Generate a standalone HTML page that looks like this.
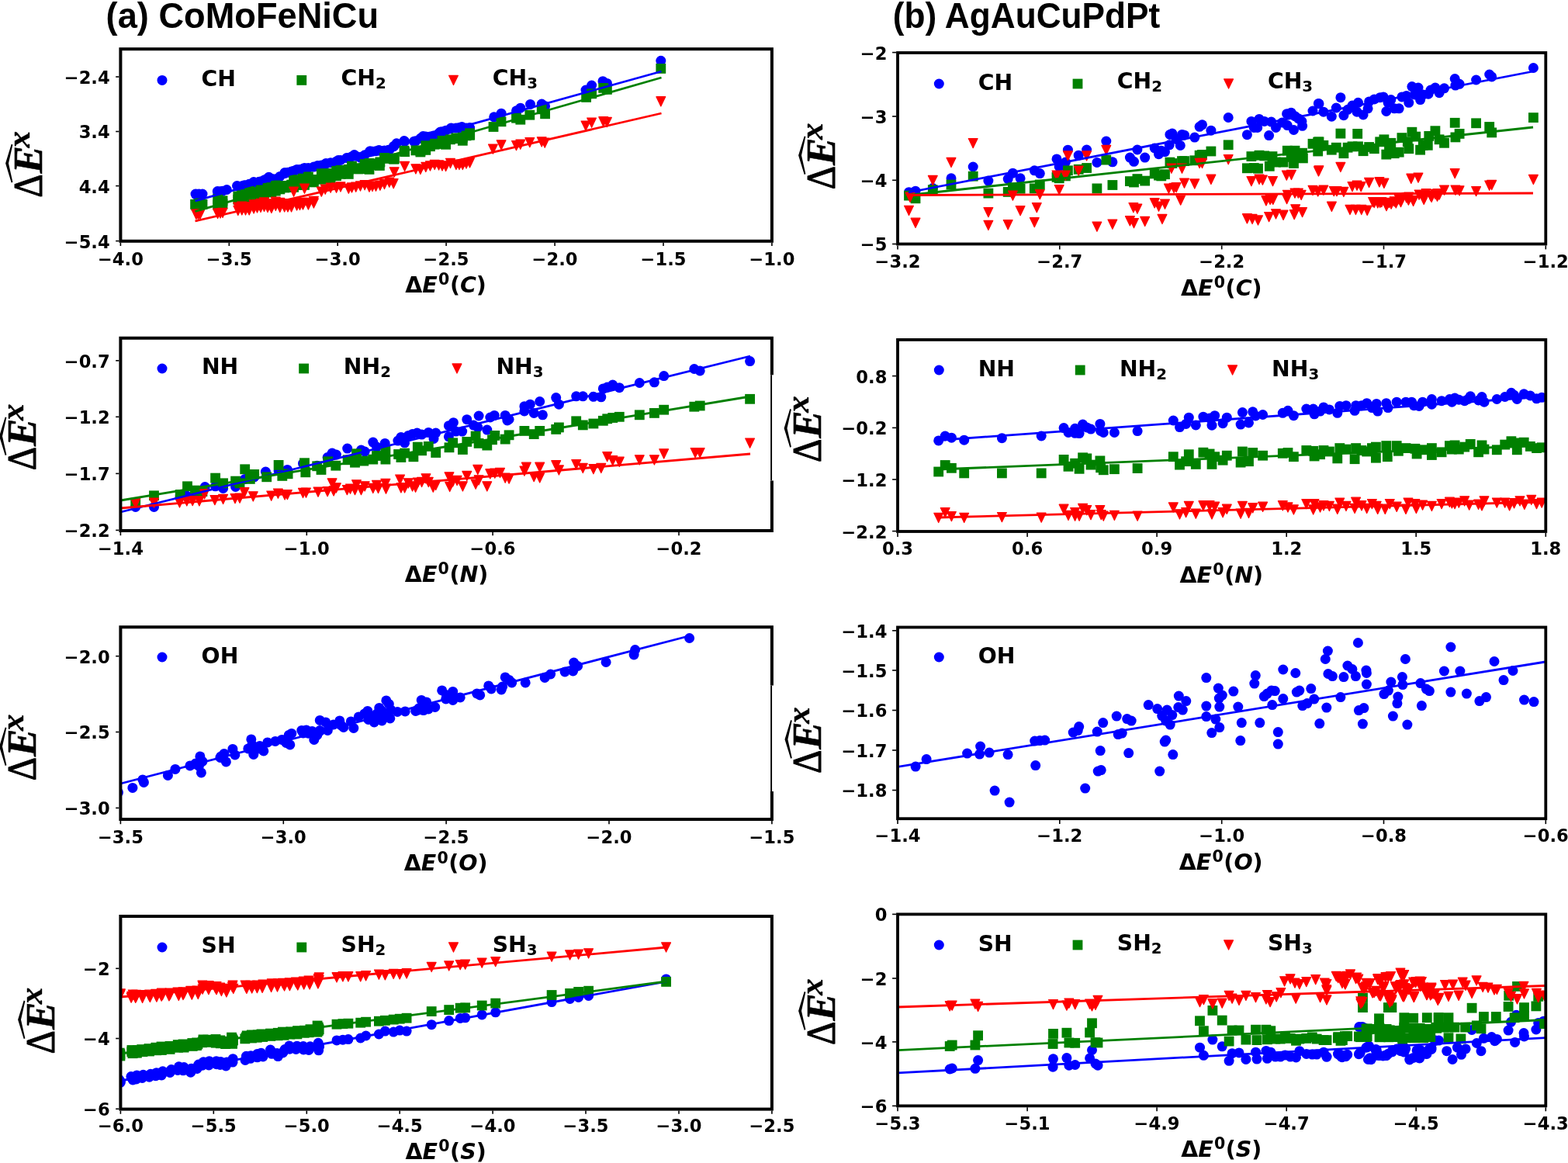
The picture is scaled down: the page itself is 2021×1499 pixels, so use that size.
<!DOCTYPE html>
<html lang="en"><head><meta charset="utf-8"><title>Scaling relations</title>
<style>
html,body{margin:0;padding:0;background:#fff;}
body{width:2021px;height:1499px;overflow:hidden;}
svg{display:block;}
.t{font-family:"DejaVu Sans","Liberation Sans",sans-serif;font-weight:bold;font-size:22.6px;fill:#000;}
.lg{font-family:"DejaVu Sans","Liberation Sans",sans-serif;font-weight:bold;font-size:28.3px;fill:#000;}
.xl{font-family:"DejaVu Sans","Liberation Sans",sans-serif;font-weight:bold;font-size:28.5px;fill:#000;}
.ttl{font-family:"Liberation Sans",sans-serif;font-weight:bold;font-size:46.5px;fill:#000;}
.yl{font-family:"Liberation Serif","DejaVu Serif",serif;font-weight:bold;fill:#000;}
.i{font-style:italic;}
.mb{fill:#0000ff;}.mg{fill:#008000;}.mr{fill:#ff0000;stroke:#ff0000;stroke-width:1.2;stroke-linejoin:round;}
</style></head><body>
<svg width="2021" height="1499" viewBox="0 0 2021 1499">
<rect x="0" y="0" width="2021" height="1499" fill="#fff"/>
<g id="a1">
<text class="t" x="141.7" y="107.9" text-anchor="end">−2.4</text>
<text class="t" x="141.7" y="178.4" text-anchor="end">−3.4</text>
<text class="t" x="141.7" y="248.5" text-anchor="end">−4.4</text>
<text class="t" x="141.7" y="319.5" text-anchor="end">−5.4</text>
<rect x="0" y="130" width="99.5" height="140" fill="#fff"/>
<clipPath id="c1"><rect x="155.4" y="63.2" width="839.5" height="247.6"/></clipPath>
<g clip-path="url(#c1)">
<circle class="mb" cx="252" cy="250.1" r="6.5"/>
<circle class="mb" cx="256.5" cy="250.1" r="6.5"/>
<circle class="mb" cx="261" cy="250.1" r="6.5"/>
<circle class="mb" cx="280.3" cy="246.5" r="6.5"/>
<circle class="mb" cx="292.3" cy="244.5" r="6.5"/>
<circle class="mb" cx="305.5" cy="239.5" r="6.5"/>
<circle class="mb" cx="315" cy="238.7" r="6.5"/>
<circle class="mb" cx="327" cy="234.5" r="6.5"/>
<circle class="mb" cx="334" cy="234.3" r="6.5"/>
<circle class="mb" cx="346.5" cy="228.3" r="6.5"/>
<circle class="mb" cx="354" cy="231" r="6.5"/>
<circle class="mb" cx="367" cy="222.6" r="6.5"/>
<circle class="mb" cx="382.6" cy="218.4" r="6.5"/>
<circle class="mb" cx="392.5" cy="216.4" r="6.5"/>
<circle class="mb" cx="409.3" cy="213.5" r="6.5"/>
<circle class="mb" cx="420.2" cy="210.5" r="6.5"/>
<circle class="mb" cx="436" cy="206.5" r="6.5"/>
<circle class="mb" cx="446.8" cy="203.6" r="6.5"/>
<circle class="mb" cx="456.7" cy="199.6" r="6.5"/>
<circle class="mb" cx="464.2" cy="202.6" r="6.5"/>
<circle class="mb" cx="477" cy="194.7" r="6.5"/>
<circle class="mb" cx="488.4" cy="193.5" r="6.5"/>
<circle class="mb" cx="500.8" cy="193.2" r="6.5"/>
<circle class="mb" cx="511.2" cy="184.8" r="6.5"/>
<circle class="mb" cx="520.9" cy="181.6" r="6.5"/>
<circle class="mb" cx="533.5" cy="182.3" r="6.5"/>
<circle class="mb" cx="545.3" cy="175.5" r="6.5"/>
<circle class="mb" cx="558.7" cy="174.9" r="6.5"/>
<circle class="mb" cx="567.6" cy="169.9" r="6.5"/>
<circle class="mb" cx="581.5" cy="164.9" r="6.5"/>
<circle class="mb" cx="595.3" cy="163.5" r="6.5"/>
<circle class="mb" cx="605.5" cy="164.5" r="6.5"/>
<circle class="mb" cx="636.7" cy="150.8" r="6.5"/>
<circle class="mb" cx="646.1" cy="146.2" r="6.5"/>
<circle class="mb" cx="665.5" cy="142.8" r="6.5"/>
<circle class="mb" cx="670.8" cy="139.2" r="6.5"/>
<circle class="mb" cx="683.5" cy="134.4" r="6.5"/>
<circle class="mb" cx="698.2" cy="134.1" r="6.5"/>
<circle class="mb" cx="702.6" cy="136.8" r="6.5"/>
<circle class="mb" cx="755" cy="116.1" r="6.5"/>
<circle class="mb" cx="762.6" cy="110.1" r="6.5"/>
<circle class="mb" cx="777" cy="104.7" r="6.5"/>
<circle class="mb" cx="782.4" cy="107.4" r="6.5"/>
<circle class="mb" cx="851.8" cy="78.3" r="6.5"/>
<circle class="mb" cx="252.9" cy="250.9" r="6.5"/>
<circle class="mb" cx="255.5" cy="250.9" r="6.5"/>
<circle class="mb" cx="257.8" cy="250.9" r="6.5"/>
<circle class="mb" cx="280.6" cy="247.2" r="6.5"/>
<circle class="mb" cx="284" cy="246.7" r="6.5"/>
<circle class="mb" cx="287" cy="246.2" r="6.5"/>
<circle class="mb" cx="306.8" cy="240.2" r="6.5"/>
<circle class="mb" cx="311.8" cy="239.8" r="6.5"/>
<circle class="mb" cx="316.5" cy="239" r="6.5"/>
<circle class="mb" cx="321.2" cy="237.3" r="6.5"/>
<circle class="mb" cx="327.1" cy="235.3" r="6.5"/>
<circle class="mb" cx="331.5" cy="235.2" r="6.5"/>
<circle class="mb" cx="336" cy="234.1" r="6.5"/>
<circle class="mb" cx="340.5" cy="232" r="6.5"/>
<circle class="mb" cx="345" cy="229.8" r="6.5"/>
<circle class="mb" cx="349.9" cy="230.3" r="6.5"/>
<circle class="mb" cx="355.3" cy="231" r="6.5"/>
<circle class="mb" cx="360.8" cy="227.4" r="6.5"/>
<circle class="mb" cx="366.7" cy="223.6" r="6.5"/>
<circle class="mb" cx="371" cy="222.3" r="6.5"/>
<circle class="mb" cx="375.6" cy="221.1" r="6.5"/>
<circle class="mb" cx="378.6" cy="220.3" r="6.5"/>
<circle class="mb" cx="382.6" cy="219.2" r="6.5"/>
<circle class="mb" cx="386.5" cy="218.4" r="6.5"/>
<circle class="mb" cx="390.5" cy="217.6" r="6.5"/>
<circle class="mb" cx="392.5" cy="217.2" r="6.5"/>
<circle class="mb" cx="397.4" cy="216.4" r="6.5"/>
<circle class="mb" cx="404.4" cy="215.1" r="6.5"/>
<circle class="mb" cx="414.3" cy="212.9" r="6.5"/>
<circle class="mb" cx="419.2" cy="211.6" r="6.5"/>
<circle class="mb" cx="426.1" cy="209.8" r="6.5"/>
<circle class="mb" cx="433.6" cy="207.9" r="6.5"/>
<circle class="mb" cx="439" cy="206.5" r="6.5"/>
<circle class="mb" cx="449.3" cy="203.4" r="6.5"/>
<circle class="mb" cx="453.5" cy="201.7" r="6.5"/>
<circle class="mb" cx="458.7" cy="201.2" r="6.5"/>
<circle class="mb" cx="464.5" cy="203.2" r="6.5"/>
<circle class="mb" cx="470.1" cy="199.8" r="6.5"/>
<circle class="mb" cx="476" cy="196.1" r="6.5"/>
<circle class="mb" cx="480" cy="195.2" r="6.5"/>
<circle class="mb" cx="484.5" cy="194.7" r="6.5"/>
<circle class="mb" cx="489.9" cy="194.3" r="6.5"/>
<circle class="mb" cx="495.5" cy="194.1" r="6.5"/>
<circle class="mb" cx="501.8" cy="193.2" r="6.5"/>
<circle class="mb" cx="507.2" cy="188.8" r="6.5"/>
<circle class="mb" cx="508.2" cy="188" r="6.5"/>
<circle class="mb" cx="521.6" cy="182.4" r="6.5"/>
<circle class="mb" cx="535.9" cy="181.7" r="6.5"/>
<circle class="mb" cx="541.9" cy="178.3" r="6.5"/>
<circle class="mb" cx="548.8" cy="176.1" r="6.5"/>
<circle class="mb" cx="554.5" cy="175.9" r="6.5"/>
<circle class="mb" cx="560.2" cy="174.9" r="6.5"/>
<circle class="mb" cx="565.6" cy="171.8" r="6.5"/>
<circle class="mb" cx="570" cy="169.8" r="6.5"/>
<circle class="mb" cx="574.6" cy="168.2" r="6.5"/>
<circle class="mb" cx="580.5" cy="166.1" r="6.5"/>
<circle class="mb" cx="587.9" cy="165.1" r="6.5"/>
<circle class="mb" cx="592" cy="164.6" r="6.5"/>
<circle class="mb" cx="596.3" cy="164.4" r="6.5"/>
<circle class="mb" cx="601" cy="164.9" r="6.5"/>
<circle class="mb" cx="605.5" cy="165.3" r="6.5"/>
<rect class="mg" x="246.5" y="258.5" width="12.8" height="12.8"/>
<rect class="mg" x="249.1" y="256.8" width="12.8" height="12.8"/>
<rect class="mg" x="251.4" y="255.6" width="12.8" height="12.8"/>
<rect class="mg" x="274.2" y="250.1" width="12.8" height="12.8"/>
<rect class="mg" x="277.6" y="253.4" width="12.8" height="12.8"/>
<rect class="mg" x="280.6" y="252.3" width="12.8" height="12.8"/>
<rect class="mg" x="300.4" y="246.5" width="12.8" height="12.8"/>
<rect class="mg" x="305.4" y="245.4" width="12.8" height="12.8"/>
<rect class="mg" x="310.1" y="244.2" width="12.8" height="12.8"/>
<rect class="mg" x="314.8" y="239.5" width="12.8" height="12.8"/>
<rect class="mg" x="320.7" y="242.1" width="12.8" height="12.8"/>
<rect class="mg" x="325.1" y="241.1" width="12.8" height="12.8"/>
<rect class="mg" x="329.6" y="238.5" width="12.8" height="12.8"/>
<rect class="mg" x="334.1" y="240.5" width="12.8" height="12.8"/>
<rect class="mg" x="338.6" y="235.8" width="12.8" height="12.8"/>
<rect class="mg" x="343.5" y="235.2" width="12.8" height="12.8"/>
<rect class="mg" x="348.9" y="232.5" width="12.8" height="12.8"/>
<rect class="mg" x="354.4" y="236.4" width="12.8" height="12.8"/>
<rect class="mg" x="360.3" y="233" width="12.8" height="12.8"/>
<rect class="mg" x="364.6" y="233" width="12.8" height="12.8"/>
<rect class="mg" x="369.2" y="231.7" width="12.8" height="12.8"/>
<rect class="mg" x="372.2" y="225.3" width="12.8" height="12.8"/>
<rect class="mg" x="376.2" y="228.4" width="12.8" height="12.8"/>
<rect class="mg" x="380.1" y="229.6" width="12.8" height="12.8"/>
<rect class="mg" x="384.1" y="223.7" width="12.8" height="12.8"/>
<rect class="mg" x="386.1" y="226.9" width="12.8" height="12.8"/>
<rect class="mg" x="391" y="221.4" width="12.8" height="12.8"/>
<rect class="mg" x="398" y="225" width="12.8" height="12.8"/>
<rect class="mg" x="407.9" y="217.4" width="12.8" height="12.8"/>
<rect class="mg" x="412.8" y="217.3" width="12.8" height="12.8"/>
<rect class="mg" x="419.7" y="217.1" width="12.8" height="12.8"/>
<rect class="mg" x="427.2" y="213.9" width="12.8" height="12.8"/>
<rect class="mg" x="432.6" y="212.9" width="12.8" height="12.8"/>
<rect class="mg" x="442.9" y="211.9" width="12.8" height="12.8"/>
<rect class="mg" x="447.1" y="207.8" width="12.8" height="12.8"/>
<rect class="mg" x="452.3" y="210.3" width="12.8" height="12.8"/>
<rect class="mg" x="458.1" y="211.3" width="12.8" height="12.8"/>
<rect class="mg" x="463.7" y="205.2" width="12.8" height="12.8"/>
<rect class="mg" x="469.6" y="204" width="12.8" height="12.8"/>
<rect class="mg" x="473.6" y="206.5" width="12.8" height="12.8"/>
<rect class="mg" x="478.1" y="205.6" width="12.8" height="12.8"/>
<rect class="mg" x="483.5" y="202.5" width="12.8" height="12.8"/>
<rect class="mg" x="489.1" y="197" width="12.8" height="12.8"/>
<rect class="mg" x="495.4" y="198" width="12.8" height="12.8"/>
<rect class="mg" x="500.8" y="198.6" width="12.8" height="12.8"/>
<rect class="mg" x="501.8" y="197.8" width="12.8" height="12.8"/>
<rect class="mg" x="515.2" y="189.3" width="12.8" height="12.8"/>
<rect class="mg" x="529.5" y="187.5" width="12.8" height="12.8"/>
<rect class="mg" x="535.5" y="189.6" width="12.8" height="12.8"/>
<rect class="mg" x="542.4" y="187" width="12.8" height="12.8"/>
<rect class="mg" x="548.1" y="182.3" width="12.8" height="12.8"/>
<rect class="mg" x="553.8" y="179.8" width="12.8" height="12.8"/>
<rect class="mg" x="559.2" y="179.1" width="12.8" height="12.8"/>
<rect class="mg" x="563.6" y="174.9" width="12.8" height="12.8"/>
<rect class="mg" x="568.2" y="179.4" width="12.8" height="12.8"/>
<rect class="mg" x="574.1" y="173.4" width="12.8" height="12.8"/>
<rect class="mg" x="581.5" y="171.5" width="12.8" height="12.8"/>
<rect class="mg" x="585.6" y="172.2" width="12.8" height="12.8"/>
<rect class="mg" x="589.9" y="170.8" width="12.8" height="12.8"/>
<rect class="mg" x="594.6" y="168.5" width="12.8" height="12.8"/>
<rect class="mg" x="599.1" y="165.3" width="12.8" height="12.8"/>
<rect class="mg" x="245.2" y="256.9" width="12.8" height="12.8"/>
<rect class="mg" x="249.6" y="256.9" width="12.8" height="12.8"/>
<rect class="mg" x="254.6" y="256.9" width="12.8" height="12.8"/>
<rect class="mg" x="428.6" y="217" width="12.8" height="12.8"/>
<rect class="mg" x="442.9" y="218" width="12.8" height="12.8"/>
<rect class="mg" x="455.3" y="211.5" width="12.8" height="12.8"/>
<rect class="mg" x="469.6" y="212" width="12.8" height="12.8"/>
<rect class="mg" x="483" y="207.1" width="12.8" height="12.8"/>
<rect class="mg" x="501.8" y="198.6" width="12.8" height="12.8"/>
<rect class="mg" x="514.6" y="187.8" width="12.8" height="12.8"/>
<rect class="mg" x="535.5" y="187.8" width="12.8" height="12.8"/>
<rect class="mg" x="542.4" y="181.3" width="12.8" height="12.8"/>
<rect class="mg" x="554.3" y="178.8" width="12.8" height="12.8"/>
<rect class="mg" x="568.2" y="179.8" width="12.8" height="12.8"/>
<rect class="mg" x="589.9" y="174.9" width="12.8" height="12.8"/>
<rect class="mg" x="599.3" y="167.5" width="12.8" height="12.8"/>
<rect class="mg" x="598.9" y="167.8" width="12.8" height="12.8"/>
<rect class="mg" x="629.6" y="157.1" width="12.8" height="12.8"/>
<rect class="mg" x="639.6" y="150.4" width="12.8" height="12.8"/>
<rect class="mg" x="659.1" y="145.8" width="12.8" height="12.8"/>
<rect class="mg" x="664.4" y="147.8" width="12.8" height="12.8"/>
<rect class="mg" x="676.4" y="141.8" width="12.8" height="12.8"/>
<rect class="mg" x="691.8" y="134.4" width="12.8" height="12.8"/>
<rect class="mg" x="696.2" y="140.4" width="12.8" height="12.8"/>
<rect class="mg" x="749.2" y="119" width="12.8" height="12.8"/>
<rect class="mg" x="756.2" y="114.4" width="12.8" height="12.8"/>
<rect class="mg" x="771.3" y="107" width="12.8" height="12.8"/>
<rect class="mg" x="776" y="109" width="12.8" height="12.8"/>
<rect class="mg" x="845.4" y="82" width="12.8" height="12.8"/>
<rect class="mg" x="274.2" y="257.6" width="12.8" height="12.8"/>
<rect class="mg" x="277.6" y="257.8" width="12.8" height="12.8"/>
<rect class="mg" x="280.6" y="256.6" width="12.8" height="12.8"/>
<rect class="mg" x="300.4" y="250.8" width="12.8" height="12.8"/>
<rect class="mg" x="305.4" y="251.8" width="12.8" height="12.8"/>
<rect class="mg" x="310.1" y="248.2" width="12.8" height="12.8"/>
<rect class="mg" x="314.8" y="247.7" width="12.8" height="12.8"/>
<rect class="mg" x="320.7" y="247.6" width="12.8" height="12.8"/>
<rect class="mg" x="325.1" y="246.2" width="12.8" height="12.8"/>
<rect class="mg" x="329.6" y="243.6" width="12.8" height="12.8"/>
<rect class="mg" x="334.1" y="242.2" width="12.8" height="12.8"/>
<rect class="mg" x="338.6" y="241.6" width="12.8" height="12.8"/>
<rect class="mg" x="343.5" y="241.2" width="12.8" height="12.8"/>
<rect class="mg" x="348.9" y="239.7" width="12.8" height="12.8"/>
<rect class="mg" x="354.4" y="237.5" width="12.8" height="12.8"/>
<rect class="mg" x="360.3" y="235.6" width="12.8" height="12.8"/>
<rect class="mg" x="364.6" y="234.8" width="12.8" height="12.8"/>
<rect class="mg" x="369.2" y="235.1" width="12.8" height="12.8"/>
<rect class="mg" x="372.2" y="234.9" width="12.8" height="12.8"/>
<rect class="mg" x="376.2" y="232.1" width="12.8" height="12.8"/>
<rect class="mg" x="380.1" y="231.1" width="12.8" height="12.8"/>
<rect class="mg" x="384.1" y="229.8" width="12.8" height="12.8"/>
<rect class="mg" x="386.1" y="232" width="12.8" height="12.8"/>
<rect class="mg" x="391" y="228" width="12.8" height="12.8"/>
<rect class="mg" x="398" y="228.5" width="12.8" height="12.8"/>
<rect class="mg" x="407.9" y="224.8" width="12.8" height="12.8"/>
<rect class="mg" x="412.8" y="224.6" width="12.8" height="12.8"/>
<rect class="mg" x="419.7" y="223.2" width="12.8" height="12.8"/>
<rect class="mg" x="427.2" y="220.3" width="12.8" height="12.8"/>
<rect class="mg" x="432.6" y="218" width="12.8" height="12.8"/>
<polygon class="mr" points="247,270.2 258.8,270.2 252.9,282.4"/>
<polygon class="mr" points="249.6,270.4 261.4,270.4 255.5,282.6"/>
<polygon class="mr" points="251.9,270.2 263.7,270.2 257.8,282.4"/>
<polygon class="mr" points="274.7,269.2 286.5,269.2 280.6,281.4"/>
<polygon class="mr" points="278.1,268.9 289.9,268.9 284,281.1"/>
<polygon class="mr" points="281.1,268.3 292.9,268.3 287,280.5"/>
<polygon class="mr" points="300.9,265.3 312.7,265.3 306.8,277.5"/>
<polygon class="mr" points="305.9,264.8 317.7,264.8 311.8,277"/>
<polygon class="mr" points="310.6,264.9 322.4,264.9 316.5,277.1"/>
<polygon class="mr" points="315.3,264.8 327.1,264.8 321.2,277"/>
<polygon class="mr" points="321.2,262.8 333,262.8 327.1,275"/>
<polygon class="mr" points="325.6,261.9 337.4,261.9 331.5,274.1"/>
<polygon class="mr" points="330.1,261.3 341.9,261.3 336,273.5"/>
<polygon class="mr" points="334.6,260.3 346.4,260.3 340.5,272.5"/>
<polygon class="mr" points="339.1,261.4 350.9,261.4 345,273.6"/>
<polygon class="mr" points="344,262.3 355.8,262.3 349.9,274.5"/>
<polygon class="mr" points="349.4,259.3 361.2,259.3 355.3,271.5"/>
<polygon class="mr" points="354.9,261.3 366.7,261.3 360.8,273.5"/>
<polygon class="mr" points="360.8,260.8 372.6,260.8 366.7,273"/>
<polygon class="mr" points="365.1,260.9 376.9,260.9 371,273.1"/>
<polygon class="mr" points="369.7,260.8 381.5,260.8 375.6,273"/>
<polygon class="mr" points="376.7,258.9 388.5,258.9 382.6,271.1"/>
<polygon class="mr" points="380.6,258.4 392.4,258.4 386.5,270.6"/>
<polygon class="mr" points="384.6,257.9 396.4,257.9 390.5,270.1"/>
<polygon class="mr" points="391.5,257.9 403.3,257.9 397.4,270.1"/>
<polygon class="mr" points="398.5,255.9 410.3,255.9 404.4,268.1"/>
<polygon class="mr" points="372.7,241 384.5,241 378.6,253.2"/>
<polygon class="mr" points="386.6,237.1 398.4,237.1 392.5,249.3"/>
<polygon class="mr" points="408.4,241 420.2,241 414.3,253.2"/>
<polygon class="mr" points="413.3,238.1 425.1,238.1 419.2,250.3"/>
<polygon class="mr" points="420.2,236.1 432,236.1 426.1,248.3"/>
<polygon class="mr" points="427.7,236.1 439.5,236.1 433.6,248.3"/>
<polygon class="mr" points="433.1,234.9 444.9,234.9 439,247.1"/>
<polygon class="mr" points="443.4,237.1 455.2,237.1 449.3,249.3"/>
<polygon class="mr" points="447.6,235.9 459.4,235.9 453.5,248.1"/>
<polygon class="mr" points="452.8,235.1 464.6,235.1 458.7,247.3"/>
<polygon class="mr" points="458.6,233.9 470.4,233.9 464.5,246.1"/>
<polygon class="mr" points="464.2,232.6 476,232.6 470.1,244.8"/>
<polygon class="mr" points="470.1,235.1 481.9,235.1 476,247.3"/>
<polygon class="mr" points="474.1,234.4 485.9,234.4 480,246.6"/>
<polygon class="mr" points="478.6,234.1 490.4,234.1 484.5,246.3"/>
<polygon class="mr" points="484,233.1 495.8,233.1 489.9,245.3"/>
<polygon class="mr" points="489.6,231.4 501.4,231.4 495.5,243.6"/>
<polygon class="mr" points="495.9,229.1 507.7,229.1 501.8,241.3"/>
<polygon class="mr" points="501.3,230.6 513.1,230.6 507.2,242.8"/>
<polygon class="mr" points="502.3,215.8 514.1,215.8 508.2,228"/>
<polygon class="mr" points="515.7,208.4 527.5,208.4 521.6,220.6"/>
<polygon class="mr" points="530,211.8 541.8,211.8 535.9,224"/>
<polygon class="mr" points="536,212.3 547.8,212.3 541.9,224.5"/>
<polygon class="mr" points="542.9,209.3 554.7,209.3 548.8,221.5"/>
<polygon class="mr" points="548.6,207.9 560.4,207.9 554.5,220.1"/>
<polygon class="mr" points="554.3,206.4 566.1,206.4 560.2,218.6"/>
<polygon class="mr" points="559.7,206.9 571.5,206.9 565.6,219.1"/>
<polygon class="mr" points="564.1,207.9 575.9,207.9 570,220.1"/>
<polygon class="mr" points="568.7,208.4 580.5,208.4 574.6,220.6"/>
<polygon class="mr" points="574.6,204.4 586.4,204.4 580.5,216.6"/>
<polygon class="mr" points="582,206.4 593.8,206.4 587.9,218.6"/>
<polygon class="mr" points="586.1,206.4 597.9,206.4 592,218.6"/>
<polygon class="mr" points="590.4,206.4 602.2,206.4 596.3,218.6"/>
<polygon class="mr" points="595.1,204.9 606.9,204.9 601,217.1"/>
<polygon class="mr" points="599.6,203.7 611.4,203.7 605.5,215.9"/>
<polygon class="mr" points="629.5,186.1 641.3,186.1 635.4,198.3"/>
<polygon class="mr" points="640.2,180.8 652,180.8 646.1,193"/>
<polygon class="mr" points="659.6,181.5 671.4,181.5 665.5,193.7"/>
<polygon class="mr" points="664.9,180.1 676.7,180.1 670.8,192.3"/>
<polygon class="mr" points="676.9,177.5 688.7,177.5 682.8,189.7"/>
<polygon class="mr" points="692.3,176.8 704.1,176.8 698.2,189"/>
<polygon class="mr" points="696.3,178.1 708.1,178.1 702.2,190.3"/>
<polygon class="mr" points="749.1,156.1 760.9,156.1 755,168.3"/>
<polygon class="mr" points="756.7,152.1 768.5,152.1 762.6,164.3"/>
<polygon class="mr" points="771.8,150.7 783.6,150.7 777.7,162.9"/>
<polygon class="mr" points="776.5,151.4 788.3,151.4 782.4,163.6"/>
<polygon class="mr" points="845.9,124.7 857.7,124.7 851.8,136.9"/>
<polygon class="mr" points="300.9,261.2 312.7,261.2 306.8,273.4"/>
<polygon class="mr" points="305.9,260.1 317.7,260.1 311.8,272.3"/>
<polygon class="mr" points="310.6,260.9 322.4,260.9 316.5,273.1"/>
<polygon class="mr" points="315.3,260.5 327.1,260.5 321.2,272.7"/>
<polygon class="mr" points="321.2,257.9 333,257.9 327.1,270.1"/>
<polygon class="mr" points="325.6,257.7 337.4,257.7 331.5,269.9"/>
<polygon class="mr" points="330.1,256.4 341.9,256.4 336,268.6"/>
<polygon class="mr" points="334.6,254.9 346.4,254.9 340.5,267.1"/>
<polygon class="mr" points="339.1,256.8 350.9,256.8 345,269"/>
<polygon class="mr" points="344,257.4 355.8,257.4 349.9,269.6"/>
<polygon class="mr" points="349.4,254.2 361.2,254.2 355.3,266.4"/>
<polygon class="mr" points="354.9,255.4 366.7,255.4 360.8,267.6"/>
<polygon class="mr" points="360.8,256.6 372.6,256.6 366.7,268.8"/>
<polygon class="mr" points="365.1,256.8 376.9,256.8 371,269"/>
<polygon class="mr" points="369.7,258.3 381.5,258.3 375.6,270.5"/>
<polygon class="mr" points="376.7,256.4 388.5,256.4 382.6,268.6"/>
<polygon class="mr" points="380.6,255.9 392.4,255.9 386.5,268.1"/>
<polygon class="mr" points="384.6,255.4 396.4,255.4 390.5,267.6"/>
<polygon class="mr" points="391.5,255.4 403.3,255.4 397.4,267.6"/>
<polygon class="mr" points="398.5,253.4 410.3,253.4 404.4,265.6"/>
<line x1="251.5" y1="259" x2="852.5" y2="92" stroke="#0000ff" stroke-width="2.8" stroke-linecap="butt"/>
<line x1="251.5" y1="272.5" x2="852.5" y2="100" stroke="#008000" stroke-width="2.8" stroke-linecap="butt"/>
<line x1="251.5" y1="285" x2="852.5" y2="146" stroke="#ff0000" stroke-width="2.8" stroke-linecap="butt"/>
</g>
<line x1="149.2" y1="99" x2="153.4" y2="99" stroke="#000" stroke-width="1.6"/>
<line x1="149.2" y1="169.5" x2="153.4" y2="169.5" stroke="#000" stroke-width="1.6"/>
<line x1="149.2" y1="239.6" x2="153.4" y2="239.6" stroke="#000" stroke-width="1.6"/>
<line x1="149.2" y1="310.6" x2="153.4" y2="310.6" stroke="#000" stroke-width="1.6"/>
<line x1="155.4" y1="312.8" x2="155.4" y2="317" stroke="#000" stroke-width="1.6"/>
<text class="t" x="155.4" y="341.5" text-anchor="middle">−4.0</text>
<line x1="295.3" y1="312.8" x2="295.3" y2="317" stroke="#000" stroke-width="1.6"/>
<text class="t" x="295.3" y="341.5" text-anchor="middle">−3.5</text>
<line x1="435.2" y1="312.8" x2="435.2" y2="317" stroke="#000" stroke-width="1.6"/>
<text class="t" x="435.2" y="341.5" text-anchor="middle">−3.0</text>
<line x1="575.1" y1="312.8" x2="575.1" y2="317" stroke="#000" stroke-width="1.6"/>
<text class="t" x="575.1" y="341.5" text-anchor="middle">−2.5</text>
<line x1="715.1" y1="312.8" x2="715.1" y2="317" stroke="#000" stroke-width="1.6"/>
<text class="t" x="715.1" y="341.5" text-anchor="middle">−2.0</text>
<line x1="855" y1="312.8" x2="855" y2="317" stroke="#000" stroke-width="1.6"/>
<text class="t" x="855" y="341.5" text-anchor="middle">−1.5</text>
<line x1="994.9" y1="312.8" x2="994.9" y2="317" stroke="#000" stroke-width="1.6"/>
<text class="t" x="994.9" y="341.5" text-anchor="middle">−1.0</text>
<rect x="155.4" y="63.2" width="839.5" height="247.6" fill="none" stroke="#000" stroke-width="4.0"/>
<circle class="mb" cx="209" cy="103.4" r="6.5"/>
<text class="lg" x="259.6" y="110.8">CH</text>
<rect class="mg" x="382.4" y="97" width="12.8" height="12.8"/>
<text class="lg" x="439.5" y="109.5">CH<tspan dy="4.2" font-size="19.8px">2</tspan></text>
<polygon class="mr" points="578.6,97.3 590.4,97.3 584.5,109.5"/>
<text class="lg" x="634.7" y="109.5">CH<tspan dy="4.2" font-size="19.8px">3</tspan></text>
<text class="xl" x="574.6" y="376.9" text-anchor="middle">Δ<tspan class="i">E</tspan><tspan dy="-9.7" dx="1.2" font-size="20.5px">0</tspan><tspan dy="9.7" dx="0.6">(</tspan><tspan class="i">C</tspan>)</text>
<g transform="translate(54 254.7) rotate(-90)">
<text class="yl" transform="scale(0.89 1)" x="0" y="0" font-size="53px" style="font-weight:normal" stroke="#000" stroke-width="1">Δ</text>
<text class="yl i" x="31.3" y="0" font-size="53px" stroke="#000" stroke-width="0.6">E</text>
<text class="yl i" x="64.2" y="-15.8" font-size="43px" stroke="#000" stroke-width="0.4">x</text>
<polygon points="19.3,-39.3 44.1,-46.9 68.9,-39.3 68.2,-37.6 44.1,-43 20,-37.6" fill="#000"/>
</g>
</g>
<g id="a2">
<text class="t" x="141.7" y="473.7" text-anchor="end">−0.7</text>
<text class="t" x="141.7" y="546.2" text-anchor="end">−1.2</text>
<text class="t" x="141.7" y="619.3" text-anchor="end">−1.7</text>
<text class="t" x="141.7" y="692.3" text-anchor="end">−2.2</text>
<clipPath id="c2"><rect x="155.4" y="435.7" width="839.5" height="248.3"/></clipPath>
<g clip-path="url(#c2)">
<circle class="mb" cx="174.7" cy="653.4" r="6.5"/>
<circle class="mb" cx="198.5" cy="653.5" r="6.5"/>
<circle class="mb" cx="232.2" cy="640.2" r="6.5"/>
<circle class="mb" cx="240.2" cy="638.8" r="6.5"/>
<circle class="mb" cx="251.5" cy="634.8" r="6.5"/>
<circle class="mb" cx="264.2" cy="627.5" r="6.5"/>
<circle class="mb" cx="277.6" cy="626.8" r="6.5"/>
<circle class="mb" cx="287.6" cy="629.5" r="6.5"/>
<circle class="mb" cx="303.6" cy="627.5" r="6.5"/>
<circle class="mb" cx="315.7" cy="617.4" r="6.5"/>
<circle class="mb" cx="327.7" cy="614.8" r="6.5"/>
<circle class="mb" cx="342.4" cy="608.1" r="6.5"/>
<circle class="mb" cx="359.1" cy="606.8" r="6.5"/>
<circle class="mb" cx="370.4" cy="605.4" r="6.5"/>
<circle class="mb" cx="390.5" cy="597.4" r="6.5"/>
<circle class="mb" cx="408.7" cy="600.2" r="6.5"/>
<circle class="mb" cx="422.1" cy="589.5" r="6.5"/>
<circle class="mb" cx="428.1" cy="584.1" r="6.5"/>
<circle class="mb" cx="433.4" cy="586.1" r="6.5"/>
<circle class="mb" cx="447.7" cy="578.1" r="6.5"/>
<circle class="mb" cx="465.5" cy="580.1" r="6.5"/>
<circle class="mb" cx="470.2" cy="582.1" r="6.5"/>
<circle class="mb" cx="480.8" cy="570.1" r="6.5"/>
<circle class="mb" cx="485.5" cy="576.1" r="6.5"/>
<circle class="mb" cx="496.2" cy="571.4" r="6.5"/>
<circle class="mb" cx="512.9" cy="568.1" r="6.5"/>
<circle class="mb" cx="516.9" cy="563.4" r="6.5"/>
<circle class="mb" cx="521.6" cy="570.8" r="6.5"/>
<circle class="mb" cx="526.3" cy="561.4" r="6.5"/>
<circle class="mb" cx="531.6" cy="559.4" r="6.5"/>
<circle class="mb" cx="537.6" cy="558.1" r="6.5"/>
<circle class="mb" cx="543.6" cy="560.1" r="6.5"/>
<circle class="mb" cx="552.3" cy="557.4" r="6.5"/>
<circle class="mb" cx="561.7" cy="558.1" r="6.5"/>
<circle class="mb" cx="559" cy="565.4" r="6.5"/>
<circle class="mb" cx="578.4" cy="548.7" r="6.5"/>
<circle class="mb" cx="584.4" cy="544.7" r="6.5"/>
<circle class="mb" cx="578.4" cy="562.8" r="6.5"/>
<circle class="mb" cx="587.7" cy="556.1" r="6.5"/>
<circle class="mb" cx="595.7" cy="556.1" r="6.5"/>
<circle class="mb" cx="601.8" cy="540.7" r="6.5"/>
<circle class="mb" cx="610.4" cy="548.1" r="6.5"/>
<circle class="mb" cx="617.1" cy="536" r="6.5"/>
<circle class="mb" cx="615.8" cy="550.7" r="6.5"/>
<circle class="mb" cx="627.8" cy="554.1" r="6.5"/>
<circle class="mb" cx="631.8" cy="538" r="6.5"/>
<circle class="mb" cx="637.2" cy="535.4" r="6.5"/>
<circle class="mb" cx="651.2" cy="535.4" r="6.5"/>
<circle class="mb" cx="653.9" cy="542" r="6.5"/>
<circle class="mb" cx="966.6" cy="465.6" r="6.5"/>
<circle class="mb" cx="902.2" cy="477.9" r="6.5"/>
<circle class="mb" cx="894.8" cy="475.5" r="6.5"/>
<circle class="mb" cx="855.7" cy="484.6" r="6.5"/>
<circle class="mb" cx="843.4" cy="492.8" r="6.5"/>
<circle class="mb" cx="824.3" cy="493.5" r="6.5"/>
<circle class="mb" cx="798.3" cy="499.7" r="6.5"/>
<circle class="mb" cx="789.7" cy="496" r="6.5"/>
<circle class="mb" cx="782.7" cy="499" r="6.5"/>
<circle class="mb" cx="777.3" cy="500.9" r="6.5"/>
<circle class="mb" cx="774.8" cy="511.8" r="6.5"/>
<circle class="mb" cx="764.9" cy="511.3" r="6.5"/>
<circle class="mb" cx="751.3" cy="510.8" r="6.5"/>
<circle class="mb" cx="742.7" cy="510.8" r="6.5"/>
<circle class="mb" cx="720.4" cy="521.2" r="6.5"/>
<circle class="mb" cx="716.7" cy="512.6" r="6.5"/>
<circle class="mb" cx="695.7" cy="517.5" r="6.5"/>
<circle class="mb" cx="683.3" cy="521.2" r="6.5"/>
<circle class="mb" cx="675.9" cy="523.7" r="6.5"/>
<circle class="mb" cx="675.9" cy="529.9" r="6.5"/>
<circle class="mb" cx="688.2" cy="532.4" r="6.5"/>
<circle class="mb" cx="699.4" cy="534.8" r="6.5"/>
<circle class="mb" cx="656.1" cy="540.5" r="6.5"/>
<rect class="mg" x="168.3" y="641.8" width="12.8" height="12.8"/>
<rect class="mg" x="192.1" y="632.4" width="12.8" height="12.8"/>
<rect class="mg" x="225.8" y="631.1" width="12.8" height="12.8"/>
<rect class="mg" x="235.1" y="620.4" width="12.8" height="12.8"/>
<rect class="mg" x="245.1" y="625.7" width="12.8" height="12.8"/>
<rect class="mg" x="254.5" y="627.1" width="12.8" height="12.8"/>
<rect class="mg" x="271.2" y="609.7" width="12.8" height="12.8"/>
<rect class="mg" x="281.2" y="616.4" width="12.8" height="12.8"/>
<rect class="mg" x="297.2" y="613.7" width="12.8" height="12.8"/>
<rect class="mg" x="302.6" y="616.4" width="12.8" height="12.8"/>
<rect class="mg" x="309.3" y="598.4" width="12.8" height="12.8"/>
<rect class="mg" x="321.3" y="605" width="12.8" height="12.8"/>
<rect class="mg" x="315.9" y="611" width="12.8" height="12.8"/>
<rect class="mg" x="337.3" y="608.4" width="12.8" height="12.8"/>
<rect class="mg" x="352.7" y="593" width="12.8" height="12.8"/>
<rect class="mg" x="364.7" y="604.4" width="12.8" height="12.8"/>
<rect class="mg" x="357.4" y="607" width="12.8" height="12.8"/>
<rect class="mg" x="386.1" y="590.3" width="12.8" height="12.8"/>
<rect class="mg" x="387.4" y="602.4" width="12.8" height="12.8"/>
<rect class="mg" x="402.3" y="594.4" width="12.8" height="12.8"/>
<rect class="mg" x="407.6" y="599.1" width="12.8" height="12.8"/>
<rect class="mg" x="416.3" y="588.4" width="12.8" height="12.8"/>
<rect class="mg" x="426.4" y="593.8" width="12.8" height="12.8"/>
<rect class="mg" x="441.7" y="586.4" width="12.8" height="12.8"/>
<rect class="mg" x="451.1" y="589.8" width="12.8" height="12.8"/>
<rect class="mg" x="453.1" y="578.4" width="12.8" height="12.8"/>
<rect class="mg" x="462.4" y="587.7" width="12.8" height="12.8"/>
<rect class="mg" x="474.4" y="585.7" width="12.8" height="12.8"/>
<rect class="mg" x="479.1" y="581.1" width="12.8" height="12.8"/>
<rect class="mg" x="490.5" y="585.7" width="12.8" height="12.8"/>
<rect class="mg" x="490.5" y="575.1" width="12.8" height="12.8"/>
<rect class="mg" x="507.2" y="579.1" width="12.8" height="12.8"/>
<rect class="mg" x="510.5" y="583.1" width="12.8" height="12.8"/>
<rect class="mg" x="515.2" y="577.7" width="12.8" height="12.8"/>
<rect class="mg" x="526.5" y="582.4" width="12.8" height="12.8"/>
<rect class="mg" x="531.9" y="569.7" width="12.8" height="12.8"/>
<rect class="mg" x="537.2" y="574.4" width="12.8" height="12.8"/>
<rect class="mg" x="545.9" y="569" width="12.8" height="12.8"/>
<rect class="mg" x="555.3" y="577.1" width="12.8" height="12.8"/>
<rect class="mg" x="572.6" y="570.4" width="12.8" height="12.8"/>
<rect class="mg" x="577.3" y="564.4" width="12.8" height="12.8"/>
<rect class="mg" x="590" y="573.1" width="12.8" height="12.8"/>
<rect class="mg" x="595.4" y="563" width="12.8" height="12.8"/>
<rect class="mg" x="606.7" y="555.7" width="12.8" height="12.8"/>
<rect class="mg" x="610.7" y="565" width="12.8" height="12.8"/>
<rect class="mg" x="621.4" y="567.7" width="12.8" height="12.8"/>
<rect class="mg" x="628.1" y="560.4" width="12.8" height="12.8"/>
<rect class="mg" x="631.4" y="555" width="12.8" height="12.8"/>
<rect class="mg" x="644.8" y="559.7" width="12.8" height="12.8"/>
<rect class="mg" x="960.2" y="507.9" width="12.8" height="12.8"/>
<rect class="mg" x="895.8" y="516.6" width="12.8" height="12.8"/>
<rect class="mg" x="888.4" y="517.8" width="12.8" height="12.8"/>
<rect class="mg" x="849.3" y="521.8" width="12.8" height="12.8"/>
<rect class="mg" x="837" y="526" width="12.8" height="12.8"/>
<rect class="mg" x="817.9" y="528.4" width="12.8" height="12.8"/>
<rect class="mg" x="791.9" y="530.9" width="12.8" height="12.8"/>
<rect class="mg" x="783.3" y="532.1" width="12.8" height="12.8"/>
<rect class="mg" x="776.3" y="533.4" width="12.8" height="12.8"/>
<rect class="mg" x="770.9" y="535.9" width="12.8" height="12.8"/>
<rect class="mg" x="758.5" y="539.6" width="12.8" height="12.8"/>
<rect class="mg" x="744.9" y="541.5" width="12.8" height="12.8"/>
<rect class="mg" x="736.3" y="536.4" width="12.8" height="12.8"/>
<rect class="mg" x="714" y="544.5" width="12.8" height="12.8"/>
<rect class="mg" x="710.3" y="547" width="12.8" height="12.8"/>
<rect class="mg" x="689.3" y="549" width="12.8" height="12.8"/>
<rect class="mg" x="681.8" y="553.2" width="12.8" height="12.8"/>
<rect class="mg" x="669.5" y="549" width="12.8" height="12.8"/>
<rect class="mg" x="649.7" y="554.4" width="12.8" height="12.8"/>
<polygon class="mr" points="168.8,642.7 180.6,642.7 174.7,654.9"/>
<polygon class="mr" points="192.6,642.1 204.4,642.1 198.5,654.3"/>
<polygon class="mr" points="225.6,641.8 237.4,641.8 231.5,654"/>
<polygon class="mr" points="234.9,639.8 246.7,639.8 240.8,652"/>
<polygon class="mr" points="242.3,639.5 254.1,639.5 248.2,651.7"/>
<polygon class="mr" points="251,639.8 262.8,639.8 256.9,652"/>
<polygon class="mr" points="257.7,630.7 269.5,630.7 263.6,642.9"/>
<polygon class="mr" points="271,638.5 282.8,638.5 276.9,650.7"/>
<polygon class="mr" points="281.7,637.4 293.5,637.4 287.6,649.6"/>
<polygon class="mr" points="297.1,636.5 308.9,636.5 303,648.7"/>
<polygon class="mr" points="303.1,636.1 314.9,636.1 309,648.3"/>
<polygon class="mr" points="309.1,628.7 320.9,628.7 315,640.9"/>
<polygon class="mr" points="320.4,633.8 332.2,633.8 326.3,646"/>
<polygon class="mr" points="343.8,633.1 355.6,633.1 349.7,645.3"/>
<polygon class="mr" points="352.5,630.1 364.3,630.1 358.4,642.3"/>
<polygon class="mr" points="361.2,631.8 373,631.8 367.1,644"/>
<polygon class="mr" points="364.5,631.5 376.3,631.5 370.4,643.7"/>
<polygon class="mr" points="384.6,629.4 396.4,629.4 390.5,641.6"/>
<polygon class="mr" points="388.6,629.1 400.4,629.1 394.5,641.3"/>
<polygon class="mr" points="404.1,628.1 415.9,628.1 410,640.3"/>
<polygon class="mr" points="416.2,627.5 428,627.5 422.1,639.7"/>
<polygon class="mr" points="422.2,616.8 434,616.8 428.1,629"/>
<polygon class="mr" points="424.2,626.8 436,626.8 430.1,639"/>
<polygon class="mr" points="427.5,622.8 439.3,622.8 433.4,635"/>
<polygon class="mr" points="441.5,625.5 453.3,625.5 447.4,637.7"/>
<polygon class="mr" points="445.6,624.1 457.4,624.1 451.5,636.3"/>
<polygon class="mr" points="451.6,625.5 463.4,625.5 457.5,637.7"/>
<polygon class="mr" points="453.6,618.8 465.4,618.8 459.5,631"/>
<polygon class="mr" points="459.6,625.5 471.4,625.5 465.5,637.7"/>
<polygon class="mr" points="464.3,620.8 476.1,620.8 470.2,633"/>
<polygon class="mr" points="474.9,623.4 486.7,623.4 480.8,635.6"/>
<polygon class="mr" points="479.6,619.4 491.4,619.4 485.5,631.6"/>
<polygon class="mr" points="481.6,623.4 493.4,623.4 487.5,635.6"/>
<polygon class="mr" points="491,617.4 502.8,617.4 496.9,629.6"/>
<polygon class="mr" points="491.6,624.1 503.4,624.1 497.5,636.3"/>
<polygon class="mr" points="509.7,612.1 521.5,612.1 515.6,624.3"/>
<polygon class="mr" points="511,622.8 522.8,622.8 516.9,635"/>
<polygon class="mr" points="515.7,622.8 527.5,622.8 521.6,635"/>
<polygon class="mr" points="520.4,616.8 532.2,616.8 526.3,629"/>
<polygon class="mr" points="525.7,620.8 537.5,620.8 531.6,633"/>
<polygon class="mr" points="529.7,622.1 541.5,622.1 535.6,634.3"/>
<polygon class="mr" points="532.4,616.1 544.2,616.1 538.3,628.3"/>
<polygon class="mr" points="537.7,615.4 549.5,615.4 543.6,627.6"/>
<polygon class="mr" points="543.1,610.8 554.9,610.8 549,623"/>
<polygon class="mr" points="546.4,615.4 558.2,615.4 552.3,627.6"/>
<polygon class="mr" points="552.4,622.1 564.2,622.1 558.3,634.3"/>
<polygon class="mr" points="555.8,619.4 567.6,619.4 561.7,631.6"/>
<polygon class="mr" points="573.1,608.8 584.9,608.8 579,621"/>
<polygon class="mr" points="573.8,621.4 585.6,621.4 579.7,633.6"/>
<polygon class="mr" points="577.8,614.8 589.6,614.8 583.7,627"/>
<polygon class="mr" points="583.2,613.4 595,613.4 589.1,625.6"/>
<polygon class="mr" points="590.5,620.8 602.3,620.8 596.4,633"/>
<polygon class="mr" points="595.9,607.4 607.7,607.4 601.8,619.6"/>
<polygon class="mr" points="607.2,618.1 619,618.1 613.1,630.3"/>
<polygon class="mr" points="609.9,599.4 621.7,599.4 615.8,611.6"/>
<polygon class="mr" points="611.2,612.8 623,612.8 617.1,625"/>
<polygon class="mr" points="621.9,620.8 633.7,620.8 627.8,633"/>
<polygon class="mr" points="625.9,604.7 637.7,604.7 631.8,616.9"/>
<polygon class="mr" points="631.9,604.1 643.7,604.1 637.8,616.3"/>
<polygon class="mr" points="638.6,603.4 650.4,603.4 644.5,615.6"/>
<polygon class="mr" points="645.3,610.1 657.1,610.1 651.2,622.3"/>
<polygon class="mr" points="896.3,577.6 908.1,577.6 902.2,589.8"/>
<polygon class="mr" points="890.2,577.6 902,577.6 896.1,589.8"/>
<polygon class="mr" points="849.8,578.8 861.6,578.8 855.7,591"/>
<polygon class="mr" points="837.5,586.8 849.3,586.8 843.4,599"/>
<polygon class="mr" points="818.4,586.8 830.2,586.8 824.3,599"/>
<polygon class="mr" points="792.4,589.2 804.2,589.2 798.3,601.4"/>
<polygon class="mr" points="783.8,587.5 795.6,587.5 789.7,599.7"/>
<polygon class="mr" points="776.8,582.6 788.6,582.6 782.7,594.8"/>
<polygon class="mr" points="768.9,597.4 780.7,597.4 774.8,609.6"/>
<polygon class="mr" points="759,598.6 770.8,598.6 764.9,610.8"/>
<polygon class="mr" points="745.4,597.4 757.2,597.4 751.3,609.6"/>
<polygon class="mr" points="736.8,592.5 748.6,592.5 742.7,604.7"/>
<polygon class="mr" points="714.5,599.9 726.3,599.9 720.4,612.1"/>
<polygon class="mr" points="710.8,593.7 722.6,593.7 716.7,605.9"/>
<polygon class="mr" points="689.8,609.8 701.6,609.8 695.7,622"/>
<polygon class="mr" points="689.8,596.2 701.6,596.2 695.7,608.4"/>
<polygon class="mr" points="682.3,608.5 694.1,608.5 688.2,620.7"/>
<polygon class="mr" points="672.4,596.2 684.2,596.2 678.3,608.4"/>
<polygon class="mr" points="670,601.1 681.8,601.1 675.9,613.3"/>
<polygon class="mr" points="650.2,611 662,611 656.1,623.2"/>
<polygon class="mr" points="960.7,565.1 972.5,565.1 966.6,577.3"/>
<line x1="155.4" y1="660" x2="967" y2="459" stroke="#0000ff" stroke-width="2.8" stroke-linecap="butt"/>
<line x1="155.4" y1="645" x2="967" y2="511" stroke="#008000" stroke-width="2.8" stroke-linecap="butt"/>
<line x1="155.4" y1="655" x2="967" y2="585" stroke="#ff0000" stroke-width="2.8" stroke-linecap="butt"/>
</g>
<line x1="149.2" y1="464.8" x2="153.4" y2="464.8" stroke="#000" stroke-width="1.6"/>
<line x1="149.2" y1="537.3" x2="153.4" y2="537.3" stroke="#000" stroke-width="1.6"/>
<line x1="149.2" y1="610.4" x2="153.4" y2="610.4" stroke="#000" stroke-width="1.6"/>
<line x1="149.2" y1="683.4" x2="153.4" y2="683.4" stroke="#000" stroke-width="1.6"/>
<line x1="155.4" y1="686" x2="155.4" y2="690.2" stroke="#000" stroke-width="1.6"/>
<text class="t" x="155.4" y="714.5" text-anchor="middle">−1.4</text>
<line x1="395.3" y1="686" x2="395.3" y2="690.2" stroke="#000" stroke-width="1.6"/>
<text class="t" x="395.3" y="714.5" text-anchor="middle">−1.0</text>
<line x1="635.1" y1="686" x2="635.1" y2="690.2" stroke="#000" stroke-width="1.6"/>
<text class="t" x="635.1" y="714.5" text-anchor="middle">−0.6</text>
<line x1="875" y1="686" x2="875" y2="690.2" stroke="#000" stroke-width="1.6"/>
<text class="t" x="875" y="714.5" text-anchor="middle">−0.2</text>
<path d="M994.9 483.2 V435.7 H155.4 V684 H994.9 V619.4" fill="none" stroke="#000" stroke-width="4.0" stroke-linejoin="miter" stroke-linecap="butt"/>
<line x1="994.1" y1="483.2" x2="994.1" y2="619.4" stroke="#000" stroke-width="1.9"/>
<circle class="mb" cx="209" cy="475" r="6.5"/>
<text class="lg" x="259.9" y="482.1">NH</text>
<rect class="mg" x="385.2" y="468.6" width="12.8" height="12.8"/>
<text class="lg" x="442.8" y="482.1">NH<tspan dy="4.2" font-size="19.8px">2</tspan></text>
<polygon class="mr" points="583.1,468.9 594.9,468.9 589,481.1"/>
<text class="lg" x="639.4" y="482.1">NH<tspan dy="4.2" font-size="19.8px">3</tspan></text>
<text class="xl" x="575.6" y="750.1" text-anchor="middle">Δ<tspan class="i">E</tspan><tspan dy="-9.7" dx="1.2" font-size="20.5px">0</tspan><tspan dy="9.7" dx="0.6">(</tspan><tspan class="i">N</tspan>)</text>
<g transform="translate(46 606.3) rotate(-90)">
<text class="yl" transform="scale(0.89 1)" x="0" y="0" font-size="53px" style="font-weight:normal" stroke="#000" stroke-width="1">Δ</text>
<text class="yl i" x="31.3" y="0" font-size="53px" stroke="#000" stroke-width="0.6">E</text>
<text class="yl i" x="64.2" y="-15.8" font-size="43px" stroke="#000" stroke-width="0.4">x</text>
<polygon points="19.3,-39.3 44.1,-46.9 68.9,-39.3 68.2,-37.6 44.1,-43 20,-37.6" fill="#000"/>
</g>
</g>
<g id="a3">
<text class="t" x="141.7" y="854.6" text-anchor="end">−2.0</text>
<text class="t" x="141.7" y="952.4" text-anchor="end">−2.5</text>
<text class="t" x="141.7" y="1050.3" text-anchor="end">−3.0</text>
<clipPath id="c3"><rect x="155.4" y="808.3" width="839.5" height="247.7"/></clipPath>
<g clip-path="url(#c3)">
<circle class="mb" cx="152.4" cy="1021.4" r="6.5"/>
<circle class="mb" cx="170.9" cy="1015.4" r="6.5"/>
<circle class="mb" cx="183.9" cy="1004.9" r="6.5"/>
<circle class="mb" cx="185.4" cy="1008.4" r="6.5"/>
<circle class="mb" cx="216.4" cy="999.4" r="6.5"/>
<circle class="mb" cx="225.9" cy="991.4" r="6.5"/>
<circle class="mb" cx="244.9" cy="986.9" r="6.5"/>
<circle class="mb" cx="252.4" cy="983.9" r="6.5"/>
<circle class="mb" cx="257.9" cy="974.9" r="6.5"/>
<circle class="mb" cx="260.9" cy="981.4" r="6.5"/>
<circle class="mb" cx="259.4" cy="995.9" r="6.5"/>
<circle class="mb" cx="283.9" cy="976.4" r="6.5"/>
<circle class="mb" cx="288.9" cy="971.4" r="6.5"/>
<circle class="mb" cx="291.4" cy="981.9" r="6.5"/>
<circle class="mb" cx="299.9" cy="965.4" r="6.5"/>
<circle class="mb" cx="302.9" cy="972.9" r="6.5"/>
<circle class="mb" cx="319.8" cy="964.9" r="6.5"/>
<circle class="mb" cx="323.8" cy="952.9" r="6.5"/>
<circle class="mb" cx="324.8" cy="959.9" r="6.5"/>
<circle class="mb" cx="326.8" cy="972.4" r="6.5"/>
<circle class="mb" cx="334.8" cy="961.4" r="6.5"/>
<circle class="mb" cx="339.8" cy="967.9" r="6.5"/>
<circle class="mb" cx="344.8" cy="956.9" r="6.5"/>
<circle class="mb" cx="354.8" cy="955.4" r="6.5"/>
<circle class="mb" cx="363.3" cy="953.4" r="6.5"/>
<circle class="mb" cx="368.8" cy="957.4" r="6.5"/>
<circle class="mb" cx="372.3" cy="947.4" r="6.5"/>
<circle class="mb" cx="375.8" cy="945.4" r="6.5"/>
<circle class="mb" cx="373.8" cy="959.9" r="6.5"/>
<circle class="mb" cx="388.8" cy="941.4" r="6.5"/>
<circle class="mb" cx="394.8" cy="940.9" r="6.5"/>
<circle class="mb" cx="390.8" cy="944.9" r="6.5"/>
<circle class="mb" cx="402.3" cy="942.4" r="6.5"/>
<circle class="mb" cx="404.8" cy="953.4" r="6.5"/>
<circle class="mb" cx="408.8" cy="947.4" r="6.5"/>
<circle class="mb" cx="412.3" cy="928.4" r="6.5"/>
<circle class="mb" cx="412.3" cy="942.4" r="6.5"/>
<circle class="mb" cx="419.8" cy="930.9" r="6.5"/>
<circle class="mb" cx="422.3" cy="941.4" r="6.5"/>
<circle class="mb" cx="429.8" cy="933.9" r="6.5"/>
<circle class="mb" cx="437.8" cy="928.9" r="6.5"/>
<circle class="mb" cx="439.8" cy="934.9" r="6.5"/>
<circle class="mb" cx="442.8" cy="937.4" r="6.5"/>
<circle class="mb" cx="452.3" cy="929.9" r="6.5"/>
<circle class="mb" cx="455.8" cy="938.4" r="6.5"/>
<circle class="mb" cx="462.3" cy="923.9" r="6.5"/>
<circle class="mb" cx="469.8" cy="919.9" r="6.5"/>
<circle class="mb" cx="473.8" cy="916.4" r="6.5"/>
<circle class="mb" cx="474.8" cy="927.4" r="6.5"/>
<circle class="mb" cx="482.3" cy="930.9" r="6.5"/>
<circle class="mb" cx="485.8" cy="919.9" r="6.5"/>
<circle class="mb" cx="488.8" cy="912.4" r="6.5"/>
<circle class="mb" cx="492.3" cy="928.9" r="6.5"/>
<circle class="mb" cx="492.3" cy="916.4" r="6.5"/>
<circle class="mb" cx="497.8" cy="902.9" r="6.5"/>
<circle class="mb" cx="501.3" cy="907.4" r="6.5"/>
<circle class="mb" cx="502.8" cy="925.9" r="6.5"/>
<circle class="mb" cx="503.8" cy="914.9" r="6.5"/>
<circle class="mb" cx="512.2" cy="917.4" r="6.5"/>
<circle class="mb" cx="522.2" cy="916.9" r="6.5"/>
<circle class="mb" cx="535.7" cy="916.4" r="6.5"/>
<circle class="mb" cx="539.7" cy="914.9" r="6.5"/>
<circle class="mb" cx="543.2" cy="902.4" r="6.5"/>
<circle class="mb" cx="549.7" cy="904.9" r="6.5"/>
<circle class="mb" cx="552.2" cy="913.9" r="6.5"/>
<circle class="mb" cx="560.7" cy="911.4" r="6.5"/>
<circle class="mb" cx="569.7" cy="889.9" r="6.5"/>
<circle class="mb" cx="574.7" cy="900.9" r="6.5"/>
<circle class="mb" cx="583.7" cy="891.4" r="6.5"/>
<circle class="mb" cx="583.7" cy="902.4" r="6.5"/>
<circle class="mb" cx="593.2" cy="898.9" r="6.5"/>
<circle class="mb" cx="614.7" cy="893.9" r="6.5"/>
<circle class="mb" cx="618.7" cy="895.9" r="6.5"/>
<circle class="mb" cx="629.7" cy="883.9" r="6.5"/>
<circle class="mb" cx="633.2" cy="887.9" r="6.5"/>
<circle class="mb" cx="646.2" cy="888.9" r="6.5"/>
<circle class="mb" cx="647.7" cy="884.9" r="6.5"/>
<circle class="mb" cx="651.2" cy="872.9" r="6.5"/>
<circle class="mb" cx="656.2" cy="876.4" r="6.5"/>
<circle class="mb" cx="659.7" cy="879.9" r="6.5"/>
<circle class="mb" cx="677.2" cy="879.9" r="6.5"/>
<circle class="mb" cx="702.2" cy="873.4" r="6.5"/>
<circle class="mb" cx="709.6" cy="869" r="6.5"/>
<circle class="mb" cx="728.1" cy="866" r="6.5"/>
<circle class="mb" cx="738.6" cy="865" r="6.5"/>
<circle class="mb" cx="739.6" cy="854" r="6.5"/>
<circle class="mb" cx="744.6" cy="858.5" r="6.5"/>
<circle class="mb" cx="781.1" cy="853.5" r="6.5"/>
<circle class="mb" cx="817.1" cy="844" r="6.5"/>
<circle class="mb" cx="818.6" cy="837.5" r="6.5"/>
<circle class="mb" cx="888.6" cy="822.5" r="6.5"/>
<circle class="mb" cx="251.4" cy="984.8" r="6.5"/>
<circle class="mb" cx="256.4" cy="987.3" r="6.5"/>
<circle class="mb" cx="284.8" cy="974.9" r="6.5"/>
<circle class="mb" cx="328.1" cy="966.3" r="6.5"/>
<circle class="mb" cx="334.3" cy="965" r="6.5"/>
<circle class="mb" cx="366.5" cy="953.9" r="6.5"/>
<circle class="mb" cx="397.4" cy="945.2" r="6.5"/>
<circle class="mb" cx="412.2" cy="941.5" r="6.5"/>
<circle class="mb" cx="479" cy="924.2" r="6.5"/>
<circle class="mb" cx="486.5" cy="926.7" r="6.5"/>
<circle class="mb" cx="493.9" cy="921.7" r="6.5"/>
<circle class="mb" cx="539.7" cy="913.1" r="6.5"/>
<circle class="mb" cx="545.8" cy="915.6" r="6.5"/>
<circle class="mb" cx="575.5" cy="895.8" r="6.5"/>
<circle class="mb" cx="583" cy="894.5" r="6.5"/>
<line x1="155.4" y1="1010" x2="889" y2="819.5" stroke="#0000ff" stroke-width="2.8" stroke-linecap="butt"/>
</g>
<line x1="149.2" y1="845.7" x2="153.4" y2="845.7" stroke="#000" stroke-width="1.6"/>
<line x1="149.2" y1="943.5" x2="153.4" y2="943.5" stroke="#000" stroke-width="1.6"/>
<line x1="149.2" y1="1041.4" x2="153.4" y2="1041.4" stroke="#000" stroke-width="1.6"/>
<line x1="155.4" y1="1058" x2="155.4" y2="1062.2" stroke="#000" stroke-width="1.6"/>
<text class="t" x="155.4" y="1086.8" text-anchor="middle">−3.5</text>
<line x1="365.3" y1="1058" x2="365.3" y2="1062.2" stroke="#000" stroke-width="1.6"/>
<text class="t" x="365.3" y="1086.8" text-anchor="middle">−3.0</text>
<line x1="575.1" y1="1058" x2="575.1" y2="1062.2" stroke="#000" stroke-width="1.6"/>
<text class="t" x="575.1" y="1086.8" text-anchor="middle">−2.5</text>
<line x1="785" y1="1058" x2="785" y2="1062.2" stroke="#000" stroke-width="1.6"/>
<text class="t" x="785" y="1086.8" text-anchor="middle">−2.0</text>
<line x1="994.9" y1="1058" x2="994.9" y2="1062.2" stroke="#000" stroke-width="1.6"/>
<text class="t" x="994.9" y="1086.8" text-anchor="middle">−1.5</text>
<path d="M994.9 883.5 V808.3 H155.4 V1056 H994.9 V1020" fill="none" stroke="#000" stroke-width="4.0" stroke-linejoin="miter" stroke-linecap="butt"/>
<line x1="994.1" y1="883.5" x2="994.1" y2="1020" stroke="#000" stroke-width="1.9"/>
<circle class="mb" cx="209" cy="847" r="6.5"/>
<text class="lg" x="259.6" y="855.2">OH</text>
<text class="xl" x="574.6" y="1122.3" text-anchor="middle">Δ<tspan class="i">E</tspan><tspan dy="-9.7" dx="1.2" font-size="20.5px">0</tspan><tspan dy="9.7" dx="0.6">(</tspan><tspan class="i">O</tspan>)</text>
<g transform="translate(46 1006.3) rotate(-90)">
<text class="yl" transform="scale(0.89 1)" x="0" y="0" font-size="53px" style="font-weight:normal" stroke="#000" stroke-width="1">Δ</text>
<text class="yl i" x="31.3" y="0" font-size="53px" stroke="#000" stroke-width="0.6">E</text>
<text class="yl i" x="64.2" y="-15.8" font-size="43px" stroke="#000" stroke-width="0.4">x</text>
<polygon points="19.3,-39.3 44.1,-46.9 68.9,-39.3 68.2,-37.6 44.1,-43 20,-37.6" fill="#000"/>
</g>
</g>
<g id="a4">
<text class="t" x="141.7" y="1257.2" text-anchor="end">−2</text>
<text class="t" x="141.7" y="1347.4" text-anchor="end">−4</text>
<text class="t" x="141.7" y="1438.2" text-anchor="end">−6</text>
<clipPath id="c4"><rect x="155.4" y="1181" width="839.5" height="248.6"/></clipPath>
<g clip-path="url(#c4)">
<circle class="mb" cx="154.9" cy="1393.4" r="6.5"/>
<circle class="mb" cx="169.8" cy="1389.4" r="6.5"/>
<circle class="mb" cx="175.7" cy="1388.7" r="6.5"/>
<circle class="mb" cx="183.6" cy="1387.6" r="6.5"/>
<circle class="mb" cx="192.6" cy="1386.5" r="6.5"/>
<circle class="mb" cx="201.5" cy="1384.9" r="6.5"/>
<circle class="mb" cx="209.4" cy="1383.5" r="6.5"/>
<circle class="mb" cx="219.3" cy="1380.5" r="6.5"/>
<circle class="mb" cx="230.2" cy="1377.2" r="6.5"/>
<circle class="mb" cx="237.1" cy="1378.1" r="6.5"/>
<circle class="mb" cx="247" cy="1379.5" r="6.5"/>
<circle class="mb" cx="254.9" cy="1374.8" r="6.5"/>
<circle class="mb" cx="261.8" cy="1370.6" r="6.5"/>
<circle class="mb" cx="268.8" cy="1370.2" r="6.5"/>
<circle class="mb" cx="277.7" cy="1369.6" r="6.5"/>
<circle class="mb" cx="284.6" cy="1370.6" r="6.5"/>
<circle class="mb" cx="291.5" cy="1371.6" r="6.5"/>
<circle class="mb" cx="299.4" cy="1367.1" r="6.5"/>
<circle class="mb" cx="317.2" cy="1363.7" r="6.5"/>
<circle class="mb" cx="324.2" cy="1362.4" r="6.5"/>
<circle class="mb" cx="331.1" cy="1361.1" r="6.5"/>
<circle class="mb" cx="338" cy="1359.7" r="6.5"/>
<circle class="mb" cx="349.9" cy="1355.8" r="6.5"/>
<circle class="mb" cx="357.8" cy="1359.7" r="6.5"/>
<circle class="mb" cx="365.7" cy="1355.1" r="6.5"/>
<circle class="mb" cx="373.7" cy="1350.4" r="6.5"/>
<circle class="mb" cx="382.6" cy="1350.6" r="6.5"/>
<circle class="mb" cx="391.5" cy="1350.8" r="6.5"/>
<circle class="mb" cx="399.4" cy="1350.8" r="6.5"/>
<circle class="mb" cx="410.3" cy="1346.9" r="6.5"/>
<circle class="mb" cx="434" cy="1340.9" r="6.5"/>
<circle class="mb" cx="441.9" cy="1340.2" r="6.5"/>
<circle class="mb" cx="448.9" cy="1339.6" r="6.5"/>
<circle class="mb" cx="464.7" cy="1338" r="6.5"/>
<circle class="mb" cx="471.6" cy="1335" r="6.5"/>
<circle class="mb" cx="488.4" cy="1333" r="6.5"/>
<circle class="mb" cx="496.4" cy="1329.1" r="6.5"/>
<circle class="mb" cx="507.2" cy="1330.1" r="6.5"/>
<circle class="mb" cx="515.2" cy="1328.1" r="6.5"/>
<circle class="mb" cx="524.1" cy="1329.1" r="6.5"/>
<circle class="mb" cx="410.3" cy="1351.2" r="6.5"/>
<circle class="mb" cx="556.2" cy="1320.7" r="6.5"/>
<circle class="mb" cx="578.7" cy="1315.6" r="6.5"/>
<circle class="mb" cx="593.2" cy="1312.5" r="6.5"/>
<circle class="mb" cx="599.7" cy="1311.8" r="6.5"/>
<circle class="mb" cx="621.2" cy="1307.9" r="6.5"/>
<circle class="mb" cx="638.7" cy="1304.8" r="6.5"/>
<circle class="mb" cx="711.1" cy="1291.6" r="6.5"/>
<circle class="mb" cx="734.6" cy="1287.4" r="6.5"/>
<circle class="mb" cx="745.6" cy="1285.4" r="6.5"/>
<circle class="mb" cx="758.6" cy="1283.5" r="6.5"/>
<circle class="mb" cx="858.6" cy="1261.9" r="6.5"/>
<circle class="mb" cx="153.4" cy="1391.2" r="6.5"/>
<circle class="mb" cx="155.4" cy="1395.1" r="6.5"/>
<circle class="mb" cx="168.9" cy="1387.6" r="6.5"/>
<circle class="mb" cx="171.2" cy="1392" r="6.5"/>
<circle class="mb" cx="176.4" cy="1385.9" r="6.5"/>
<circle class="mb" cx="175.7" cy="1390.9" r="6.5"/>
<circle class="mb" cx="184.6" cy="1385.3" r="6.5"/>
<circle class="mb" cx="183.3" cy="1389.5" r="6.5"/>
<circle class="mb" cx="194.1" cy="1384.3" r="6.5"/>
<circle class="mb" cx="192.5" cy="1388.2" r="6.5"/>
<circle class="mb" cx="201.6" cy="1382.7" r="6.5"/>
<circle class="mb" cx="200.7" cy="1386.7" r="6.5"/>
<circle class="mb" cx="209.8" cy="1380.8" r="6.5"/>
<circle class="mb" cx="208.2" cy="1386" r="6.5"/>
<circle class="mb" cx="220.8" cy="1378.6" r="6.5"/>
<circle class="mb" cx="219.1" cy="1382.4" r="6.5"/>
<circle class="mb" cx="230.5" cy="1374.8" r="6.5"/>
<circle class="mb" cx="229" cy="1379.4" r="6.5"/>
<circle class="mb" cx="237.1" cy="1375.6" r="6.5"/>
<circle class="mb" cx="236.1" cy="1379.8" r="6.5"/>
<circle class="mb" cx="246.6" cy="1377.2" r="6.5"/>
<circle class="mb" cx="245.7" cy="1382.2" r="6.5"/>
<circle class="mb" cx="255.9" cy="1372.1" r="6.5"/>
<circle class="mb" cx="254" cy="1377.5" r="6.5"/>
<circle class="mb" cx="262.2" cy="1368.8" r="6.5"/>
<circle class="mb" cx="260.9" cy="1373.2" r="6.5"/>
<circle class="mb" cx="269.7" cy="1367.7" r="6.5"/>
<circle class="mb" cx="269.2" cy="1372.9" r="6.5"/>
<circle class="mb" cx="278.8" cy="1367.7" r="6.5"/>
<circle class="mb" cx="279.1" cy="1371.7" r="6.5"/>
<circle class="mb" cx="284.5" cy="1368.4" r="6.5"/>
<circle class="mb" cx="283.7" cy="1372.5" r="6.5"/>
<circle class="mb" cx="292.4" cy="1369" r="6.5"/>
<circle class="mb" cx="291.2" cy="1374" r="6.5"/>
<circle class="mb" cx="300.2" cy="1364.7" r="6.5"/>
<circle class="mb" cx="300" cy="1369.1" r="6.5"/>
<circle class="mb" cx="317.4" cy="1361.3" r="6.5"/>
<circle class="mb" cx="316.1" cy="1366.5" r="6.5"/>
<circle class="mb" cx="323.3" cy="1360.7" r="6.5"/>
<circle class="mb" cx="322.8" cy="1364.3" r="6.5"/>
<circle class="mb" cx="331.5" cy="1358.6" r="6.5"/>
<circle class="mb" cx="331.6" cy="1362.8" r="6.5"/>
<circle class="mb" cx="336.5" cy="1357.2" r="6.5"/>
<circle class="mb" cx="339" cy="1361.9" r="6.5"/>
<circle class="mb" cx="348.5" cy="1353.1" r="6.5"/>
<circle class="mb" cx="350.3" cy="1358.3" r="6.5"/>
<circle class="mb" cx="357" cy="1357.6" r="6.5"/>
<circle class="mb" cx="358.3" cy="1361.6" r="6.5"/>
<circle class="mb" cx="367.1" cy="1352.5" r="6.5"/>
<circle class="mb" cx="364.6" cy="1357" r="6.5"/>
<circle class="mb" cx="372.8" cy="1347.9" r="6.5"/>
<circle class="mb" cx="373.3" cy="1352.2" r="6.5"/>
<circle class="mb" cx="382.8" cy="1348.2" r="6.5"/>
<circle class="mb" cx="381.5" cy="1352.5" r="6.5"/>
<circle class="mb" cx="390.9" cy="1348.5" r="6.5"/>
<circle class="mb" cx="391.2" cy="1353" r="6.5"/>
<circle class="mb" cx="399.8" cy="1348.7" r="6.5"/>
<circle class="mb" cx="398" cy="1353.4" r="6.5"/>
<circle class="mb" cx="410.2" cy="1344.3" r="6.5"/>
<circle class="mb" cx="411.3" cy="1348.8" r="6.5"/>
<circle class="mb" cx="411.6" cy="1348.9" r="6.5"/>
<circle class="mb" cx="410.7" cy="1353.8" r="6.5"/>
<rect class="mg" x="148.5" y="1352.4" width="12.8" height="12.8"/>
<rect class="mg" x="163.4" y="1349.4" width="12.8" height="12.8"/>
<rect class="mg" x="169.3" y="1348.7" width="12.8" height="12.8"/>
<rect class="mg" x="177.2" y="1347.8" width="12.8" height="12.8"/>
<rect class="mg" x="186.2" y="1346.7" width="12.8" height="12.8"/>
<rect class="mg" x="195.1" y="1345.7" width="12.8" height="12.8"/>
<rect class="mg" x="203" y="1344.8" width="12.8" height="12.8"/>
<rect class="mg" x="212.9" y="1343.6" width="12.8" height="12.8"/>
<rect class="mg" x="223.8" y="1342.4" width="12.8" height="12.8"/>
<rect class="mg" x="230.7" y="1341.6" width="12.8" height="12.8"/>
<rect class="mg" x="240.6" y="1340.4" width="12.8" height="12.8"/>
<rect class="mg" x="248.5" y="1339.5" width="12.8" height="12.8"/>
<rect class="mg" x="255.4" y="1335.5" width="12.8" height="12.8"/>
<rect class="mg" x="262.4" y="1335.5" width="12.8" height="12.8"/>
<rect class="mg" x="271.3" y="1335.5" width="12.8" height="12.8"/>
<rect class="mg" x="278.2" y="1336.5" width="12.8" height="12.8"/>
<rect class="mg" x="285.1" y="1337.5" width="12.8" height="12.8"/>
<rect class="mg" x="293" y="1332.6" width="12.8" height="12.8"/>
<rect class="mg" x="310.8" y="1330.6" width="12.8" height="12.8"/>
<rect class="mg" x="317.8" y="1329.9" width="12.8" height="12.8"/>
<rect class="mg" x="324.7" y="1329.2" width="12.8" height="12.8"/>
<rect class="mg" x="331.6" y="1328.6" width="12.8" height="12.8"/>
<rect class="mg" x="343.5" y="1327.4" width="12.8" height="12.8"/>
<rect class="mg" x="351.4" y="1326.7" width="12.8" height="12.8"/>
<rect class="mg" x="359.3" y="1325.9" width="12.8" height="12.8"/>
<rect class="mg" x="367.3" y="1325.1" width="12.8" height="12.8"/>
<rect class="mg" x="376.2" y="1324.3" width="12.8" height="12.8"/>
<rect class="mg" x="385.1" y="1323.4" width="12.8" height="12.8"/>
<rect class="mg" x="393" y="1322.7" width="12.8" height="12.8"/>
<rect class="mg" x="403.9" y="1317.7" width="12.8" height="12.8"/>
<rect class="mg" x="427.6" y="1313.8" width="12.8" height="12.8"/>
<rect class="mg" x="435.5" y="1313.2" width="12.8" height="12.8"/>
<rect class="mg" x="442.5" y="1312.8" width="12.8" height="12.8"/>
<rect class="mg" x="458.3" y="1311.8" width="12.8" height="12.8"/>
<rect class="mg" x="465.2" y="1310.8" width="12.8" height="12.8"/>
<rect class="mg" x="482" y="1309.8" width="12.8" height="12.8"/>
<rect class="mg" x="490" y="1308.9" width="12.8" height="12.8"/>
<rect class="mg" x="500.8" y="1307.7" width="12.8" height="12.8"/>
<rect class="mg" x="508.8" y="1306.8" width="12.8" height="12.8"/>
<rect class="mg" x="517.7" y="1305.8" width="12.8" height="12.8"/>
<rect class="mg" x="403.9" y="1322.1" width="12.8" height="12.8"/>
<rect class="mg" x="293" y="1336.9" width="12.8" height="12.8"/>
<rect class="mg" x="549.8" y="1297.2" width="12.8" height="12.8"/>
<rect class="mg" x="572.3" y="1295.2" width="12.8" height="12.8"/>
<rect class="mg" x="586.8" y="1292.8" width="12.8" height="12.8"/>
<rect class="mg" x="593.3" y="1292.4" width="12.8" height="12.8"/>
<rect class="mg" x="614.8" y="1289.6" width="12.8" height="12.8"/>
<rect class="mg" x="632.3" y="1286.7" width="12.8" height="12.8"/>
<rect class="mg" x="704.7" y="1276.1" width="12.8" height="12.8"/>
<rect class="mg" x="728.2" y="1274" width="12.8" height="12.8"/>
<rect class="mg" x="739.2" y="1272" width="12.8" height="12.8"/>
<rect class="mg" x="752.2" y="1270.8" width="12.8" height="12.8"/>
<rect class="mg" x="852.2" y="1259" width="12.8" height="12.8"/>
<rect class="mg" x="147.8" y="1350.7" width="12.8" height="12.8"/>
<rect class="mg" x="148.5" y="1354.6" width="12.8" height="12.8"/>
<rect class="mg" x="163.5" y="1347.1" width="12.8" height="12.8"/>
<rect class="mg" x="164.6" y="1351.3" width="12.8" height="12.8"/>
<rect class="mg" x="170.8" y="1347.3" width="12.8" height="12.8"/>
<rect class="mg" x="170" y="1350.8" width="12.8" height="12.8"/>
<rect class="mg" x="176.3" y="1346.2" width="12.8" height="12.8"/>
<rect class="mg" x="177.5" y="1349.3" width="12.8" height="12.8"/>
<rect class="mg" x="185.5" y="1345.2" width="12.8" height="12.8"/>
<rect class="mg" x="186.1" y="1348.6" width="12.8" height="12.8"/>
<rect class="mg" x="194.4" y="1343.8" width="12.8" height="12.8"/>
<rect class="mg" x="195.3" y="1347.4" width="12.8" height="12.8"/>
<rect class="mg" x="201.6" y="1342.6" width="12.8" height="12.8"/>
<rect class="mg" x="202" y="1347.1" width="12.8" height="12.8"/>
<rect class="mg" x="212.6" y="1342" width="12.8" height="12.8"/>
<rect class="mg" x="212.7" y="1346" width="12.8" height="12.8"/>
<rect class="mg" x="222.8" y="1340.2" width="12.8" height="12.8"/>
<rect class="mg" x="223.1" y="1343.9" width="12.8" height="12.8"/>
<rect class="mg" x="229.6" y="1339.5" width="12.8" height="12.8"/>
<rect class="mg" x="230.7" y="1343.7" width="12.8" height="12.8"/>
<rect class="mg" x="241.4" y="1338.1" width="12.8" height="12.8"/>
<rect class="mg" x="241.9" y="1342" width="12.8" height="12.8"/>
<rect class="mg" x="247.2" y="1337.5" width="12.8" height="12.8"/>
<rect class="mg" x="247.1" y="1341.2" width="12.8" height="12.8"/>
<rect class="mg" x="255.6" y="1333.5" width="12.8" height="12.8"/>
<rect class="mg" x="254.2" y="1337.4" width="12.8" height="12.8"/>
<rect class="mg" x="261.3" y="1333.8" width="12.8" height="12.8"/>
<rect class="mg" x="261" y="1337" width="12.8" height="12.8"/>
<rect class="mg" x="271.6" y="1333.1" width="12.8" height="12.8"/>
<rect class="mg" x="271.9" y="1337.8" width="12.8" height="12.8"/>
<rect class="mg" x="277.5" y="1334.5" width="12.8" height="12.8"/>
<rect class="mg" x="277.9" y="1338.4" width="12.8" height="12.8"/>
<rect class="mg" x="283.8" y="1335.9" width="12.8" height="12.8"/>
<rect class="mg" x="284.2" y="1339.2" width="12.8" height="12.8"/>
<rect class="mg" x="292.1" y="1330.7" width="12.8" height="12.8"/>
<rect class="mg" x="292.5" y="1334.9" width="12.8" height="12.8"/>
<rect class="mg" x="311.8" y="1328.5" width="12.8" height="12.8"/>
<rect class="mg" x="309.4" y="1332.5" width="12.8" height="12.8"/>
<rect class="mg" x="317.9" y="1327.5" width="12.8" height="12.8"/>
<rect class="mg" x="318.1" y="1331.6" width="12.8" height="12.8"/>
<rect class="mg" x="325.8" y="1327.5" width="12.8" height="12.8"/>
<rect class="mg" x="324.8" y="1330.9" width="12.8" height="12.8"/>
<rect class="mg" x="330.5" y="1326.5" width="12.8" height="12.8"/>
<rect class="mg" x="332.3" y="1330.1" width="12.8" height="12.8"/>
<rect class="mg" x="342.1" y="1325.7" width="12.8" height="12.8"/>
<rect class="mg" x="342.4" y="1329" width="12.8" height="12.8"/>
<rect class="mg" x="351.9" y="1324.9" width="12.8" height="12.8"/>
<rect class="mg" x="351.7" y="1328.4" width="12.8" height="12.8"/>
<rect class="mg" x="358" y="1323.7" width="12.8" height="12.8"/>
<rect class="mg" x="359.6" y="1327.9" width="12.8" height="12.8"/>
<rect class="mg" x="368.4" y="1323.4" width="12.8" height="12.8"/>
<rect class="mg" x="367.4" y="1326.7" width="12.8" height="12.8"/>
<rect class="mg" x="377.1" y="1322.2" width="12.8" height="12.8"/>
<rect class="mg" x="376.5" y="1326.5" width="12.8" height="12.8"/>
<rect class="mg" x="386" y="1321.8" width="12.8" height="12.8"/>
<rect class="mg" x="385.8" y="1324.9" width="12.8" height="12.8"/>
<rect class="mg" x="393.5" y="1320.3" width="12.8" height="12.8"/>
<rect class="mg" x="391.7" y="1324.4" width="12.8" height="12.8"/>
<rect class="mg" x="402.7" y="1315.6" width="12.8" height="12.8"/>
<rect class="mg" x="404.2" y="1319.8" width="12.8" height="12.8"/>
<rect class="mg" x="404.8" y="1320.4" width="12.8" height="12.8"/>
<rect class="mg" x="402.6" y="1323.8" width="12.8" height="12.8"/>
<rect class="mg" x="294.1" y="1334.6" width="12.8" height="12.8"/>
<rect class="mg" x="293.1" y="1339" width="12.8" height="12.8"/>
<polygon class="mr" points="149,1276.5 160.8,1276.5 154.9,1288.7"/>
<polygon class="mr" points="163.9,1278.4 175.7,1278.4 169.8,1290.6"/>
<polygon class="mr" points="169.8,1278.4 181.6,1278.4 175.7,1290.6"/>
<polygon class="mr" points="177.7,1278.4 189.5,1278.4 183.6,1290.6"/>
<polygon class="mr" points="186.7,1277.8 198.5,1277.8 192.6,1290"/>
<polygon class="mr" points="195.6,1277.1 207.4,1277.1 201.5,1289.3"/>
<polygon class="mr" points="203.5,1276.5 215.3,1276.5 209.4,1288.7"/>
<polygon class="mr" points="213.4,1275.8 225.2,1275.8 219.3,1288"/>
<polygon class="mr" points="224.3,1275 236.1,1275 230.2,1287.2"/>
<polygon class="mr" points="231.2,1274.5 243,1274.5 237.1,1286.7"/>
<polygon class="mr" points="241.1,1273.9 252.9,1273.9 247,1286.1"/>
<polygon class="mr" points="249,1273.5 260.8,1273.5 254.9,1285.7"/>
<polygon class="mr" points="255.9,1266.6 267.7,1266.6 261.8,1278.8"/>
<polygon class="mr" points="262.9,1267 274.7,1267 268.8,1279.2"/>
<polygon class="mr" points="271.8,1267.5 283.6,1267.5 277.7,1279.7"/>
<polygon class="mr" points="278.7,1269 290.5,1269 284.6,1281.2"/>
<polygon class="mr" points="285.6,1270.5 297.4,1270.5 291.5,1282.7"/>
<polygon class="mr" points="293.5,1266 305.3,1266 299.4,1278.2"/>
<polygon class="mr" points="311.3,1266.6 323.1,1266.6 317.2,1278.8"/>
<polygon class="mr" points="318.3,1266.1 330.1,1266.1 324.2,1278.3"/>
<polygon class="mr" points="325.2,1265.6 337,1265.6 331.1,1277.8"/>
<polygon class="mr" points="332.1,1265.1 343.9,1265.1 338,1277.3"/>
<polygon class="mr" points="344,1264.2 355.8,1264.2 349.9,1276.4"/>
<polygon class="mr" points="351.9,1263.6 363.7,1263.6 357.8,1275.8"/>
<polygon class="mr" points="359.8,1263.1 371.6,1263.1 365.7,1275.3"/>
<polygon class="mr" points="367.8,1262.5 379.6,1262.5 373.7,1274.7"/>
<polygon class="mr" points="376.7,1261.8 388.5,1261.8 382.6,1274"/>
<polygon class="mr" points="385.6,1261.2 397.4,1261.2 391.5,1273.4"/>
<polygon class="mr" points="393.5,1260.6 405.3,1260.6 399.4,1272.8"/>
<polygon class="mr" points="404.4,1255.7 416.2,1255.7 410.3,1267.9"/>
<polygon class="mr" points="428.1,1253.7 439.9,1253.7 434,1265.9"/>
<polygon class="mr" points="436,1252.7 447.8,1252.7 441.9,1264.9"/>
<polygon class="mr" points="443,1252.7 454.8,1252.7 448.9,1264.9"/>
<polygon class="mr" points="458.8,1252.7 470.6,1252.7 464.7,1264.9"/>
<polygon class="mr" points="465.7,1251.7 477.5,1251.7 471.6,1263.9"/>
<polygon class="mr" points="482.5,1250.1 494.3,1250.1 488.4,1262.3"/>
<polygon class="mr" points="490.5,1250.7 502.3,1250.7 496.4,1262.9"/>
<polygon class="mr" points="501.3,1249.3 513.1,1249.3 507.2,1261.5"/>
<polygon class="mr" points="509.3,1249.7 521.1,1249.7 515.2,1261.9"/>
<polygon class="mr" points="518.2,1248.7 530,1248.7 524.1,1260.9"/>
<polygon class="mr" points="404.4,1260 416.2,1260 410.3,1272.2"/>
<polygon class="mr" points="550.3,1240.4 562.1,1240.4 556.2,1252.6"/>
<polygon class="mr" points="572.8,1238.9 584.6,1238.9 578.7,1251.1"/>
<polygon class="mr" points="587.3,1237.6 599.1,1237.6 593.2,1249.8"/>
<polygon class="mr" points="593.8,1237 605.6,1237 599.7,1249.2"/>
<polygon class="mr" points="615.3,1235.1 627.1,1235.1 621.2,1247.3"/>
<polygon class="mr" points="632.8,1233.5 644.6,1233.5 638.7,1245.7"/>
<polygon class="mr" points="705.2,1227 717,1227 711.1,1239.2"/>
<polygon class="mr" points="728.7,1224.9 740.5,1224.9 734.6,1237.1"/>
<polygon class="mr" points="739.7,1224 751.5,1224 745.6,1236.2"/>
<polygon class="mr" points="752.7,1222.8 764.5,1222.8 758.6,1235"/>
<polygon class="mr" points="852.7,1214.9 864.5,1214.9 858.6,1227.1"/>
<polygon class="mr" points="149.5,1274.9 161.3,1274.9 155.4,1287.1"/>
<polygon class="mr" points="147.8,1278.4 159.6,1278.4 153.7,1290.6"/>
<polygon class="mr" points="165.3,1276 177.1,1276 171.2,1288.2"/>
<polygon class="mr" points="163.2,1280 175,1280 169.1,1292.2"/>
<polygon class="mr" points="169.8,1276.3 181.6,1276.3 175.7,1288.5"/>
<polygon class="mr" points="168.8,1280.2 180.6,1280.2 174.7,1292.4"/>
<polygon class="mr" points="177.4,1276.6 189.2,1276.6 183.3,1288.8"/>
<polygon class="mr" points="177.7,1280.3 189.5,1280.3 183.6,1292.5"/>
<polygon class="mr" points="186.6,1276.2 198.4,1276.2 192.5,1288.4"/>
<polygon class="mr" points="187.5,1279.4 199.3,1279.4 193.4,1291.6"/>
<polygon class="mr" points="194.8,1275.4 206.6,1275.4 200.7,1287.6"/>
<polygon class="mr" points="196,1279 207.8,1279 201.9,1291.2"/>
<polygon class="mr" points="202.3,1274.2 214.1,1274.2 208.2,1286.4"/>
<polygon class="mr" points="202.2,1278.1 214,1278.1 208.1,1290.3"/>
<polygon class="mr" points="213.2,1274.1 225,1274.1 219.1,1286.3"/>
<polygon class="mr" points="212,1277.7 223.8,1277.7 217.9,1289.9"/>
<polygon class="mr" points="223.1,1273 234.9,1273 229,1285.2"/>
<polygon class="mr" points="224.4,1277.4 236.2,1277.4 230.3,1289.6"/>
<polygon class="mr" points="230.2,1272.9 242,1272.9 236.1,1285.1"/>
<polygon class="mr" points="230.1,1276.4 241.9,1276.4 236,1288.6"/>
<polygon class="mr" points="239.8,1271.4 251.6,1271.4 245.7,1283.6"/>
<polygon class="mr" points="241.4,1276 253.2,1276 247.3,1288.2"/>
<polygon class="mr" points="248.1,1271 259.9,1271 254,1283.2"/>
<polygon class="mr" points="249.4,1275.4 261.2,1275.4 255.3,1287.6"/>
<polygon class="mr" points="255,1264.2 266.8,1264.2 260.9,1276.4"/>
<polygon class="mr" points="255.2,1269 267,1269 261.1,1281.2"/>
<polygon class="mr" points="263.3,1264.5 275.1,1264.5 269.2,1276.7"/>
<polygon class="mr" points="263,1269.5 274.8,1269.5 268.9,1281.7"/>
<polygon class="mr" points="273.2,1265.6 285,1265.6 279.1,1277.8"/>
<polygon class="mr" points="273.1,1269.6 284.9,1269.6 279,1281.8"/>
<polygon class="mr" points="277.8,1267.2 289.6,1267.2 283.7,1279.4"/>
<polygon class="mr" points="279.5,1271.4 291.3,1271.4 285.4,1283.6"/>
<polygon class="mr" points="285.3,1268.3 297.1,1268.3 291.2,1280.5"/>
<polygon class="mr" points="286,1272.8 297.8,1272.8 291.9,1285"/>
<polygon class="mr" points="294.1,1264.1 305.9,1264.1 300,1276.3"/>
<polygon class="mr" points="294.9,1268.4 306.7,1268.4 300.8,1280.6"/>
<polygon class="mr" points="310.2,1264 322,1264 316.1,1276.2"/>
<polygon class="mr" points="312,1268.2 323.8,1268.2 317.9,1280.4"/>
<polygon class="mr" points="316.9,1264.3 328.7,1264.3 322.8,1276.5"/>
<polygon class="mr" points="318.8,1267.9 330.6,1267.9 324.7,1280.1"/>
<polygon class="mr" points="325.7,1264 337.5,1264 331.6,1276.2"/>
<polygon class="mr" points="325.5,1267.6 337.3,1267.6 331.4,1279.8"/>
<polygon class="mr" points="333.1,1263.1 344.9,1263.1 339,1275.3"/>
<polygon class="mr" points="332.2,1267.2 344,1267.2 338.1,1279.4"/>
<polygon class="mr" points="344.4,1261.9 356.2,1261.9 350.3,1274.1"/>
<polygon class="mr" points="343.7,1266.4 355.5,1266.4 349.6,1278.6"/>
<polygon class="mr" points="352.4,1261.8 364.2,1261.8 358.3,1274"/>
<polygon class="mr" points="351.6,1265.9 363.4,1265.9 357.5,1278.1"/>
<polygon class="mr" points="358.7,1261.4 370.5,1261.4 364.6,1273.6"/>
<polygon class="mr" points="360.7,1264.9 372.5,1264.9 366.6,1277.1"/>
<polygon class="mr" points="367.4,1260.9 379.2,1260.9 373.3,1273.1"/>
<polygon class="mr" points="367.5,1264.6 379.3,1264.6 373.4,1276.8"/>
<polygon class="mr" points="375.6,1260 387.4,1260 381.5,1272.2"/>
<polygon class="mr" points="377.9,1263.9 389.7,1263.9 383.8,1276.1"/>
<polygon class="mr" points="385.3,1259.2 397.1,1259.2 391.2,1271.4"/>
<polygon class="mr" points="385.8,1262.9 397.6,1262.9 391.7,1275.1"/>
<polygon class="mr" points="392.1,1258.1 403.9,1258.1 398,1270.3"/>
<polygon class="mr" points="393.2,1262.8 405,1262.8 399.1,1275"/>
<polygon class="mr" points="405.4,1253.9 417.2,1253.9 411.3,1266.1"/>
<polygon class="mr" points="405.4,1257.5 417.2,1257.5 411.3,1269.7"/>
<polygon class="mr" points="404.8,1257.6 416.6,1257.6 410.7,1269.8"/>
<polygon class="mr" points="404,1261.8 415.8,1261.8 409.9,1274"/>
<line x1="155.4" y1="1393" x2="859" y2="1265" stroke="#0000ff" stroke-width="2.8" stroke-linecap="butt"/>
<line x1="155.4" y1="1358" x2="859" y2="1265" stroke="#008000" stroke-width="2.8" stroke-linecap="butt"/>
<line x1="155.4" y1="1285" x2="859" y2="1221" stroke="#ff0000" stroke-width="2.8" stroke-linecap="butt"/>
</g>
<line x1="149.2" y1="1248.3" x2="153.4" y2="1248.3" stroke="#000" stroke-width="1.6"/>
<line x1="149.2" y1="1338.5" x2="153.4" y2="1338.5" stroke="#000" stroke-width="1.6"/>
<line x1="149.2" y1="1429.3" x2="153.4" y2="1429.3" stroke="#000" stroke-width="1.6"/>
<line x1="155.4" y1="1431.6" x2="155.4" y2="1435.8" stroke="#000" stroke-width="1.6"/>
<text class="t" x="155.4" y="1459.2" text-anchor="middle">−6.0</text>
<line x1="275.3" y1="1431.6" x2="275.3" y2="1435.8" stroke="#000" stroke-width="1.6"/>
<text class="t" x="275.3" y="1459.2" text-anchor="middle">−5.5</text>
<line x1="395.3" y1="1431.6" x2="395.3" y2="1435.8" stroke="#000" stroke-width="1.6"/>
<text class="t" x="395.3" y="1459.2" text-anchor="middle">−5.0</text>
<line x1="515.2" y1="1431.6" x2="515.2" y2="1435.8" stroke="#000" stroke-width="1.6"/>
<text class="t" x="515.2" y="1459.2" text-anchor="middle">−4.5</text>
<line x1="635.1" y1="1431.6" x2="635.1" y2="1435.8" stroke="#000" stroke-width="1.6"/>
<text class="t" x="635.1" y="1459.2" text-anchor="middle">−4.0</text>
<line x1="755" y1="1431.6" x2="755" y2="1435.8" stroke="#000" stroke-width="1.6"/>
<text class="t" x="755" y="1459.2" text-anchor="middle">−3.5</text>
<line x1="875" y1="1431.6" x2="875" y2="1435.8" stroke="#000" stroke-width="1.6"/>
<text class="t" x="875" y="1459.2" text-anchor="middle">−3.0</text>
<line x1="994.9" y1="1431.6" x2="994.9" y2="1435.8" stroke="#000" stroke-width="1.6"/>
<text class="t" x="994.9" y="1459.2" text-anchor="middle">−2.5</text>
<rect x="155.4" y="1181" width="839.5" height="248.6" fill="none" stroke="#000" stroke-width="4.0"/>
<circle class="mb" cx="209" cy="1221" r="6.5"/>
<text class="lg" x="259.6" y="1228.2">SH</text>
<rect class="mg" x="382.4" y="1214.6" width="12.8" height="12.8"/>
<text class="lg" x="439.5" y="1226.9">SH<tspan dy="4.2" font-size="19.8px">2</tspan></text>
<polygon class="mr" points="578.6,1214.9 590.4,1214.9 584.5,1227.1"/>
<text class="lg" x="634.7" y="1226.9">SH<tspan dy="4.2" font-size="19.8px">3</tspan></text>
<text class="xl" x="574.6" y="1494" text-anchor="middle">Δ<tspan class="i">E</tspan><tspan dy="-9.7" dx="1.2" font-size="20.5px">0</tspan><tspan dy="9.7" dx="0.6">(</tspan><tspan class="i">S</tspan>)</text>
<g transform="translate(70 1358.4) rotate(-90)">
<text class="yl" transform="scale(0.89 1)" x="0" y="0" font-size="53px" style="font-weight:normal" stroke="#000" stroke-width="1">Δ</text>
<text class="yl i" x="31.3" y="0" font-size="53px" stroke="#000" stroke-width="0.6">E</text>
<text class="yl i" x="64.2" y="-15.8" font-size="43px" stroke="#000" stroke-width="0.4">x</text>
<polygon points="19.3,-39.3 44.1,-46.9 68.9,-39.3 68.2,-37.6 44.1,-43 20,-37.6" fill="#000"/>
</g>
</g>
<g id="b1">
<text class="t" x="1143.4" y="76.5" text-anchor="end">−2</text>
<text class="t" x="1143.4" y="158.9" text-anchor="end">−3</text>
<text class="t" x="1143.4" y="241.2" text-anchor="end">−4</text>
<text class="t" x="1143.4" y="323.4" text-anchor="end">−5</text>
<clipPath id="c5"><rect x="1157" y="68" width="835.3" height="246.5"/></clipPath>
<g clip-path="url(#c5)">
<circle class="mb" cx="1171.5" cy="247.7" r="6.5"/>
<circle class="mb" cx="1180" cy="246.2" r="6.5"/>
<circle class="mb" cx="1202.3" cy="242.5" r="6.5"/>
<circle class="mb" cx="1226" cy="229.8" r="6.5"/>
<circle class="mb" cx="1254.2" cy="215" r="6.5"/>
<circle class="mb" cx="1273.9" cy="233.1" r="6.5"/>
<circle class="mb" cx="1299.2" cy="230.6" r="6.5"/>
<circle class="mb" cx="1305.4" cy="223.2" r="6.5"/>
<circle class="mb" cx="1315.1" cy="229.8" r="6.5"/>
<circle class="mb" cx="1333.3" cy="219.8" r="6.5"/>
<circle class="mb" cx="1340.3" cy="223.6" r="6.5"/>
<circle class="mb" cx="1362" cy="204.9" r="6.5"/>
<circle class="mb" cx="1365.2" cy="215" r="6.5"/>
<circle class="mb" cx="1373.4" cy="209.1" r="6.5"/>
<circle class="mb" cx="1376.4" cy="193.2" r="6.5"/>
<circle class="mb" cx="1390.2" cy="200.2" r="6.5"/>
<circle class="mb" cx="1400.6" cy="193" r="6.5"/>
<circle class="mb" cx="1413.9" cy="209.4" r="6.5"/>
<circle class="mb" cx="1425.8" cy="182" r="6.5"/>
<circle class="mb" cx="1433.9" cy="208.8" r="6.5"/>
<circle class="mb" cx="1456.4" cy="203.1" r="6.5"/>
<circle class="mb" cx="1461.5" cy="208.3" r="6.5"/>
<circle class="mb" cx="1465.9" cy="193" r="6.5"/>
<circle class="mb" cx="1475.7" cy="203.1" r="6.5"/>
<circle class="mb" cx="1488.2" cy="191" r="6.5"/>
<circle class="mb" cx="1493.5" cy="198.7" r="6.5"/>
<circle class="mb" cx="1496.8" cy="194.2" r="6.5"/>
<circle class="mb" cx="1501.5" cy="195.7" r="6.5"/>
<circle class="mb" cx="1507.2" cy="186.8" r="6.5"/>
<circle class="mb" cx="1507.9" cy="173.4" r="6.5"/>
<circle class="mb" cx="1510.9" cy="172" r="6.5"/>
<circle class="mb" cx="1516.1" cy="179.4" r="6.5"/>
<circle class="mb" cx="1521.3" cy="187.5" r="6.5"/>
<circle class="mb" cx="1523.5" cy="173.4" r="6.5"/>
<circle class="mb" cx="1526.5" cy="174.2" r="6.5"/>
<circle class="mb" cx="1539.8" cy="177.1" r="6.5"/>
<circle class="mb" cx="1546.1" cy="163.3" r="6.5"/>
<circle class="mb" cx="1549.5" cy="160.8" r="6.5"/>
<circle class="mb" cx="1560.9" cy="168.2" r="6.5"/>
<circle class="mb" cx="1583.2" cy="151.5" r="6.5"/>
<circle class="mb" cx="1607.4" cy="173.7" r="6.5"/>
<circle class="mb" cx="1612.9" cy="156.4" r="6.5"/>
<circle class="mb" cx="1616.3" cy="164.5" r="6.5"/>
<circle class="mb" cx="1620.7" cy="164.5" r="6.5"/>
<circle class="mb" cx="1623" cy="153.4" r="6.5"/>
<circle class="mb" cx="1629.7" cy="156.4" r="6.5"/>
<circle class="mb" cx="1635.6" cy="174.6" r="6.5"/>
<circle class="mb" cx="1638.6" cy="157.1" r="6.5"/>
<circle class="mb" cx="1644.5" cy="164.5" r="6.5"/>
<circle class="mb" cx="1652.7" cy="157.9" r="6.5"/>
<circle class="mb" cx="1658.6" cy="146.7" r="6.5"/>
<circle class="mb" cx="1659.3" cy="161.6" r="6.5"/>
<circle class="mb" cx="1664.2" cy="145.2" r="6.5"/>
<circle class="mb" cx="1667.5" cy="167.5" r="6.5"/>
<circle class="mb" cx="1669" cy="149.7" r="6.5"/>
<circle class="mb" cx="1673.4" cy="152.7" r="6.5"/>
<circle class="mb" cx="1677.9" cy="156.4" r="6.5"/>
<circle class="mb" cx="1678.6" cy="162.3" r="6.5"/>
<circle class="mb" cx="1692" cy="143" r="6.5"/>
<circle class="mb" cx="1699.4" cy="133.4" r="6.5"/>
<circle class="mb" cx="1700" cy="133.8" r="6.5"/>
<circle class="mb" cx="1705.9" cy="144.2" r="6.5"/>
<circle class="mb" cx="1716.3" cy="150.2" r="6.5"/>
<circle class="mb" cx="1722.3" cy="139" r="6.5"/>
<circle class="mb" cx="1727.9" cy="125.7" r="6.5"/>
<circle class="mb" cx="1731.9" cy="148.7" r="6.5"/>
<circle class="mb" cx="1737.1" cy="141.3" r="6.5"/>
<circle class="mb" cx="1743" cy="136.1" r="6.5"/>
<circle class="mb" cx="1749" cy="144.2" r="6.5"/>
<circle class="mb" cx="1750.5" cy="132.3" r="6.5"/>
<circle class="mb" cx="1757.1" cy="147.9" r="6.5"/>
<circle class="mb" cx="1763.1" cy="139.8" r="6.5"/>
<circle class="mb" cx="1764.6" cy="130.9" r="6.5"/>
<circle class="mb" cx="1771.3" cy="127.9" r="6.5"/>
<circle class="mb" cx="1778.7" cy="125.7" r="6.5"/>
<circle class="mb" cx="1783.1" cy="124.9" r="6.5"/>
<circle class="mb" cx="1786.8" cy="143.5" r="6.5"/>
<circle class="mb" cx="1789.1" cy="132.3" r="6.5"/>
<circle class="mb" cx="1792.8" cy="128.6" r="6.5"/>
<circle class="mb" cx="1797.2" cy="139.8" r="6.5"/>
<circle class="mb" cx="1803.2" cy="139.8" r="6.5"/>
<circle class="mb" cx="1806.9" cy="124.9" r="6.5"/>
<circle class="mb" cx="1812.8" cy="123.4" r="6.5"/>
<circle class="mb" cx="1815.8" cy="132.3" r="6.5"/>
<circle class="mb" cx="1819.9" cy="111.6" r="6.5"/>
<circle class="mb" cx="1823.2" cy="122" r="6.5"/>
<circle class="mb" cx="1828" cy="113" r="6.5"/>
<circle class="mb" cx="1830.6" cy="128.6" r="6.5"/>
<circle class="mb" cx="1834.3" cy="122" r="6.5"/>
<circle class="mb" cx="1841" cy="121.2" r="6.5"/>
<circle class="mb" cx="1844" cy="116" r="6.5"/>
<circle class="mb" cx="1849.9" cy="113" r="6.5"/>
<circle class="mb" cx="1855.1" cy="119.7" r="6.5"/>
<circle class="mb" cx="1861.5" cy="113.8" r="6.5"/>
<circle class="mb" cx="1875.2" cy="101.5" r="6.5"/>
<circle class="mb" cx="1875.9" cy="110.1" r="6.5"/>
<circle class="mb" cx="1881.1" cy="108.3" r="6.5"/>
<circle class="mb" cx="1902.6" cy="103" r="6.5"/>
<circle class="mb" cx="1919.7" cy="96" r="6.5"/>
<circle class="mb" cx="1922.7" cy="98.9" r="6.5"/>
<circle class="mb" cx="1976.4" cy="87.5" r="6.5"/>
<rect class="mg" x="1165.1" y="245.7" width="12.8" height="12.8"/>
<rect class="mg" x="1173.6" y="249.4" width="12.8" height="12.8"/>
<rect class="mg" x="1195.9" y="238.3" width="12.8" height="12.8"/>
<rect class="mg" x="1219.6" y="231.6" width="12.8" height="12.8"/>
<rect class="mg" x="1247.8" y="220.8" width="12.8" height="12.8"/>
<rect class="mg" x="1267.5" y="242.7" width="12.8" height="12.8"/>
<rect class="mg" x="1292.8" y="241" width="12.8" height="12.8"/>
<rect class="mg" x="1299" y="235.3" width="12.8" height="12.8"/>
<rect class="mg" x="1308.7" y="236.8" width="12.8" height="12.8"/>
<rect class="mg" x="1326.9" y="236.5" width="12.8" height="12.8"/>
<rect class="mg" x="1333.9" y="231.6" width="12.8" height="12.8"/>
<rect class="mg" x="1355.6" y="222" width="12.8" height="12.8"/>
<rect class="mg" x="1358.8" y="223.4" width="12.8" height="12.8"/>
<rect class="mg" x="1367" y="220.5" width="12.8" height="12.8"/>
<rect class="mg" x="1370" y="213.4" width="12.8" height="12.8"/>
<rect class="mg" x="1383.8" y="211.9" width="12.8" height="12.8"/>
<rect class="mg" x="1394.2" y="210.1" width="12.8" height="12.8"/>
<rect class="mg" x="1407.5" y="236.5" width="12.8" height="12.8"/>
<rect class="mg" x="1419.4" y="199.7" width="12.8" height="12.8"/>
<rect class="mg" x="1427.5" y="232.1" width="12.8" height="12.8"/>
<rect class="mg" x="1450" y="227.2" width="12.8" height="12.8"/>
<rect class="mg" x="1455.1" y="228.6" width="12.8" height="12.8"/>
<rect class="mg" x="1459.5" y="224.2" width="12.8" height="12.8"/>
<rect class="mg" x="1469.3" y="226.7" width="12.8" height="12.8"/>
<rect class="mg" x="1481.8" y="217.5" width="12.8" height="12.8"/>
<rect class="mg" x="1487.1" y="219.7" width="12.8" height="12.8"/>
<rect class="mg" x="1490.4" y="220.5" width="12.8" height="12.8"/>
<rect class="mg" x="1495.1" y="218.3" width="12.8" height="12.8"/>
<rect class="mg" x="1501.5" y="202.7" width="12.8" height="12.8"/>
<rect class="mg" x="1504.5" y="204.1" width="12.8" height="12.8"/>
<rect class="mg" x="1517.1" y="201.2" width="12.8" height="12.8"/>
<rect class="mg" x="1520.1" y="201.2" width="12.8" height="12.8"/>
<rect class="mg" x="1533.4" y="200.4" width="12.8" height="12.8"/>
<rect class="mg" x="1539.7" y="193.8" width="12.8" height="12.8"/>
<rect class="mg" x="1543.1" y="193" width="12.8" height="12.8"/>
<rect class="mg" x="1554.5" y="188.6" width="12.8" height="12.8"/>
<rect class="mg" x="1576.8" y="180.4" width="12.8" height="12.8"/>
<rect class="mg" x="1601" y="210.4" width="12.8" height="12.8"/>
<rect class="mg" x="1606.5" y="195.2" width="12.8" height="12.8"/>
<rect class="mg" x="1609.9" y="210.1" width="12.8" height="12.8"/>
<rect class="mg" x="1615.1" y="210.8" width="12.8" height="12.8"/>
<rect class="mg" x="1616.6" y="193.8" width="12.8" height="12.8"/>
<rect class="mg" x="1623.3" y="194.5" width="12.8" height="12.8"/>
<rect class="mg" x="1629.9" y="207.9" width="12.8" height="12.8"/>
<rect class="mg" x="1633.6" y="195.2" width="12.8" height="12.8"/>
<rect class="mg" x="1638.1" y="202.7" width="12.8" height="12.8"/>
<rect class="mg" x="1647.7" y="202.7" width="12.8" height="12.8"/>
<rect class="mg" x="1652.9" y="187.8" width="12.8" height="12.8"/>
<rect class="mg" x="1657.8" y="196" width="12.8" height="12.8"/>
<rect class="mg" x="1661.1" y="204.1" width="12.8" height="12.8"/>
<rect class="mg" x="1662.6" y="187.8" width="12.8" height="12.8"/>
<rect class="mg" x="1667" y="194.5" width="12.8" height="12.8"/>
<rect class="mg" x="1672.2" y="190.8" width="12.8" height="12.8"/>
<rect class="mg" x="1673" y="197.5" width="12.8" height="12.8"/>
<rect class="mg" x="1685.6" y="178.9" width="12.8" height="12.8"/>
<rect class="mg" x="1692.3" y="176.7" width="12.8" height="12.8"/>
<rect class="mg" x="1692.3" y="188.6" width="12.8" height="12.8"/>
<rect class="mg" x="1693.6" y="176.4" width="12.8" height="12.8"/>
<rect class="mg" x="1699.5" y="180.9" width="12.8" height="12.8"/>
<rect class="mg" x="1709.9" y="186.8" width="12.8" height="12.8"/>
<rect class="mg" x="1715.9" y="183.8" width="12.8" height="12.8"/>
<rect class="mg" x="1721.5" y="165.7" width="12.8" height="12.8"/>
<rect class="mg" x="1725.5" y="191.3" width="12.8" height="12.8"/>
<rect class="mg" x="1730.7" y="183.8" width="12.8" height="12.8"/>
<rect class="mg" x="1736.6" y="182.4" width="12.8" height="12.8"/>
<rect class="mg" x="1743.3" y="166" width="12.8" height="12.8"/>
<rect class="mg" x="1744.1" y="182.4" width="12.8" height="12.8"/>
<rect class="mg" x="1750.7" y="188.3" width="12.8" height="12.8"/>
<rect class="mg" x="1758.2" y="183.1" width="12.8" height="12.8"/>
<rect class="mg" x="1764.9" y="185.3" width="12.8" height="12.8"/>
<rect class="mg" x="1772.3" y="176.4" width="12.8" height="12.8"/>
<rect class="mg" x="1777.5" y="173.4" width="12.8" height="12.8"/>
<rect class="mg" x="1780.4" y="192.7" width="12.8" height="12.8"/>
<rect class="mg" x="1784.1" y="182.4" width="12.8" height="12.8"/>
<rect class="mg" x="1786.4" y="177.9" width="12.8" height="12.8"/>
<rect class="mg" x="1790.8" y="191.3" width="12.8" height="12.8"/>
<rect class="mg" x="1796.8" y="189.8" width="12.8" height="12.8"/>
<rect class="mg" x="1800.5" y="171.2" width="12.8" height="12.8"/>
<rect class="mg" x="1807.9" y="176.4" width="12.8" height="12.8"/>
<rect class="mg" x="1809.4" y="185.3" width="12.8" height="12.8"/>
<rect class="mg" x="1813.5" y="163.8" width="12.8" height="12.8"/>
<rect class="mg" x="1818.3" y="169.7" width="12.8" height="12.8"/>
<rect class="mg" x="1824.2" y="186.8" width="12.8" height="12.8"/>
<rect class="mg" x="1827.9" y="180.9" width="12.8" height="12.8"/>
<rect class="mg" x="1833.9" y="180.9" width="12.8" height="12.8"/>
<rect class="mg" x="1835.4" y="169" width="12.8" height="12.8"/>
<rect class="mg" x="1843.5" y="162.3" width="12.8" height="12.8"/>
<rect class="mg" x="1848.7" y="173.4" width="12.8" height="12.8"/>
<rect class="mg" x="1855.1" y="177.9" width="12.8" height="12.8"/>
<rect class="mg" x="1868.8" y="151.9" width="12.8" height="12.8"/>
<rect class="mg" x="1869.5" y="170.5" width="12.8" height="12.8"/>
<rect class="mg" x="1874.7" y="166" width="12.8" height="12.8"/>
<rect class="mg" x="1896.2" y="152.4" width="12.8" height="12.8"/>
<rect class="mg" x="1913.3" y="157.1" width="12.8" height="12.8"/>
<rect class="mg" x="1916.3" y="164.5" width="12.8" height="12.8"/>
<rect class="mg" x="1970" y="145.2" width="12.8" height="12.8"/>
<polygon class="mr" points="1165.6,265.3 1177.4,265.3 1171.5,277.5"/>
<polygon class="mr" points="1174.1,281.2 1185.9,281.2 1180,293.4"/>
<polygon class="mr" points="1167.1,248.2 1178.9,248.2 1173,260.4"/>
<polygon class="mr" points="1196.4,226.4 1208.2,226.4 1202.3,238.6"/>
<polygon class="mr" points="1220.1,203.4 1231.9,203.4 1226,215.6"/>
<polygon class="mr" points="1248.3,178.5 1260.1,178.5 1254.2,190.7"/>
<polygon class="mr" points="1268,267.5 1279.8,267.5 1273.9,279.7"/>
<polygon class="mr" points="1268,284.3 1279.8,284.3 1273.9,296.5"/>
<polygon class="mr" points="1293.3,283.6 1305.1,283.6 1299.2,295.8"/>
<polygon class="mr" points="1299.5,246 1311.3,246 1305.4,258.2"/>
<polygon class="mr" points="1309.2,265.6 1321,265.6 1315.1,277.8"/>
<polygon class="mr" points="1330.4,261.6 1342.2,261.6 1336.3,273.8"/>
<polygon class="mr" points="1327.4,280.5 1339.2,280.5 1333.3,292.7"/>
<polygon class="mr" points="1334.4,244.5 1346.2,244.5 1340.3,256.7"/>
<polygon class="mr" points="1356.1,220 1367.9,220 1362,232.2"/>
<polygon class="mr" points="1359.3,238.6 1371.1,238.6 1365.2,250.8"/>
<polygon class="mr" points="1367.5,220 1379.3,220 1373.4,232.2"/>
<polygon class="mr" points="1370.5,194.8 1382.3,194.8 1376.4,207"/>
<polygon class="mr" points="1384.3,214.1 1396.1,214.1 1390.2,226.3"/>
<polygon class="mr" points="1394.7,194.8 1406.5,194.8 1400.6,207"/>
<polygon class="mr" points="1408,286.1 1419.8,286.1 1413.9,298.3"/>
<polygon class="mr" points="1419.9,187.4 1431.7,187.4 1425.8,199.6"/>
<polygon class="mr" points="1428,283.1 1439.8,283.1 1433.9,295.3"/>
<polygon class="mr" points="1450.5,278.7 1462.3,278.7 1456.4,290.9"/>
<polygon class="mr" points="1455.6,281.6 1467.4,281.6 1461.5,293.8"/>
<polygon class="mr" points="1455,261.6 1466.8,261.6 1460.9,273.8"/>
<polygon class="mr" points="1460,263.1 1471.8,263.1 1465.9,275.3"/>
<polygon class="mr" points="1469.8,279.4 1481.6,279.4 1475.7,291.6"/>
<polygon class="mr" points="1482.3,255.7 1494.1,255.7 1488.2,267.9"/>
<polygon class="mr" points="1487.6,260.1 1499.4,260.1 1493.5,272.3"/>
<polygon class="mr" points="1492.1,276.4 1503.9,276.4 1498,288.6"/>
<polygon class="mr" points="1495.6,257.1 1507.4,257.1 1501.5,269.3"/>
<polygon class="mr" points="1500.5,237.1 1512.3,237.1 1506.4,249.3"/>
<polygon class="mr" points="1504,211.1 1515.8,211.1 1509.9,223.3"/>
<polygon class="mr" points="1507.2,236.4 1519,236.4 1513.1,248.6"/>
<polygon class="mr" points="1510.2,235.6 1522,235.6 1516.1,247.8"/>
<polygon class="mr" points="1515.8,252 1527.6,252 1521.7,264.2"/>
<polygon class="mr" points="1517.6,211.1 1529.4,211.1 1523.5,223.3"/>
<polygon class="mr" points="1520.6,230 1532.4,230 1526.5,242.2"/>
<polygon class="mr" points="1533.9,230.9 1545.7,230.9 1539.8,243.1"/>
<polygon class="mr" points="1540.2,204.4 1552,204.4 1546.1,216.6"/>
<polygon class="mr" points="1543.6,204.4 1555.4,204.4 1549.5,216.6"/>
<polygon class="mr" points="1555,225.2 1566.8,225.2 1560.9,237.4"/>
<polygon class="mr" points="1577.3,199.6 1589.1,199.6 1583.2,211.8"/>
<polygon class="mr" points="1601.5,275.7 1613.3,275.7 1607.4,287.9"/>
<polygon class="mr" points="1607,227.5 1618.8,227.5 1612.9,239.7"/>
<polygon class="mr" points="1608.2,276.4 1620,276.4 1614.1,288.6"/>
<polygon class="mr" points="1615.6,277.9 1627.4,277.9 1621.5,290.1"/>
<polygon class="mr" points="1617.1,225.2 1628.9,225.2 1623,237.4"/>
<polygon class="mr" points="1621.5,226 1633.3,226 1627.4,238.2"/>
<polygon class="mr" points="1626,252.7 1637.8,252.7 1631.9,264.9"/>
<polygon class="mr" points="1629.7,273.5 1641.5,273.5 1635.6,285.7"/>
<polygon class="mr" points="1631.2,251.2 1643,251.2 1637.1,263.4"/>
<polygon class="mr" points="1634.6,227.5 1646.4,227.5 1640.5,239.7"/>
<polygon class="mr" points="1634.9,251.2 1646.7,251.2 1640.8,263.4"/>
<polygon class="mr" points="1638.6,269.8 1650.4,269.8 1644.5,282"/>
<polygon class="mr" points="1648.2,271.2 1660,271.2 1654.1,283.4"/>
<polygon class="mr" points="1652.4,220 1664.2,220 1658.3,232.2"/>
<polygon class="mr" points="1652.7,250.5 1664.5,250.5 1658.6,262.7"/>
<polygon class="mr" points="1653.4,245.3 1665.2,245.3 1659.3,257.5"/>
<polygon class="mr" points="1658.6,219.3 1670.4,219.3 1664.5,231.5"/>
<polygon class="mr" points="1662.3,270.5 1674.1,270.5 1668.2,282.7"/>
<polygon class="mr" points="1663.1,243 1674.9,243 1669,255.2"/>
<polygon class="mr" points="1663.8,263.8 1675.6,263.8 1669.7,276"/>
<polygon class="mr" points="1667.5,243 1679.3,243 1673.4,255.2"/>
<polygon class="mr" points="1671.3,245.3 1683.1,245.3 1677.2,257.5"/>
<polygon class="mr" points="1672.7,267.5 1684.5,267.5 1678.6,279.7"/>
<polygon class="mr" points="1686.1,239.3 1697.9,239.3 1692,251.5"/>
<polygon class="mr" points="1692.8,240.8 1704.6,240.8 1698.7,253"/>
<polygon class="mr" points="1693.5,214.8 1705.3,214.8 1699.4,227"/>
<polygon class="mr" points="1694.1,213.8 1705.9,213.8 1700,226"/>
<polygon class="mr" points="1700,239.1 1711.8,239.1 1705.9,251.3"/>
<polygon class="mr" points="1713.4,240.5 1725.2,240.5 1719.3,252.7"/>
<polygon class="mr" points="1717.1,240.5 1728.9,240.5 1723,252.7"/>
<polygon class="mr" points="1722,209.4 1733.8,209.4 1727.9,221.6"/>
<polygon class="mr" points="1726,241.3 1737.8,241.3 1731.9,253.5"/>
<polygon class="mr" points="1737.1,234.6 1748.9,234.6 1743,246.8"/>
<polygon class="mr" points="1743.1,233.1 1754.9,233.1 1749,245.3"/>
<polygon class="mr" points="1748.3,234.6 1760.1,234.6 1754.2,246.8"/>
<polygon class="mr" points="1758.7,229.4 1770.5,229.4 1764.6,241.6"/>
<polygon class="mr" points="1765.4,255.4 1777.2,255.4 1771.3,267.6"/>
<polygon class="mr" points="1772,228.7 1783.8,228.7 1777.9,240.9"/>
<polygon class="mr" points="1778,230.2 1789.8,230.2 1783.9,242.4"/>
<polygon class="mr" points="1772.8,255.4 1784.6,255.4 1778.7,267.6"/>
<polygon class="mr" points="1780.9,256.9 1792.7,256.9 1786.8,269.1"/>
<polygon class="mr" points="1784.6,255.4 1796.4,255.4 1790.5,267.6"/>
<polygon class="mr" points="1791.3,253.9 1803.1,253.9 1797.2,266.1"/>
<polygon class="mr" points="1797.3,250.9 1809.1,250.9 1803.2,263.1"/>
<polygon class="mr" points="1801,249.5 1812.8,249.5 1806.9,261.7"/>
<polygon class="mr" points="1806.9,248.7 1818.7,248.7 1812.8,260.9"/>
<polygon class="mr" points="1809.9,248 1821.7,248 1815.8,260.2"/>
<polygon class="mr" points="1812.9,224.2 1824.7,224.2 1818.8,236.4"/>
<polygon class="mr" points="1815.8,252.4 1827.6,252.4 1821.7,264.6"/>
<polygon class="mr" points="1822.1,223 1833.9,223 1828,235.2"/>
<polygon class="mr" points="1823.2,245 1835,245 1829.1,257.2"/>
<polygon class="mr" points="1829.9,249.5 1841.7,249.5 1835.8,261.7"/>
<polygon class="mr" points="1832.2,243.5 1844,243.5 1838.1,255.7"/>
<polygon class="mr" points="1838.1,246.5 1849.9,246.5 1844,258.7"/>
<polygon class="mr" points="1844,244.3 1855.8,244.3 1849.9,256.5"/>
<polygon class="mr" points="1847,243.5 1858.8,243.5 1852.9,255.7"/>
<polygon class="mr" points="1849.2,245 1861,245 1855.1,257.2"/>
<polygon class="mr" points="1855.6,239.1 1867.4,239.1 1861.5,251.3"/>
<polygon class="mr" points="1869.3,217.5 1881.1,217.5 1875.2,229.7"/>
<polygon class="mr" points="1870,239.1 1881.8,239.1 1875.9,251.3"/>
<polygon class="mr" points="1875.2,239.8 1887,239.8 1881.1,252"/>
<polygon class="mr" points="1896.7,240.5 1908.5,240.5 1902.6,252.7"/>
<polygon class="mr" points="1913.8,233.1 1925.6,233.1 1919.7,245.3"/>
<polygon class="mr" points="1916.8,232.4 1928.6,232.4 1922.7,244.6"/>
<polygon class="mr" points="1970.5,225.4 1982.3,225.4 1976.4,237.6"/>
<polygon class="mr" points="1710.5,260.2 1722.3,260.2 1716.4,272.4"/>
<polygon class="mr" points="1734.1,264.4 1745.9,264.4 1740,276.6"/>
<polygon class="mr" points="1741.5,264.4 1753.3,264.4 1747.4,276.6"/>
<polygon class="mr" points="1748.9,264.4 1760.7,264.4 1754.8,276.6"/>
<polygon class="mr" points="1756.3,265.2 1768.1,265.2 1762.2,277.4"/>
<polygon class="mr" points="1763.7,254.5 1775.5,254.5 1769.6,266.7"/>
<polygon class="mr" points="1769.9,255.8 1781.7,255.8 1775.8,268"/>
<polygon class="mr" points="1774.9,254.5 1786.7,254.5 1780.8,266.7"/>
<polygon class="mr" points="1781.1,259.5 1792.9,259.5 1787,271.7"/>
<polygon class="mr" points="1787.2,257 1799,257 1793.1,269.2"/>
<polygon class="mr" points="1793.4,255.8 1805.2,255.8 1799.3,268"/>
<polygon class="mr" points="1799.6,254.5 1811.4,254.5 1805.5,266.7"/>
<polygon class="mr" points="1809.5,252 1821.3,252 1815.4,264.2"/>
<polygon class="mr" points="1815.7,253.3 1827.5,253.3 1821.6,265.5"/>
<polygon class="mr" points="1829.3,251.3 1841.1,251.3 1835.2,263.5"/>
<polygon class="mr" points="1839.2,248.3 1851,248.3 1845.1,260.5"/>
<polygon class="mr" points="1846.6,247.1 1858.4,247.1 1852.5,259.3"/>
<line x1="1171" y1="248" x2="1976" y2="92" stroke="#0000ff" stroke-width="2.8" stroke-linecap="butt"/>
<line x1="1171" y1="251.5" x2="1976" y2="164" stroke="#008000" stroke-width="2.8" stroke-linecap="butt"/>
<line x1="1171" y1="251.5" x2="1976" y2="249" stroke="#ff0000" stroke-width="2.8" stroke-linecap="butt"/>
</g>
<line x1="1150.1" y1="67.6" x2="1155.1" y2="67.6" stroke="#000" stroke-width="1.6"/>
<line x1="1150.1" y1="150" x2="1155.1" y2="150" stroke="#000" stroke-width="1.6"/>
<line x1="1150.1" y1="232.3" x2="1155.1" y2="232.3" stroke="#000" stroke-width="1.6"/>
<line x1="1150.1" y1="314.5" x2="1155.1" y2="314.5" stroke="#000" stroke-width="1.6"/>
<line x1="1157" y1="316.4" x2="1157" y2="321.4" stroke="#000" stroke-width="1.6"/>
<text class="t" x="1157" y="344.7" text-anchor="middle">−3.2</text>
<line x1="1365.8" y1="316.4" x2="1365.8" y2="321.4" stroke="#000" stroke-width="1.6"/>
<text class="t" x="1365.8" y="344.7" text-anchor="middle">−2.7</text>
<line x1="1574.7" y1="316.4" x2="1574.7" y2="321.4" stroke="#000" stroke-width="1.6"/>
<text class="t" x="1574.7" y="344.7" text-anchor="middle">−2.2</text>
<line x1="1783.5" y1="316.4" x2="1783.5" y2="321.4" stroke="#000" stroke-width="1.6"/>
<text class="t" x="1783.5" y="344.7" text-anchor="middle">−1.7</text>
<line x1="1992.3" y1="316.4" x2="1992.3" y2="321.4" stroke="#000" stroke-width="1.6"/>
<text class="t" x="1992.3" y="344.7" text-anchor="middle">−1.2</text>
<rect x="1157" y="68" width="835.3" height="246.5" fill="none" stroke="#000" stroke-width="3.8"/>
<circle class="mb" cx="1210.3" cy="108" r="6.5"/>
<text class="lg" x="1260.7" y="115.5">CH</text>
<rect class="mg" x="1382.6" y="101.6" width="12.8" height="12.8"/>
<text class="lg" x="1439.8" y="114.2">CH<tspan dy="4.2" font-size="19.8px">2</tspan></text>
<polygon class="mr" points="1577.7,101.9 1589.5,101.9 1583.6,114.1"/>
<text class="lg" x="1633.9" y="114.2">CH<tspan dy="4.2" font-size="19.8px">3</tspan></text>
<text class="xl" x="1574.3" y="380.5" text-anchor="middle">Δ<tspan class="i">E</tspan><tspan dy="-9.7" dx="1.2" font-size="20.5px">0</tspan><tspan dy="9.7" dx="0.6">(</tspan><tspan class="i">C</tspan>)</text>
<g transform="translate(1076 244.3) rotate(-90)">
<text class="yl" transform="scale(0.89 1)" x="0" y="0" font-size="53px" style="font-weight:normal" stroke="#000" stroke-width="1">Δ</text>
<text class="yl i" x="31.3" y="0" font-size="53px" stroke="#000" stroke-width="0.6">E</text>
<text class="yl i" x="64.2" y="-15.8" font-size="43px" stroke="#000" stroke-width="0.4">x</text>
<polygon points="19.3,-39.3 44.1,-46.9 68.9,-39.3 68.2,-37.6 44.1,-43 20,-37.6" fill="#000"/>
</g>
</g>
<g id="b2">
<text class="t" x="1143.4" y="493.5" text-anchor="end">0.8</text>
<text class="t" x="1143.4" y="560.3" text-anchor="end">−0.2</text>
<text class="t" x="1143.4" y="626.9" text-anchor="end">−1.2</text>
<text class="t" x="1143.4" y="693.5" text-anchor="end">−2.2</text>
<clipPath id="c6"><rect x="1157" y="437.9" width="835.3" height="247.1"/></clipPath>
<g clip-path="url(#c6)">
<circle class="mb" cx="1209.7" cy="567.9" r="6.5"/>
<circle class="mb" cx="1218.2" cy="562" r="6.5"/>
<circle class="mb" cx="1226.4" cy="564.2" r="6.5"/>
<circle class="mb" cx="1242.7" cy="567.2" r="6.5"/>
<circle class="mb" cx="1291.4" cy="564.7" r="6.5"/>
<circle class="mb" cx="1342.2" cy="562" r="6.5"/>
<circle class="mb" cx="1371.1" cy="551.6" r="6.5"/>
<circle class="mb" cx="1377" cy="557.5" r="6.5"/>
<circle class="mb" cx="1385.6" cy="552.3" r="6.5"/>
<circle class="mb" cx="1385.6" cy="558.3" r="6.5"/>
<circle class="mb" cx="1391.1" cy="558.6" r="6.5"/>
<circle class="mb" cx="1395.6" cy="547.1" r="6.5"/>
<circle class="mb" cx="1400.8" cy="550.9" r="6.5"/>
<circle class="mb" cx="1406" cy="553.1" r="6.5"/>
<circle class="mb" cx="1417.9" cy="546.4" r="6.5"/>
<circle class="mb" cx="1418.6" cy="555.3" r="6.5"/>
<circle class="mb" cx="1422.3" cy="557.5" r="6.5"/>
<circle class="mb" cx="1436.4" cy="557.5" r="6.5"/>
<circle class="mb" cx="1466.1" cy="555.6" r="6.5"/>
<circle class="mb" cx="1512.3" cy="542" r="6.5"/>
<circle class="mb" cx="1520.5" cy="550.6" r="6.5"/>
<circle class="mb" cx="1528.6" cy="546.4" r="6.5"/>
<circle class="mb" cx="1532.3" cy="538.2" r="6.5"/>
<circle class="mb" cx="1541.3" cy="547.9" r="6.5"/>
<circle class="mb" cx="1550.9" cy="537.2" r="6.5"/>
<circle class="mb" cx="1562" cy="548.2" r="6.5"/>
<circle class="mb" cx="1559.1" cy="539" r="6.5"/>
<circle class="mb" cx="1565.7" cy="535.7" r="6.5"/>
<circle class="mb" cx="1576.1" cy="545.7" r="6.5"/>
<circle class="mb" cx="1581.3" cy="538.2" r="6.5"/>
<circle class="mb" cx="1599.1" cy="547.1" r="6.5"/>
<circle class="mb" cx="1601.4" cy="531.6" r="6.5"/>
<circle class="mb" cx="1609.5" cy="544.9" r="6.5"/>
<circle class="mb" cx="1614.7" cy="530.8" r="6.5"/>
<circle class="mb" cx="1618.4" cy="536" r="6.5"/>
<circle class="mb" cx="1627.6" cy="534.5" r="6.5"/>
<circle class="mb" cx="1653.3" cy="532.3" r="6.5"/>
<circle class="mb" cx="1660" cy="529.3" r="6.5"/>
<circle class="mb" cx="1667.4" cy="535.7" r="6.5"/>
<circle class="mb" cx="1683.8" cy="527.1" r="6.5"/>
<circle class="mb" cx="1692.7" cy="527.1" r="6.5"/>
<circle class="mb" cx="1694.1" cy="533.8" r="6.5"/>
<circle class="mb" cx="1701.6" cy="530.1" r="6.5"/>
<circle class="mb" cx="1706" cy="524.9" r="6.5"/>
<circle class="mb" cx="1713.4" cy="527.9" r="6.5"/>
<circle class="mb" cx="1723.8" cy="532.3" r="6.5"/>
<circle class="mb" cx="1726.8" cy="523.4" r="6.5"/>
<circle class="mb" cx="1735" cy="522.7" r="6.5"/>
<circle class="mb" cx="1746.1" cy="529.3" r="6.5"/>
<circle class="mb" cx="1747.6" cy="522.7" r="6.5"/>
<circle class="mb" cx="1755" cy="522.7" r="6.5"/>
<circle class="mb" cx="1761.7" cy="519.7" r="6.5"/>
<circle class="mb" cx="1768.4" cy="525.6" r="6.5"/>
<circle class="mb" cx="1774.2" cy="520.4" r="6.5"/>
<circle class="mb" cx="1775.7" cy="530.1" r="6.5"/>
<circle class="mb" cx="1786.8" cy="519.7" r="6.5"/>
<circle class="mb" cx="1789" cy="525.6" r="6.5"/>
<circle class="mb" cx="1800.2" cy="518.2" r="6.5"/>
<circle class="mb" cx="1812" cy="518.2" r="6.5"/>
<circle class="mb" cx="1819.5" cy="518.2" r="6.5"/>
<circle class="mb" cx="1822.4" cy="522.7" r="6.5"/>
<circle class="mb" cx="1829.1" cy="523.4" r="6.5"/>
<circle class="mb" cx="1833.6" cy="518.2" r="6.5"/>
<circle class="mb" cx="1845.4" cy="514.5" r="6.5"/>
<circle class="mb" cx="1845.4" cy="521.2" r="6.5"/>
<circle class="mb" cx="1858.1" cy="516.7" r="6.5"/>
<circle class="mb" cx="1868.4" cy="514.5" r="6.5"/>
<circle class="mb" cx="1871.4" cy="518.2" r="6.5"/>
<circle class="mb" cx="1875.1" cy="513" r="6.5"/>
<circle class="mb" cx="1880.3" cy="515.2" r="6.5"/>
<circle class="mb" cx="1887.7" cy="516.7" r="6.5"/>
<circle class="mb" cx="1892.2" cy="514.5" r="6.5"/>
<circle class="mb" cx="1895.2" cy="510.8" r="6.5"/>
<circle class="mb" cx="1905.6" cy="516" r="6.5"/>
<circle class="mb" cx="1910" cy="511.5" r="6.5"/>
<circle class="mb" cx="1913" cy="518.2" r="6.5"/>
<circle class="mb" cx="1929.3" cy="514.5" r="6.5"/>
<circle class="mb" cx="1939.7" cy="511.5" r="6.5"/>
<circle class="mb" cx="1947.9" cy="506.3" r="6.5"/>
<circle class="mb" cx="1951.6" cy="509.3" r="6.5"/>
<circle class="mb" cx="1955.3" cy="514.5" r="6.5"/>
<circle class="mb" cx="1964.2" cy="507.8" r="6.5"/>
<circle class="mb" cx="1972.4" cy="510" r="6.5"/>
<circle class="mb" cx="1980.5" cy="513.8" r="6.5"/>
<circle class="mb" cx="1987.2" cy="512.3" r="6.5"/>
<rect class="mg" x="1203.3" y="601.6" width="12.8" height="12.8"/>
<rect class="mg" x="1211.8" y="593.1" width="12.8" height="12.8"/>
<rect class="mg" x="1220" y="596.9" width="12.8" height="12.8"/>
<rect class="mg" x="1236.3" y="603.5" width="12.8" height="12.8"/>
<rect class="mg" x="1285" y="603.5" width="12.8" height="12.8"/>
<rect class="mg" x="1335.8" y="603.5" width="12.8" height="12.8"/>
<rect class="mg" x="1364.7" y="586" width="12.8" height="12.8"/>
<rect class="mg" x="1370.6" y="594.9" width="12.8" height="12.8"/>
<rect class="mg" x="1379.2" y="590.8" width="12.8" height="12.8"/>
<rect class="mg" x="1384.7" y="597.9" width="12.8" height="12.8"/>
<rect class="mg" x="1389.2" y="583.4" width="12.8" height="12.8"/>
<rect class="mg" x="1394.4" y="584.5" width="12.8" height="12.8"/>
<rect class="mg" x="1399.6" y="592.7" width="12.8" height="12.8"/>
<rect class="mg" x="1411.5" y="587.5" width="12.8" height="12.8"/>
<rect class="mg" x="1412.2" y="596.4" width="12.8" height="12.8"/>
<rect class="mg" x="1415.9" y="599.4" width="12.8" height="12.8"/>
<rect class="mg" x="1430" y="598.3" width="12.8" height="12.8"/>
<rect class="mg" x="1459.7" y="597.2" width="12.8" height="12.8"/>
<rect class="mg" x="1505.9" y="582.3" width="12.8" height="12.8"/>
<rect class="mg" x="1514.1" y="592.7" width="12.8" height="12.8"/>
<rect class="mg" x="1522.2" y="588.3" width="12.8" height="12.8"/>
<rect class="mg" x="1525.9" y="579.3" width="12.8" height="12.8"/>
<rect class="mg" x="1534.9" y="592" width="12.8" height="12.8"/>
<rect class="mg" x="1544.5" y="576.8" width="12.8" height="12.8"/>
<rect class="mg" x="1555.6" y="592" width="12.8" height="12.8"/>
<rect class="mg" x="1552.7" y="578.6" width="12.8" height="12.8"/>
<rect class="mg" x="1559.3" y="582.3" width="12.8" height="12.8"/>
<rect class="mg" x="1569.7" y="586.8" width="12.8" height="12.8"/>
<rect class="mg" x="1574.9" y="580.8" width="12.8" height="12.8"/>
<rect class="mg" x="1592.7" y="589.7" width="12.8" height="12.8"/>
<rect class="mg" x="1595" y="575.6" width="12.8" height="12.8"/>
<rect class="mg" x="1603.1" y="588.3" width="12.8" height="12.8"/>
<rect class="mg" x="1608.3" y="577.1" width="12.8" height="12.8"/>
<rect class="mg" x="1621.2" y="580.8" width="12.8" height="12.8"/>
<rect class="mg" x="1646.9" y="577.9" width="12.8" height="12.8"/>
<rect class="mg" x="1653.6" y="577.1" width="12.8" height="12.8"/>
<rect class="mg" x="1661" y="582.3" width="12.8" height="12.8"/>
<rect class="mg" x="1677.4" y="574.1" width="12.8" height="12.8"/>
<rect class="mg" x="1686.3" y="574.9" width="12.8" height="12.8"/>
<rect class="mg" x="1687.7" y="581.6" width="12.8" height="12.8"/>
<rect class="mg" x="1695.2" y="579.3" width="12.8" height="12.8"/>
<rect class="mg" x="1699.6" y="574.1" width="12.8" height="12.8"/>
<rect class="mg" x="1707" y="575.6" width="12.8" height="12.8"/>
<rect class="mg" x="1717.4" y="584.5" width="12.8" height="12.8"/>
<rect class="mg" x="1720.4" y="571.2" width="12.8" height="12.8"/>
<rect class="mg" x="1728.6" y="572.7" width="12.8" height="12.8"/>
<rect class="mg" x="1739.7" y="585.3" width="12.8" height="12.8"/>
<rect class="mg" x="1741.2" y="571.2" width="12.8" height="12.8"/>
<rect class="mg" x="1748.6" y="574.1" width="12.8" height="12.8"/>
<rect class="mg" x="1755.3" y="575.6" width="12.8" height="12.8"/>
<rect class="mg" x="1762" y="571.2" width="12.8" height="12.8"/>
<rect class="mg" x="1767" y="569.7" width="12.8" height="12.8"/>
<rect class="mg" x="1767" y="583.8" width="12.8" height="12.8"/>
<rect class="mg" x="1780.4" y="568.2" width="12.8" height="12.8"/>
<rect class="mg" x="1781.9" y="582.3" width="12.8" height="12.8"/>
<rect class="mg" x="1793.8" y="568.2" width="12.8" height="12.8"/>
<rect class="mg" x="1796" y="574.9" width="12.8" height="12.8"/>
<rect class="mg" x="1805.6" y="571.2" width="12.8" height="12.8"/>
<rect class="mg" x="1817.5" y="571.9" width="12.8" height="12.8"/>
<rect class="mg" x="1819.7" y="578.6" width="12.8" height="12.8"/>
<rect class="mg" x="1827.2" y="573.4" width="12.8" height="12.8"/>
<rect class="mg" x="1839" y="571.2" width="12.8" height="12.8"/>
<rect class="mg" x="1839" y="580.1" width="12.8" height="12.8"/>
<rect class="mg" x="1851.7" y="576.4" width="12.8" height="12.8"/>
<rect class="mg" x="1862" y="568.2" width="12.8" height="12.8"/>
<rect class="mg" x="1865" y="572.7" width="12.8" height="12.8"/>
<rect class="mg" x="1868.7" y="567.5" width="12.8" height="12.8"/>
<rect class="mg" x="1873.9" y="572.7" width="12.8" height="12.8"/>
<rect class="mg" x="1881.3" y="569.7" width="12.8" height="12.8"/>
<rect class="mg" x="1888.8" y="566" width="12.8" height="12.8"/>
<rect class="mg" x="1899.2" y="576.4" width="12.8" height="12.8"/>
<rect class="mg" x="1903.6" y="567.5" width="12.8" height="12.8"/>
<rect class="mg" x="1906.6" y="572.7" width="12.8" height="12.8"/>
<rect class="mg" x="1922.9" y="573.4" width="12.8" height="12.8"/>
<rect class="mg" x="1933.3" y="566.7" width="12.8" height="12.8"/>
<rect class="mg" x="1941.5" y="562.3" width="12.8" height="12.8"/>
<rect class="mg" x="1945.2" y="564.5" width="12.8" height="12.8"/>
<rect class="mg" x="1948.9" y="573.4" width="12.8" height="12.8"/>
<rect class="mg" x="1957.8" y="563.8" width="12.8" height="12.8"/>
<rect class="mg" x="1966" y="569" width="12.8" height="12.8"/>
<rect class="mg" x="1974.1" y="571.2" width="12.8" height="12.8"/>
<rect class="mg" x="1980.8" y="570.4" width="12.8" height="12.8"/>
<polygon class="mr" points="1203.8,661.3 1215.6,661.3 1209.7,673.5"/>
<polygon class="mr" points="1212.3,654.6 1224.1,654.6 1218.2,666.8"/>
<polygon class="mr" points="1220.5,659.5 1232.3,659.5 1226.4,671.7"/>
<polygon class="mr" points="1236.8,661.3 1248.6,661.3 1242.7,673.5"/>
<polygon class="mr" points="1285.5,660.5 1297.3,660.5 1291.4,672.7"/>
<polygon class="mr" points="1336.3,661 1348.1,661 1342.2,673.2"/>
<polygon class="mr" points="1365.2,650.2 1377,650.2 1371.1,662.4"/>
<polygon class="mr" points="1371.1,658.3 1382.9,658.3 1377,670.5"/>
<polygon class="mr" points="1379.7,654.6 1391.5,654.6 1385.6,666.8"/>
<polygon class="mr" points="1379.7,659.1 1391.5,659.1 1385.6,671.3"/>
<polygon class="mr" points="1385.2,659.1 1397,659.1 1391.1,671.3"/>
<polygon class="mr" points="1389.7,649.4 1401.5,649.4 1395.6,661.6"/>
<polygon class="mr" points="1394.9,651.6 1406.7,651.6 1400.8,663.8"/>
<polygon class="mr" points="1400.1,657.6 1411.9,657.6 1406,669.8"/>
<polygon class="mr" points="1412,651.6 1423.8,651.6 1417.9,663.8"/>
<polygon class="mr" points="1413.4,657.6 1425.2,657.6 1419.3,669.8"/>
<polygon class="mr" points="1416.4,659.1 1428.2,659.1 1422.3,671.3"/>
<polygon class="mr" points="1430.5,658.3 1442.3,658.3 1436.4,670.5"/>
<polygon class="mr" points="1460.2,659.1 1472,659.1 1466.1,671.3"/>
<polygon class="mr" points="1506.4,647.9 1518.2,647.9 1512.3,660.1"/>
<polygon class="mr" points="1514.6,656.8 1526.4,656.8 1520.5,669"/>
<polygon class="mr" points="1522.7,654.6 1534.5,654.6 1528.6,666.8"/>
<polygon class="mr" points="1526.4,646.4 1538.2,646.4 1532.3,658.6"/>
<polygon class="mr" points="1535.4,656.1 1547.2,656.1 1541.3,668.3"/>
<polygon class="mr" points="1545,645.7 1556.8,645.7 1550.9,657.9"/>
<polygon class="mr" points="1556.1,656.8 1567.9,656.8 1562,669"/>
<polygon class="mr" points="1553.2,645.7 1565,645.7 1559.1,657.9"/>
<polygon class="mr" points="1559.8,647.2 1571.6,647.2 1565.7,659.4"/>
<polygon class="mr" points="1570.2,654.6 1582,654.6 1576.1,666.8"/>
<polygon class="mr" points="1575.4,650.2 1587.2,650.2 1581.3,662.4"/>
<polygon class="mr" points="1593.2,656.1 1605,656.1 1599.1,668.3"/>
<polygon class="mr" points="1595.5,646.4 1607.3,646.4 1601.4,658.6"/>
<polygon class="mr" points="1603.6,655.3 1615.4,655.3 1609.5,667.5"/>
<polygon class="mr" points="1608.8,648.7 1620.6,648.7 1614.7,660.9"/>
<polygon class="mr" points="1621.7,647.2 1633.5,647.2 1627.6,659.4"/>
<polygon class="mr" points="1647.4,645.7 1659.2,645.7 1653.3,657.9"/>
<polygon class="mr" points="1654.1,647.9 1665.9,647.9 1660,660.1"/>
<polygon class="mr" points="1661.5,650.9 1673.3,650.9 1667.4,663.1"/>
<polygon class="mr" points="1677.9,643.5 1689.7,643.5 1683.8,655.7"/>
<polygon class="mr" points="1686.8,650.9 1698.6,650.9 1692.7,663.1"/>
<polygon class="mr" points="1688.2,643.5 1700,643.5 1694.1,655.7"/>
<polygon class="mr" points="1695.7,647.9 1707.5,647.9 1701.6,660.1"/>
<polygon class="mr" points="1700.1,645.7 1711.9,645.7 1706,657.9"/>
<polygon class="mr" points="1707.5,646.4 1719.3,646.4 1713.4,658.6"/>
<polygon class="mr" points="1717.9,650.2 1729.7,650.2 1723.8,662.4"/>
<polygon class="mr" points="1720.9,642 1732.7,642 1726.8,654.2"/>
<polygon class="mr" points="1729.1,646.4 1740.9,646.4 1735,658.6"/>
<polygon class="mr" points="1740.2,649.4 1752,649.4 1746.1,661.6"/>
<polygon class="mr" points="1741.7,641.2 1753.5,641.2 1747.6,653.4"/>
<polygon class="mr" points="1749.1,645.7 1760.9,645.7 1755,657.9"/>
<polygon class="mr" points="1755.8,649.4 1767.6,649.4 1761.7,661.6"/>
<polygon class="mr" points="1762.5,643.5 1774.3,643.5 1768.4,655.7"/>
<polygon class="mr" points="1768.3,646.4 1780.1,646.4 1774.2,658.6"/>
<polygon class="mr" points="1769.8,650.2 1781.6,650.2 1775.7,662.4"/>
<polygon class="mr" points="1779.4,650.2 1791.2,650.2 1785.3,662.4"/>
<polygon class="mr" points="1785.4,643.5 1797.2,643.5 1791.3,655.7"/>
<polygon class="mr" points="1794.3,647.2 1806.1,647.2 1800.2,659.4"/>
<polygon class="mr" points="1806.1,650.2 1817.9,650.2 1812,662.4"/>
<polygon class="mr" points="1809.1,642 1820.9,642 1815,654.2"/>
<polygon class="mr" points="1818,643.5 1829.8,643.5 1823.9,655.7"/>
<polygon class="mr" points="1819.5,649.4 1831.3,649.4 1825.4,661.6"/>
<polygon class="mr" points="1827.7,645 1839.5,645 1833.6,657.2"/>
<polygon class="mr" points="1839.5,646.4 1851.3,646.4 1845.4,658.6"/>
<polygon class="mr" points="1852.2,643.5 1864,643.5 1858.1,655.7"/>
<polygon class="mr" points="1862.5,641.2 1874.3,641.2 1868.4,653.4"/>
<polygon class="mr" points="1865.5,642.7 1877.3,642.7 1871.4,654.9"/>
<polygon class="mr" points="1869.2,643.5 1881,643.5 1875.1,655.7"/>
<polygon class="mr" points="1874.4,642 1886.2,642 1880.3,654.2"/>
<polygon class="mr" points="1881.8,639.8 1893.6,639.8 1887.7,652"/>
<polygon class="mr" points="1887.8,645 1899.6,645 1893.7,657.2"/>
<polygon class="mr" points="1899.7,644.2 1911.5,644.2 1905.6,656.4"/>
<polygon class="mr" points="1904.1,645.7 1915.9,645.7 1910,657.9"/>
<polygon class="mr" points="1907.1,639.8 1918.9,639.8 1913,652"/>
<polygon class="mr" points="1923.4,642 1935.2,642 1929.3,654.2"/>
<polygon class="mr" points="1933.8,642 1945.6,642 1939.7,654.2"/>
<polygon class="mr" points="1939.7,645.7 1951.5,645.7 1945.6,657.9"/>
<polygon class="mr" points="1945.7,642.7 1957.5,642.7 1951.6,654.9"/>
<polygon class="mr" points="1953.1,639.8 1964.9,639.8 1959,652"/>
<polygon class="mr" points="1959,644.2 1970.8,644.2 1964.9,656.4"/>
<polygon class="mr" points="1967.9,638.3 1979.7,638.3 1973.8,650.5"/>
<polygon class="mr" points="1974.6,643.5 1986.4,643.5 1980.5,655.7"/>
<polygon class="mr" points="1981.3,642 1993.1,642 1987.2,654.2"/>
<line x1="1209" y1="567.5" x2="1992" y2="511" stroke="#0000ff" stroke-width="2.8" stroke-linecap="butt"/>
<line x1="1209" y1="605" x2="1992" y2="574" stroke="#008000" stroke-width="2.8" stroke-linecap="butt"/>
<line x1="1209" y1="667" x2="1992" y2="647" stroke="#ff0000" stroke-width="2.8" stroke-linecap="butt"/>
</g>
<line x1="1150.1" y1="484.6" x2="1155.1" y2="484.6" stroke="#000" stroke-width="1.6"/>
<line x1="1150.1" y1="551.4" x2="1155.1" y2="551.4" stroke="#000" stroke-width="1.6"/>
<line x1="1150.1" y1="618" x2="1155.1" y2="618" stroke="#000" stroke-width="1.6"/>
<line x1="1150.1" y1="684.6" x2="1155.1" y2="684.6" stroke="#000" stroke-width="1.6"/>
<line x1="1157" y1="686.9" x2="1157" y2="691.9" stroke="#000" stroke-width="1.6"/>
<text class="t" x="1157" y="714.5" text-anchor="middle">0.3</text>
<line x1="1324.1" y1="686.9" x2="1324.1" y2="691.9" stroke="#000" stroke-width="1.6"/>
<text class="t" x="1324.1" y="714.5" text-anchor="middle">0.6</text>
<line x1="1491.1" y1="686.9" x2="1491.1" y2="691.9" stroke="#000" stroke-width="1.6"/>
<text class="t" x="1491.1" y="714.5" text-anchor="middle">0.9</text>
<line x1="1658.2" y1="686.9" x2="1658.2" y2="691.9" stroke="#000" stroke-width="1.6"/>
<text class="t" x="1658.2" y="714.5" text-anchor="middle">1.2</text>
<line x1="1825.2" y1="686.9" x2="1825.2" y2="691.9" stroke="#000" stroke-width="1.6"/>
<text class="t" x="1825.2" y="714.5" text-anchor="middle">1.5</text>
<line x1="1992.3" y1="686.9" x2="1992.3" y2="691.9" stroke="#000" stroke-width="1.6"/>
<text class="t" x="1992.3" y="714.5" text-anchor="middle">1.8</text>
<rect x="1157" y="437.9" width="835.3" height="247.1" fill="none" stroke="#000" stroke-width="3.8"/>
<circle class="mb" cx="1210.3" cy="477" r="6.5"/>
<text class="lg" x="1260.7" y="484.7">NH</text>
<rect class="mg" x="1385.8" y="470.6" width="12.8" height="12.8"/>
<text class="lg" x="1442.9" y="484.7">NH<tspan dy="4.2" font-size="19.8px">2</tspan></text>
<polygon class="mr" points="1582.7,470.9 1594.5,470.9 1588.6,483.1"/>
<text class="lg" x="1639.1" y="484.7">NH<tspan dy="4.2" font-size="19.8px">3</tspan></text>
<text class="xl" x="1574.3" y="750.8" text-anchor="middle">Δ<tspan class="i">E</tspan><tspan dy="-9.7" dx="1.2" font-size="20.5px">0</tspan><tspan dy="9.7" dx="0.6">(</tspan><tspan class="i">N</tspan>)</text>
<g transform="translate(1057.5 596) rotate(-90)">
<text class="yl" transform="scale(0.89 1)" x="0" y="0" font-size="53px" style="font-weight:normal" stroke="#000" stroke-width="1">Δ</text>
<text class="yl i" x="31.3" y="0" font-size="53px" stroke="#000" stroke-width="0.6">E</text>
<text class="yl i" x="64.2" y="-15.8" font-size="43px" stroke="#000" stroke-width="0.4">x</text>
<polygon points="19.3,-39.3 44.1,-46.9 68.9,-39.3 68.2,-37.6 44.1,-43 20,-37.6" fill="#000"/>
</g>
</g>
<g id="b3">
<text class="t" x="1143.4" y="821.7" text-anchor="end">−1.4</text>
<text class="t" x="1143.4" y="872.9" text-anchor="end">−1.5</text>
<text class="t" x="1143.4" y="924.4" text-anchor="end">−1.6</text>
<text class="t" x="1143.4" y="975.9" text-anchor="end">−1.7</text>
<text class="t" x="1143.4" y="1027.4" text-anchor="end">−1.8</text>
<clipPath id="c7"><rect x="1157" y="808.5" width="835.3" height="246.7"/></clipPath>
<g clip-path="url(#c7)">
<circle class="mb" cx="1180.1" cy="988.1" r="6.5"/>
<circle class="mb" cx="1194.1" cy="978.6" r="6.5"/>
<circle class="mb" cx="1246.6" cy="971.1" r="6.5"/>
<circle class="mb" cx="1262.6" cy="972.1" r="6.5"/>
<circle class="mb" cx="1263.6" cy="962.1" r="6.5"/>
<circle class="mb" cx="1275.1" cy="970.1" r="6.5"/>
<circle class="mb" cx="1299.1" cy="972.6" r="6.5"/>
<circle class="mb" cx="1282.1" cy="1019.1" r="6.5"/>
<circle class="mb" cx="1301.1" cy="1034.1" r="6.5"/>
<circle class="mb" cx="1334.7" cy="986.6" r="6.5"/>
<circle class="mb" cx="1333.7" cy="955.1" r="6.5"/>
<circle class="mb" cx="1340.2" cy="954.6" r="6.5"/>
<circle class="mb" cx="1346.7" cy="954.1" r="6.5"/>
<circle class="mb" cx="1383.2" cy="944.1" r="6.5"/>
<circle class="mb" cx="1389.2" cy="941.6" r="6.5"/>
<circle class="mb" cx="1390.7" cy="936.6" r="6.5"/>
<circle class="mb" cx="1398.7" cy="1016.1" r="6.5"/>
<circle class="mb" cx="1414.2" cy="943.1" r="6.5"/>
<circle class="mb" cx="1421.7" cy="931.6" r="6.5"/>
<circle class="mb" cx="1418.2" cy="967.6" r="6.5"/>
<circle class="mb" cx="1415.2" cy="994.1" r="6.5"/>
<circle class="mb" cx="1419.2" cy="992.6" r="6.5"/>
<circle class="mb" cx="1439.2" cy="923.1" r="6.5"/>
<circle class="mb" cx="1441.2" cy="946.6" r="6.5"/>
<circle class="mb" cx="1446.2" cy="945.1" r="6.5"/>
<circle class="mb" cx="1452.7" cy="926.6" r="6.5"/>
<circle class="mb" cx="1458.2" cy="929.1" r="6.5"/>
<circle class="mb" cx="1454.7" cy="970.6" r="6.5"/>
<circle class="mb" cx="1480.2" cy="908.6" r="6.5"/>
<circle class="mb" cx="1491.7" cy="913.6" r="6.5"/>
<circle class="mb" cx="1497.7" cy="922.6" r="6.5"/>
<circle class="mb" cx="1504.2" cy="915.1" r="6.5"/>
<circle class="mb" cx="1502.7" cy="929.1" r="6.5"/>
<circle class="mb" cx="1508.2" cy="934.1" r="6.5"/>
<circle class="mb" cx="1510.8" cy="921.6" r="6.5"/>
<circle class="mb" cx="1502.7" cy="954.1" r="6.5"/>
<circle class="mb" cx="1501.2" cy="956.1" r="6.5"/>
<circle class="mb" cx="1494.7" cy="994.1" r="6.5"/>
<circle class="mb" cx="1511.8" cy="972.6" r="6.5"/>
<circle class="mb" cx="1519.3" cy="897.1" r="6.5"/>
<circle class="mb" cx="1518.8" cy="911.6" r="6.5"/>
<circle class="mb" cx="1524.3" cy="915.1" r="6.5"/>
<circle class="mb" cx="1528.8" cy="903.6" r="6.5"/>
<circle class="mb" cx="1554.8" cy="873.6" r="6.5"/>
<circle class="mb" cx="1554.8" cy="910.1" r="6.5"/>
<circle class="mb" cx="1554.8" cy="923.6" r="6.5"/>
<circle class="mb" cx="1566.8" cy="927.1" r="6.5"/>
<circle class="mb" cx="1561.8" cy="944.6" r="6.5"/>
<circle class="mb" cx="1571.8" cy="937.6" r="6.5"/>
<circle class="mb" cx="1570.3" cy="887.1" r="6.5"/>
<circle class="mb" cx="1575.3" cy="896.1" r="6.5"/>
<circle class="mb" cx="1571.3" cy="900.1" r="6.5"/>
<circle class="mb" cx="1571.8" cy="911.1" r="6.5"/>
<circle class="mb" cx="1589.8" cy="891.1" r="6.5"/>
<circle class="mb" cx="1595.8" cy="911.1" r="6.5"/>
<circle class="mb" cx="1600.3" cy="931.6" r="6.5"/>
<circle class="mb" cx="1598.8" cy="954.6" r="6.5"/>
<circle class="mb" cx="1618.3" cy="870.6" r="6.5"/>
<circle class="mb" cx="1616.8" cy="881.1" r="6.5"/>
<circle class="mb" cx="1623.8" cy="931.6" r="6.5"/>
<circle class="mb" cx="1629.3" cy="897.6" r="6.5"/>
<circle class="mb" cx="1633.3" cy="894.1" r="6.5"/>
<circle class="mb" cx="1638.8" cy="890.1" r="6.5"/>
<circle class="mb" cx="1643.3" cy="890.6" r="6.5"/>
<circle class="mb" cx="1639.8" cy="908.6" r="6.5"/>
<circle class="mb" cx="1653.8" cy="900.6" r="6.5"/>
<circle class="mb" cx="1647.3" cy="943.6" r="6.5"/>
<circle class="mb" cx="1647.3" cy="959.1" r="6.5"/>
<circle class="mb" cx="1653.8" cy="863" r="6.5"/>
<circle class="mb" cx="1669.8" cy="867.5" r="6.5"/>
<circle class="mb" cx="1671.3" cy="892.1" r="6.5"/>
<circle class="mb" cx="1674.8" cy="890.1" r="6.5"/>
<circle class="mb" cx="1678.8" cy="909.6" r="6.5"/>
<circle class="mb" cx="1684.8" cy="906.6" r="6.5"/>
<circle class="mb" cx="1689.8" cy="887.6" r="6.5"/>
<circle class="mb" cx="1693.8" cy="901.1" r="6.5"/>
<circle class="mb" cx="1700.8" cy="932.6" r="6.5"/>
<circle class="mb" cx="1708.3" cy="849.5" r="6.5"/>
<circle class="mb" cx="1711.4" cy="839" r="6.5"/>
<circle class="mb" cx="1711.9" cy="868.5" r="6.5"/>
<circle class="mb" cx="1717.4" cy="871.6" r="6.5"/>
<circle class="mb" cx="1709.8" cy="912.1" r="6.5"/>
<circle class="mb" cx="1727.9" cy="898.6" r="6.5"/>
<circle class="mb" cx="1731.9" cy="872.6" r="6.5"/>
<circle class="mb" cx="1736.9" cy="858" r="6.5"/>
<circle class="mb" cx="1742.9" cy="862.5" r="6.5"/>
<circle class="mb" cx="1747.4" cy="871.6" r="6.5"/>
<circle class="mb" cx="1750.4" cy="828.5" r="6.5"/>
<circle class="mb" cx="1760.9" cy="864" r="6.5"/>
<circle class="mb" cx="1761.4" cy="867.5" r="6.5"/>
<circle class="mb" cx="1761.4" cy="882.1" r="6.5"/>
<circle class="mb" cx="1751.4" cy="915.6" r="6.5"/>
<circle class="mb" cx="1757.9" cy="912.6" r="6.5"/>
<circle class="mb" cx="1756.4" cy="933.1" r="6.5"/>
<circle class="mb" cx="1783.9" cy="894.6" r="6.5"/>
<circle class="mb" cx="1789.4" cy="890.1" r="6.5"/>
<circle class="mb" cx="1792.9" cy="879.1" r="6.5"/>
<circle class="mb" cx="1801.9" cy="898.1" r="6.5"/>
<circle class="mb" cx="1800.9" cy="906.6" r="6.5"/>
<circle class="mb" cx="1795.4" cy="923.1" r="6.5"/>
<circle class="mb" cx="1807.4" cy="872.6" r="6.5"/>
<circle class="mb" cx="1807.9" cy="882.6" r="6.5"/>
<circle class="mb" cx="1811.4" cy="849.5" r="6.5"/>
<circle class="mb" cx="1813.9" cy="934.1" r="6.5"/>
<circle class="mb" cx="1830.9" cy="880.6" r="6.5"/>
<circle class="mb" cx="1832.4" cy="909.6" r="6.5"/>
<circle class="mb" cx="1838.4" cy="888.1" r="6.5"/>
<circle class="mb" cx="1842.4" cy="890.6" r="6.5"/>
<circle class="mb" cx="1861.4" cy="865" r="6.5"/>
<circle class="mb" cx="1869.9" cy="834" r="6.5"/>
<circle class="mb" cx="1869.9" cy="892.1" r="6.5"/>
<circle class="mb" cx="1881.9" cy="865" r="6.5"/>
<circle class="mb" cx="1890.4" cy="894.1" r="6.5"/>
<circle class="mb" cx="1906.9" cy="903.6" r="6.5"/>
<circle class="mb" cx="1915.5" cy="898.6" r="6.5"/>
<circle class="mb" cx="1926" cy="852.5" r="6.5"/>
<circle class="mb" cx="1938" cy="876.6" r="6.5"/>
<circle class="mb" cx="1950" cy="864.5" r="6.5"/>
<circle class="mb" cx="1964.5" cy="902.1" r="6.5"/>
<circle class="mb" cx="1977" cy="904.6" r="6.5"/>
<line x1="1156.5" y1="988.5" x2="1992" y2="853" stroke="#0000ff" stroke-width="2.8" stroke-linecap="butt"/>
</g>
<line x1="1150.1" y1="812.8" x2="1155.1" y2="812.8" stroke="#000" stroke-width="1.6"/>
<line x1="1150.1" y1="864" x2="1155.1" y2="864" stroke="#000" stroke-width="1.6"/>
<line x1="1150.1" y1="915.5" x2="1155.1" y2="915.5" stroke="#000" stroke-width="1.6"/>
<line x1="1150.1" y1="967" x2="1155.1" y2="967" stroke="#000" stroke-width="1.6"/>
<line x1="1150.1" y1="1018.5" x2="1155.1" y2="1018.5" stroke="#000" stroke-width="1.6"/>
<line x1="1157" y1="1057.1" x2="1157" y2="1062.1" stroke="#000" stroke-width="1.6"/>
<text class="t" x="1157" y="1085.3" text-anchor="middle">−1.4</text>
<line x1="1365.8" y1="1057.1" x2="1365.8" y2="1062.1" stroke="#000" stroke-width="1.6"/>
<text class="t" x="1365.8" y="1085.3" text-anchor="middle">−1.2</text>
<line x1="1574.7" y1="1057.1" x2="1574.7" y2="1062.1" stroke="#000" stroke-width="1.6"/>
<text class="t" x="1574.7" y="1085.3" text-anchor="middle">−1.0</text>
<line x1="1783.5" y1="1057.1" x2="1783.5" y2="1062.1" stroke="#000" stroke-width="1.6"/>
<text class="t" x="1783.5" y="1085.3" text-anchor="middle">−0.8</text>
<line x1="1992.3" y1="1057.1" x2="1992.3" y2="1062.1" stroke="#000" stroke-width="1.6"/>
<text class="t" x="1992.3" y="1085.3" text-anchor="middle">−0.6</text>
<rect x="1157" y="808.5" width="835.3" height="246.7" fill="none" stroke="#000" stroke-width="3.8"/>
<circle class="mb" cx="1210.3" cy="847" r="6.5"/>
<text class="lg" x="1260.7" y="855.2">OH</text>
<text class="xl" x="1573.7" y="1121" text-anchor="middle">Δ<tspan class="i">E</tspan><tspan dy="-9.7" dx="1.2" font-size="20.5px">0</tspan><tspan dy="9.7" dx="0.6">(</tspan><tspan class="i">O</tspan>)</text>
<g transform="translate(1058.4 997) rotate(-90)">
<text class="yl" transform="scale(0.89 1)" x="0" y="0" font-size="53px" style="font-weight:normal" stroke="#000" stroke-width="1">Δ</text>
<text class="yl i" x="31.3" y="0" font-size="53px" stroke="#000" stroke-width="0.6">E</text>
<text class="yl i" x="64.2" y="-15.8" font-size="43px" stroke="#000" stroke-width="0.4">x</text>
<polygon points="19.3,-39.3 44.1,-46.9 68.9,-39.3 68.2,-37.6 44.1,-43 20,-37.6" fill="#000"/>
</g>
</g>
<g id="b4">
<text class="t" x="1143.4" y="1187.3" text-anchor="end">0</text>
<text class="t" x="1143.4" y="1269.9" text-anchor="end">−2</text>
<text class="t" x="1143.4" y="1351.8" text-anchor="end">−4</text>
<text class="t" x="1143.4" y="1434.3" text-anchor="end">−6</text>
<clipPath id="c8"><rect x="1157" y="1178.4" width="835.3" height="247"/></clipPath>
<g clip-path="url(#c8)">
<circle class="mb" cx="1224.2" cy="1378" r="6.5"/>
<circle class="mb" cx="1227.2" cy="1377" r="6.5"/>
<circle class="mb" cx="1256.9" cy="1377.3" r="6.5"/>
<circle class="mb" cx="1260.6" cy="1366.6" r="6.5"/>
<circle class="mb" cx="1357.5" cy="1364.8" r="6.5"/>
<circle class="mb" cx="1357.1" cy="1375.2" r="6.5"/>
<circle class="mb" cx="1374.9" cy="1363.6" r="6.5"/>
<circle class="mb" cx="1377.9" cy="1373.2" r="6.5"/>
<circle class="mb" cx="1385.7" cy="1372.5" r="6.5"/>
<circle class="mb" cx="1404.6" cy="1363.9" r="6.5"/>
<circle class="mb" cx="1407.5" cy="1353.5" r="6.5"/>
<circle class="mb" cx="1412" cy="1371" r="6.5"/>
<circle class="mb" cx="1415" cy="1373.2" r="6.5"/>
<circle class="mb" cx="1546.5" cy="1350.2" r="6.5"/>
<circle class="mb" cx="1551.4" cy="1360.3" r="6.5"/>
<circle class="mb" cx="1562.9" cy="1340.1" r="6.5"/>
<circle class="mb" cx="1575.2" cy="1348.8" r="6.5"/>
<circle class="mb" cx="1584.1" cy="1367.3" r="6.5"/>
<circle class="mb" cx="1588.1" cy="1357.7" r="6.5"/>
<circle class="mb" cx="1597" cy="1356.9" r="6.5"/>
<circle class="mb" cx="1605.9" cy="1365.4" r="6.5"/>
<circle class="mb" cx="1618.5" cy="1356.2" r="6.5"/>
<circle class="mb" cx="1620" cy="1365.1" r="6.5"/>
<circle class="mb" cx="1631.9" cy="1354.4" r="6.5"/>
<circle class="mb" cx="1633.4" cy="1364.3" r="6.5"/>
<circle class="mb" cx="1637.8" cy="1356.2" r="6.5"/>
<circle class="mb" cx="1643.8" cy="1362.1" r="6.5"/>
<circle class="mb" cx="1650.4" cy="1362.1" r="6.5"/>
<circle class="mb" cx="1656.4" cy="1359.9" r="6.5"/>
<circle class="mb" cx="1663.1" cy="1362.1" r="6.5"/>
<circle class="mb" cx="1670.5" cy="1362.9" r="6.5"/>
<circle class="mb" cx="1674.9" cy="1354.7" r="6.5"/>
<circle class="mb" cx="1683.8" cy="1358.4" r="6.5"/>
<circle class="mb" cx="1691.3" cy="1359.1" r="6.5"/>
<circle class="mb" cx="1697.2" cy="1359.1" r="6.5"/>
<circle class="mb" cx="1706.1" cy="1356.2" r="6.5"/>
<circle class="mb" cx="1709.8" cy="1362.1" r="6.5"/>
<circle class="mb" cx="1710" cy="1362.1" r="6.5"/>
<circle class="mb" cx="1724.7" cy="1358.2" r="6.5"/>
<circle class="mb" cx="1730.4" cy="1361" r="6.5"/>
<circle class="mb" cx="1736.7" cy="1359.3" r="6.5"/>
<circle class="mb" cx="1751.4" cy="1358.7" r="6.5"/>
<circle class="mb" cx="1765.6" cy="1363.8" r="6.5"/>
<circle class="mb" cx="1755.9" cy="1323.6" r="6.5"/>
<circle class="mb" cx="1761" cy="1350.2" r="6.5"/>
<circle class="mb" cx="1773.5" cy="1352.5" r="6.5"/>
<circle class="mb" cx="1778" cy="1360.4" r="6.5"/>
<circle class="mb" cx="1782.6" cy="1361" r="6.5"/>
<circle class="mb" cx="1789.4" cy="1358.2" r="6.5"/>
<circle class="mb" cx="1796.2" cy="1353.6" r="6.5"/>
<circle class="mb" cx="1805.3" cy="1354.7" r="6.5"/>
<circle class="mb" cx="1809.8" cy="1350.2" r="6.5"/>
<circle class="mb" cx="1817.2" cy="1365" r="6.5"/>
<circle class="mb" cx="1825.7" cy="1362.7" r="6.5"/>
<circle class="mb" cx="1830.2" cy="1354.7" r="6.5"/>
<circle class="mb" cx="1837.6" cy="1358.2" r="6.5"/>
<circle class="mb" cx="1845" cy="1352.5" r="6.5"/>
<circle class="mb" cx="1854.5" cy="1341.1" r="6.5"/>
<circle class="mb" cx="1864.7" cy="1354.7" r="6.5"/>
<circle class="mb" cx="1872.1" cy="1365.5" r="6.5"/>
<circle class="mb" cx="1878.4" cy="1350.2" r="6.5"/>
<circle class="mb" cx="1883.5" cy="1359.3" r="6.5"/>
<circle class="mb" cx="1889.1" cy="1351.9" r="6.5"/>
<circle class="mb" cx="1897.1" cy="1327.5" r="6.5"/>
<circle class="mb" cx="1903.3" cy="1344.5" r="6.5"/>
<circle class="mb" cx="1909" cy="1354.7" r="6.5"/>
<circle class="mb" cx="1912.4" cy="1338.3" r="6.5"/>
<circle class="mb" cx="1922.6" cy="1336.6" r="6.5"/>
<circle class="mb" cx="1926.6" cy="1341.7" r="6.5"/>
<circle class="mb" cx="1929.4" cy="1339.4" r="6.5"/>
<circle class="mb" cx="1944.1" cy="1328.1" r="6.5"/>
<circle class="mb" cx="1947.5" cy="1317.3" r="6.5"/>
<circle class="mb" cx="1952.6" cy="1343.4" r="6.5"/>
<circle class="mb" cx="1954.3" cy="1308.3" r="6.5"/>
<circle class="mb" cx="1964" cy="1331.5" r="6.5"/>
<circle class="mb" cx="1964.5" cy="1336" r="6.5"/>
<circle class="mb" cx="1979.9" cy="1327" r="6.5"/>
<circle class="mb" cx="1982.7" cy="1318.5" r="6.5"/>
<circle class="mb" cx="1989.5" cy="1316.2" r="6.5"/>
<circle class="mb" cx="1727.4" cy="1359.2" r="6.5"/>
<circle class="mb" cx="1724.7" cy="1358.6" r="6.5"/>
<circle class="mb" cx="1729.8" cy="1362.7" r="6.5"/>
<circle class="mb" cx="1728.2" cy="1361.4" r="6.5"/>
<circle class="mb" cx="1734.5" cy="1361.7" r="6.5"/>
<circle class="mb" cx="1734.3" cy="1360" r="6.5"/>
<circle class="mb" cx="1752.9" cy="1357.4" r="6.5"/>
<circle class="mb" cx="1753.1" cy="1356.6" r="6.5"/>
<circle class="mb" cx="1763.4" cy="1365.5" r="6.5"/>
<circle class="mb" cx="1767.2" cy="1365.7" r="6.5"/>
<circle class="mb" cx="1758.7" cy="1324.9" r="6.5"/>
<circle class="mb" cx="1751.8" cy="1323.6" r="6.5"/>
<circle class="mb" cx="1762.8" cy="1349.5" r="6.5"/>
<circle class="mb" cx="1764.4" cy="1348.1" r="6.5"/>
<circle class="mb" cx="1773.3" cy="1354.1" r="6.5"/>
<circle class="mb" cx="1774.4" cy="1353.9" r="6.5"/>
<circle class="mb" cx="1776.4" cy="1360.2" r="6.5"/>
<circle class="mb" cx="1773.5" cy="1360.2" r="6.5"/>
<circle class="mb" cx="1786.5" cy="1360.1" r="6.5"/>
<circle class="mb" cx="1785.9" cy="1360.6" r="6.5"/>
<circle class="mb" cx="1787.2" cy="1360.4" r="6.5"/>
<circle class="mb" cx="1794.3" cy="1355.8" r="6.5"/>
<circle class="mb" cx="1800.4" cy="1352" r="6.5"/>
<circle class="mb" cx="1794.4" cy="1354.3" r="6.5"/>
<circle class="mb" cx="1810.3" cy="1354.2" r="6.5"/>
<circle class="mb" cx="1809.9" cy="1356.1" r="6.5"/>
<circle class="mb" cx="1811.7" cy="1351.5" r="6.5"/>
<circle class="mb" cx="1805.9" cy="1350.3" r="6.5"/>
<circle class="mb" cx="1816.8" cy="1366" r="6.5"/>
<circle class="mb" cx="1821.5" cy="1363.5" r="6.5"/>
<circle class="mb" cx="1829.7" cy="1364" r="6.5"/>
<circle class="mb" cx="1829.6" cy="1363.3" r="6.5"/>
<circle class="mb" cx="1830.4" cy="1353.2" r="6.5"/>
<circle class="mb" cx="1826.1" cy="1353.8" r="6.5"/>
<circle class="mb" cx="1839" cy="1358.5" r="6.5"/>
<circle class="mb" cx="1833.2" cy="1357.8" r="6.5"/>
<circle class="mb" cx="1842" cy="1352.3" r="6.5"/>
<circle class="mb" cx="1845" cy="1350.6" r="6.5"/>
<circle class="mb" cx="1850.4" cy="1341.1" r="6.5"/>
<circle class="mb" cx="1849.6" cy="1341.5" r="6.5"/>
<rect class="mg" x="1217.8" y="1342.1" width="12.8" height="12.8"/>
<rect class="mg" x="1220.8" y="1340.6" width="12.8" height="12.8"/>
<rect class="mg" x="1250.5" y="1340.6" width="12.8" height="12.8"/>
<rect class="mg" x="1254.2" y="1328.3" width="12.8" height="12.8"/>
<rect class="mg" x="1351.1" y="1326" width="12.8" height="12.8"/>
<rect class="mg" x="1350.7" y="1339.1" width="12.8" height="12.8"/>
<rect class="mg" x="1368.5" y="1324.8" width="12.8" height="12.8"/>
<rect class="mg" x="1371.5" y="1337.6" width="12.8" height="12.8"/>
<rect class="mg" x="1379.3" y="1337.9" width="12.8" height="12.8"/>
<rect class="mg" x="1398.2" y="1324.5" width="12.8" height="12.8"/>
<rect class="mg" x="1401.1" y="1312.4" width="12.8" height="12.8"/>
<rect class="mg" x="1405.6" y="1337.2" width="12.8" height="12.8"/>
<rect class="mg" x="1408.6" y="1337.6" width="12.8" height="12.8"/>
<rect class="mg" x="1540.1" y="1309.4" width="12.8" height="12.8"/>
<rect class="mg" x="1545" y="1322.3" width="12.8" height="12.8"/>
<rect class="mg" x="1556.5" y="1296" width="12.8" height="12.8"/>
<rect class="mg" x="1568.8" y="1308.7" width="12.8" height="12.8"/>
<rect class="mg" x="1577.7" y="1335.7" width="12.8" height="12.8"/>
<rect class="mg" x="1581.7" y="1321.6" width="12.8" height="12.8"/>
<rect class="mg" x="1590.6" y="1321.6" width="12.8" height="12.8"/>
<rect class="mg" x="1599.5" y="1333.7" width="12.8" height="12.8"/>
<rect class="mg" x="1612.1" y="1320.8" width="12.8" height="12.8"/>
<rect class="mg" x="1613.6" y="1334.2" width="12.8" height="12.8"/>
<rect class="mg" x="1625.5" y="1320.8" width="12.8" height="12.8"/>
<rect class="mg" x="1627" y="1333.4" width="12.8" height="12.8"/>
<rect class="mg" x="1631.4" y="1322.3" width="12.8" height="12.8"/>
<rect class="mg" x="1637.4" y="1332.7" width="12.8" height="12.8"/>
<rect class="mg" x="1644" y="1332.7" width="12.8" height="12.8"/>
<rect class="mg" x="1650" y="1330.5" width="12.8" height="12.8"/>
<rect class="mg" x="1656.7" y="1332" width="12.8" height="12.8"/>
<rect class="mg" x="1664.1" y="1334.9" width="12.8" height="12.8"/>
<rect class="mg" x="1668.5" y="1332.7" width="12.8" height="12.8"/>
<rect class="mg" x="1677.4" y="1332" width="12.8" height="12.8"/>
<rect class="mg" x="1684.9" y="1330.5" width="12.8" height="12.8"/>
<rect class="mg" x="1690.8" y="1332.7" width="12.8" height="12.8"/>
<rect class="mg" x="1699.7" y="1334.2" width="12.8" height="12.8"/>
<rect class="mg" x="1750.1" y="1279.7" width="12.8" height="12.8"/>
<rect class="mg" x="1750.1" y="1292.2" width="12.8" height="12.8"/>
<rect class="mg" x="1783" y="1292.2" width="12.8" height="12.8"/>
<rect class="mg" x="1787.5" y="1292.2" width="12.8" height="12.8"/>
<rect class="mg" x="1771.1" y="1306.4" width="12.8" height="12.8"/>
<rect class="mg" x="1803.4" y="1305.3" width="12.8" height="12.8"/>
<rect class="mg" x="1815.3" y="1305.8" width="12.8" height="12.8"/>
<rect class="mg" x="1832.9" y="1305.3" width="12.8" height="12.8"/>
<rect class="mg" x="1847.6" y="1305.3" width="12.8" height="12.8"/>
<rect class="mg" x="1703.6" y="1334.2" width="12.8" height="12.8"/>
<rect class="mg" x="1718.3" y="1330.2" width="12.8" height="12.8"/>
<rect class="mg" x="1724" y="1334.2" width="12.8" height="12.8"/>
<rect class="mg" x="1730.3" y="1329.1" width="12.8" height="12.8"/>
<rect class="mg" x="1745" y="1329.6" width="12.8" height="12.8"/>
<rect class="mg" x="1754.6" y="1320" width="12.8" height="12.8"/>
<rect class="mg" x="1754.6" y="1330.2" width="12.8" height="12.8"/>
<rect class="mg" x="1762.6" y="1320" width="12.8" height="12.8"/>
<rect class="mg" x="1771.6" y="1318.9" width="12.8" height="12.8"/>
<rect class="mg" x="1771.6" y="1330.2" width="12.8" height="12.8"/>
<rect class="mg" x="1780.7" y="1320" width="12.8" height="12.8"/>
<rect class="mg" x="1783" y="1330.2" width="12.8" height="12.8"/>
<rect class="mg" x="1790.9" y="1322.3" width="12.8" height="12.8"/>
<rect class="mg" x="1794.3" y="1330.2" width="12.8" height="12.8"/>
<rect class="mg" x="1803.4" y="1317.7" width="12.8" height="12.8"/>
<rect class="mg" x="1805.7" y="1331.3" width="12.8" height="12.8"/>
<rect class="mg" x="1815.3" y="1318.9" width="12.8" height="12.8"/>
<rect class="mg" x="1817" y="1331.3" width="12.8" height="12.8"/>
<rect class="mg" x="1823.8" y="1318.9" width="12.8" height="12.8"/>
<rect class="mg" x="1828.3" y="1331.3" width="12.8" height="12.8"/>
<rect class="mg" x="1834" y="1320" width="12.8" height="12.8"/>
<rect class="mg" x="1837.4" y="1330.2" width="12.8" height="12.8"/>
<rect class="mg" x="1845.4" y="1318.9" width="12.8" height="12.8"/>
<rect class="mg" x="1848.1" y="1305.3" width="12.8" height="12.8"/>
<rect class="mg" x="1854.9" y="1317.7" width="12.8" height="12.8"/>
<rect class="mg" x="1860.6" y="1305.3" width="12.8" height="12.8"/>
<rect class="mg" x="1860.6" y="1317.7" width="12.8" height="12.8"/>
<rect class="mg" x="1868.5" y="1317.7" width="12.8" height="12.8"/>
<rect class="mg" x="1860.6" y="1331.3" width="12.8" height="12.8"/>
<rect class="mg" x="1876.5" y="1332.5" width="12.8" height="12.8"/>
<rect class="mg" x="1882.2" y="1317.7" width="12.8" height="12.8"/>
<rect class="mg" x="1890.7" y="1292.8" width="12.8" height="12.8"/>
<rect class="mg" x="1896.9" y="1315.5" width="12.8" height="12.8"/>
<rect class="mg" x="1902.6" y="1319.4" width="12.8" height="12.8"/>
<rect class="mg" x="1906" y="1304.1" width="12.8" height="12.8"/>
<rect class="mg" x="1921.9" y="1304.1" width="12.8" height="12.8"/>
<rect class="mg" x="1937.7" y="1291.1" width="12.8" height="12.8"/>
<rect class="mg" x="1938.3" y="1276.9" width="12.8" height="12.8"/>
<rect class="mg" x="1945.7" y="1305.3" width="12.8" height="12.8"/>
<rect class="mg" x="1949.1" y="1265" width="12.8" height="12.8"/>
<rect class="mg" x="1958.1" y="1292.2" width="12.8" height="12.8"/>
<rect class="mg" x="1958.1" y="1303" width="12.8" height="12.8"/>
<rect class="mg" x="1973.5" y="1290.5" width="12.8" height="12.8"/>
<rect class="mg" x="1976.3" y="1278" width="12.8" height="12.8"/>
<rect class="mg" x="1984.2" y="1313.2" width="12.8" height="12.8"/>
<rect class="mg" x="1718" y="1331.6" width="12.8" height="12.8"/>
<rect class="mg" x="1721.6" y="1335" width="12.8" height="12.8"/>
<rect class="mg" x="1727" y="1329.2" width="12.8" height="12.8"/>
<rect class="mg" x="1746.9" y="1330.3" width="12.8" height="12.8"/>
<rect class="mg" x="1755.9" y="1319.4" width="12.8" height="12.8"/>
<rect class="mg" x="1755.8" y="1329.3" width="12.8" height="12.8"/>
<rect class="mg" x="1757.9" y="1320.3" width="12.8" height="12.8"/>
<rect class="mg" x="1771.1" y="1317.7" width="12.8" height="12.8"/>
<rect class="mg" x="1772.8" y="1330.4" width="12.8" height="12.8"/>
<rect class="mg" x="1784.9" y="1321.4" width="12.8" height="12.8"/>
<rect class="mg" x="1783.4" y="1330.4" width="12.8" height="12.8"/>
<rect class="mg" x="1792.5" y="1322.3" width="12.8" height="12.8"/>
<rect class="mg" x="1798.6" y="1329.8" width="12.8" height="12.8"/>
<rect class="mg" x="1803.3" y="1318.4" width="12.8" height="12.8"/>
<rect class="mg" x="1801.2" y="1332.6" width="12.8" height="12.8"/>
<rect class="mg" x="1815.9" y="1319.4" width="12.8" height="12.8"/>
<rect class="mg" x="1819.8" y="1331" width="12.8" height="12.8"/>
<rect class="mg" x="1823.8" y="1320" width="12.8" height="12.8"/>
<rect class="mg" x="1826.2" y="1330.1" width="12.8" height="12.8"/>
<rect class="mg" x="1834.8" y="1320.8" width="12.8" height="12.8"/>
<rect class="mg" x="1836.3" y="1330" width="12.8" height="12.8"/>
<rect class="mg" x="1844.4" y="1318" width="12.8" height="12.8"/>
<polygon class="mr" points="1218.3,1290.7 1230.1,1290.7 1224.2,1302.9"/>
<polygon class="mr" points="1221.3,1290 1233.1,1290 1227.2,1302.2"/>
<polygon class="mr" points="1251,1288 1262.8,1288 1256.9,1300.2"/>
<polygon class="mr" points="1254.7,1291.4 1266.5,1291.4 1260.6,1303.6"/>
<polygon class="mr" points="1351.6,1288.5 1363.4,1288.5 1357.5,1300.7"/>
<polygon class="mr" points="1369,1290 1380.8,1290 1374.9,1302.2"/>
<polygon class="mr" points="1372,1287 1383.8,1287 1377.9,1299.2"/>
<polygon class="mr" points="1379.8,1288.5 1391.6,1288.5 1385.7,1300.7"/>
<polygon class="mr" points="1398.7,1288 1410.5,1288 1404.6,1300.2"/>
<polygon class="mr" points="1401.6,1290.7 1413.4,1290.7 1407.5,1302.9"/>
<polygon class="mr" points="1406.1,1289.2 1417.9,1289.2 1412,1301.4"/>
<polygon class="mr" points="1409.1,1283.3 1420.9,1283.3 1415,1295.5"/>
<polygon class="mr" points="1540.6,1285.5 1552.4,1285.5 1546.5,1297.7"/>
<polygon class="mr" points="1545.5,1282.5 1557.3,1282.5 1551.4,1294.7"/>
<polygon class="mr" points="1557,1287.7 1568.8,1287.7 1562.9,1299.9"/>
<polygon class="mr" points="1569.3,1287 1581.1,1287 1575.2,1299.2"/>
<polygon class="mr" points="1578.2,1277.3 1590,1277.3 1584.1,1289.5"/>
<polygon class="mr" points="1582.2,1281 1594,1281 1588.1,1293.2"/>
<polygon class="mr" points="1591.1,1283.3 1602.9,1283.3 1597,1295.5"/>
<polygon class="mr" points="1600,1277.3 1611.8,1277.3 1605.9,1289.5"/>
<polygon class="mr" points="1612.6,1279.6 1624.4,1279.6 1618.5,1291.8"/>
<polygon class="mr" points="1626,1281.8 1637.8,1281.8 1631.9,1294"/>
<polygon class="mr" points="1627.5,1276.6 1639.3,1276.6 1633.4,1288.8"/>
<polygon class="mr" points="1631.2,1285.5 1643,1285.5 1637.1,1297.7"/>
<polygon class="mr" points="1639.3,1278.8 1651.1,1278.8 1645.2,1291"/>
<polygon class="mr" points="1645,1273.6 1656.8,1273.6 1650.9,1285.8"/>
<polygon class="mr" points="1649.7,1258.8 1661.5,1258.8 1655.6,1271"/>
<polygon class="mr" points="1657.2,1255.8 1669,1255.8 1663.1,1268"/>
<polygon class="mr" points="1663.1,1261 1674.9,1261 1669,1273.2"/>
<polygon class="mr" points="1664.3,1281 1676.1,1281 1670.2,1293.2"/>
<polygon class="mr" points="1669,1262.5 1680.8,1262.5 1674.9,1274.7"/>
<polygon class="mr" points="1677.9,1259.5 1689.7,1259.5 1683.8,1271.7"/>
<polygon class="mr" points="1689.8,1256.6 1701.6,1256.6 1695.7,1268.8"/>
<polygon class="mr" points="1695.7,1279.6 1707.5,1279.6 1701.6,1291.8"/>
<polygon class="mr" points="1701.4,1261 1713.2,1261 1707.3,1273.2"/>
<polygon class="mr" points="1703.9,1269.9 1715.7,1269.9 1709.8,1282.1"/>
<polygon class="mr" points="1718.8,1254.5 1730.6,1254.5 1724.7,1266.7"/>
<polygon class="mr" points="1730.2,1252.3 1742,1252.3 1736.1,1264.5"/>
<polygon class="mr" points="1727.9,1262.5 1739.7,1262.5 1733.8,1274.7"/>
<polygon class="mr" points="1744.9,1256.2 1756.7,1256.2 1750.8,1268.4"/>
<polygon class="mr" points="1750,1267 1761.8,1267 1755.9,1279.2"/>
<polygon class="mr" points="1750,1285.7 1761.8,1285.7 1755.9,1297.9"/>
<polygon class="mr" points="1759.7,1261.9 1771.5,1261.9 1765.6,1274.1"/>
<polygon class="mr" points="1763.1,1273.8 1774.9,1273.8 1769,1286"/>
<polygon class="mr" points="1769.9,1255.7 1781.7,1255.7 1775.8,1267.9"/>
<polygon class="mr" points="1772.1,1277.2 1783.9,1277.2 1778,1289.4"/>
<polygon class="mr" points="1777.8,1265.9 1789.6,1265.9 1783.7,1278.1"/>
<polygon class="mr" points="1783.5,1253.4 1795.3,1253.4 1789.4,1265.6"/>
<polygon class="mr" points="1783.5,1278.3 1795.3,1278.3 1789.4,1290.5"/>
<polygon class="mr" points="1788,1284 1799.8,1284 1793.9,1296.2"/>
<polygon class="mr" points="1792.6,1265.9 1804.4,1265.9 1798.5,1278.1"/>
<polygon class="mr" points="1799.4,1263.6 1811.2,1263.6 1805.3,1275.8"/>
<polygon class="mr" points="1803.9,1250.6 1815.7,1250.6 1809.8,1262.8"/>
<polygon class="mr" points="1803.9,1277.2 1815.7,1277.2 1809.8,1289.4"/>
<polygon class="mr" points="1809.6,1269.3 1821.4,1269.3 1815.5,1281.5"/>
<polygon class="mr" points="1815.8,1260.2 1827.6,1260.2 1821.7,1272.4"/>
<polygon class="mr" points="1816.4,1279.5 1828.2,1279.5 1822.3,1291.7"/>
<polygon class="mr" points="1823.2,1260.2 1835,1260.2 1829.1,1272.4"/>
<polygon class="mr" points="1828.8,1267 1840.6,1267 1834.7,1279.2"/>
<polygon class="mr" points="1833.4,1276.1 1845.2,1276.1 1839.3,1288.3"/>
<polygon class="mr" points="1839.1,1267 1850.9,1267 1845,1279.2"/>
<polygon class="mr" points="1841.3,1274.9 1853.1,1274.9 1847.2,1287.1"/>
<polygon class="mr" points="1704.1,1262.5 1715.9,1262.5 1710,1274.7"/>
<polygon class="mr" points="1704.1,1271 1715.9,1271 1710,1283.2"/>
<polygon class="mr" points="1704.1,1282.9 1715.9,1282.9 1710,1295.1"/>
<polygon class="mr" points="1848.6,1281.2 1860.4,1281.2 1854.5,1293.4"/>
<polygon class="mr" points="1856.6,1263.6 1868.4,1263.6 1862.5,1275.8"/>
<polygon class="mr" points="1861.1,1278.3 1872.9,1278.3 1867,1290.5"/>
<polygon class="mr" points="1866.8,1263 1878.6,1263 1872.7,1275.2"/>
<polygon class="mr" points="1874.2,1277.2 1886,1277.2 1880.1,1289.4"/>
<polygon class="mr" points="1879.3,1260.2 1891.1,1260.2 1885.2,1272.4"/>
<polygon class="mr" points="1883.2,1264.2 1895,1264.2 1889.1,1276.4"/>
<polygon class="mr" points="1891.2,1274.4 1903,1274.4 1897.1,1286.6"/>
<polygon class="mr" points="1897.2,1257.9 1909,1257.9 1903.1,1270.1"/>
<polygon class="mr" points="1905.3,1266.4 1917.1,1266.4 1911.2,1278.6"/>
<polygon class="mr" points="1912.1,1267 1923.9,1267 1918,1279.2"/>
<polygon class="mr" points="1920.1,1269.8 1931.9,1269.8 1926,1282"/>
<polygon class="mr" points="1923.5,1269.3 1935.3,1269.3 1929.4,1281.5"/>
<polygon class="mr" points="1938.2,1273.8 1950,1273.8 1944.1,1286"/>
<polygon class="mr" points="1941.6,1278.3 1953.4,1278.3 1947.5,1290.5"/>
<polygon class="mr" points="1949.6,1281.7 1961.4,1281.7 1955.5,1293.9"/>
<polygon class="mr" points="1958.1,1265.3 1969.9,1265.3 1964,1277.5"/>
<polygon class="mr" points="1958.6,1274.9 1970.4,1274.9 1964.5,1287.1"/>
<polygon class="mr" points="1974.5,1274.4 1986.3,1274.4 1980.4,1286.6"/>
<polygon class="mr" points="1976.8,1279.5 1988.6,1279.5 1982.7,1291.7"/>
<polygon class="mr" points="1984.7,1277.2 1996.5,1277.2 1990.6,1289.4"/>
<polygon class="mr" points="1716.4,1252.4 1728.2,1252.4 1722.3,1264.6"/>
<polygon class="mr" points="1721.8,1252.9 1733.6,1252.9 1727.7,1265.1"/>
<polygon class="mr" points="1727.7,1254.6 1739.5,1254.6 1733.6,1266.8"/>
<polygon class="mr" points="1734.6,1249.9 1746.4,1249.9 1740.5,1262.1"/>
<polygon class="mr" points="1724.1,1261.4 1735.9,1261.4 1730,1273.6"/>
<polygon class="mr" points="1728,1262.7 1739.8,1262.7 1733.9,1274.9"/>
<polygon class="mr" points="1741.7,1255.6 1753.5,1255.6 1747.6,1267.8"/>
<polygon class="mr" points="1742.7,1254 1754.5,1254 1748.6,1266.2"/>
<polygon class="mr" points="1754.7,1265.9 1766.5,1265.9 1760.6,1278.1"/>
<polygon class="mr" points="1752.4,1268 1764.2,1268 1758.3,1280.2"/>
<polygon class="mr" points="1748,1287.6 1759.8,1287.6 1753.9,1299.8"/>
<polygon class="mr" points="1747.9,1284.9 1759.7,1284.9 1753.8,1297.1"/>
<polygon class="mr" points="1755.2,1261.4 1767,1261.4 1761.1,1273.6"/>
<polygon class="mr" points="1759.8,1261.6 1771.6,1261.6 1765.7,1273.8"/>
<polygon class="mr" points="1767.7,1271.4 1779.5,1271.4 1773.6,1283.6"/>
<polygon class="mr" points="1765.2,1273.5 1777,1273.5 1771.1,1285.7"/>
<polygon class="mr" points="1774.4,1257.1 1786.2,1257.1 1780.3,1269.3"/>
<polygon class="mr" points="1769.9,1256.5 1781.7,1256.5 1775.8,1268.7"/>
<polygon class="mr" points="1772.8,1275.9 1784.6,1275.9 1778.7,1288.1"/>
<polygon class="mr" points="1773.5,1277.9 1785.3,1277.9 1779.4,1290.1"/>
<polygon class="mr" points="1777,1268.1 1788.8,1268.1 1782.9,1280.3"/>
<polygon class="mr" points="1777,1266.2 1788.8,1266.2 1782.9,1278.4"/>
<polygon class="mr" points="1780,1253.7 1791.8,1253.7 1785.9,1265.9"/>
<polygon class="mr" points="1786.7,1252.5 1798.5,1252.5 1792.6,1264.7"/>
<polygon class="mr" points="1787.1,1279.7 1798.9,1279.7 1793,1291.9"/>
<polygon class="mr" points="1782.9,1280.3 1794.7,1280.3 1788.8,1292.5"/>
<polygon class="mr" points="1785.5,1286 1797.3,1286 1791.4,1298.2"/>
<polygon class="mr" points="1788.1,1282.4 1799.9,1282.4 1794,1294.6"/>
<polygon class="mr" points="1793.6,1268.1 1805.4,1268.1 1799.5,1280.3"/>
<polygon class="mr" points="1796.8,1265.8 1808.6,1265.8 1802.7,1278"/>
<polygon class="mr" points="1798.5,1264.5 1810.3,1264.5 1804.4,1276.7"/>
<polygon class="mr" points="1803.9,1262.9 1815.7,1262.9 1809.8,1275.1"/>
<polygon class="mr" points="1801,1252.2 1812.8,1252.2 1806.9,1264.4"/>
<polygon class="mr" points="1799.1,1248.1 1810.9,1248.1 1805,1260.3"/>
<polygon class="mr" points="1803.5,1278.8 1815.3,1278.8 1809.4,1291"/>
<polygon class="mr" points="1802.4,1278.5 1814.2,1278.5 1808.3,1290.7"/>
<polygon class="mr" points="1810.6,1268.9 1822.4,1268.9 1816.5,1281.1"/>
<polygon class="mr" points="1804.9,1267.5 1816.7,1267.5 1810.8,1279.7"/>
<polygon class="mr" points="1818.5,1260.5 1830.3,1260.5 1824.4,1272.7"/>
<polygon class="mr" points="1819.4,1259.6 1831.2,1259.6 1825.3,1271.8"/>
<polygon class="mr" points="1816.7,1278.4 1828.5,1278.4 1822.6,1290.6"/>
<polygon class="mr" points="1816.8,1278.3 1828.6,1278.3 1822.7,1290.5"/>
<polygon class="mr" points="1826.5,1259.5 1838.3,1259.5 1832.4,1271.7"/>
<polygon class="mr" points="1824.2,1259.1 1836,1259.1 1830.1,1271.3"/>
<polygon class="mr" points="1832.4,1269.2 1844.2,1269.2 1838.3,1281.4"/>
<polygon class="mr" points="1824.8,1265.3 1836.6,1265.3 1830.7,1277.5"/>
<polygon class="mr" points="1837.9,1276.9 1849.7,1276.9 1843.8,1289.1"/>
<polygon class="mr" points="1833,1276.6 1844.8,1276.6 1838.9,1288.8"/>
<polygon class="mr" points="1837.9,1267.8 1849.7,1267.8 1843.8,1280"/>
<polygon class="mr" points="1839.1,1268.4 1850.9,1268.4 1845,1280.6"/>
<polygon class="mr" points="1839.3,1275.3 1851.1,1275.3 1845.2,1287.5"/>
<polygon class="mr" points="1843.5,1275.8 1855.3,1275.8 1849.4,1288"/>
<polygon class="mr" points="1847.4,1283.4 1859.2,1283.4 1853.3,1295.6"/>
<polygon class="mr" points="1848.9,1280.3 1860.7,1280.3 1854.8,1292.5"/>
<line x1="1156.5" y1="1383" x2="1992" y2="1337.7" stroke="#0000ff" stroke-width="2.8" stroke-linecap="butt"/>
<line x1="1156.5" y1="1353.6" x2="1992" y2="1314.5" stroke="#008000" stroke-width="2.8" stroke-linecap="butt"/>
<line x1="1156.5" y1="1298" x2="1992" y2="1270.5" stroke="#ff0000" stroke-width="2.8" stroke-linecap="butt"/>
</g>
<line x1="1150.1" y1="1178.4" x2="1155.1" y2="1178.4" stroke="#000" stroke-width="1.6"/>
<line x1="1150.1" y1="1261" x2="1155.1" y2="1261" stroke="#000" stroke-width="1.6"/>
<line x1="1150.1" y1="1342.9" x2="1155.1" y2="1342.9" stroke="#000" stroke-width="1.6"/>
<line x1="1150.1" y1="1425.4" x2="1155.1" y2="1425.4" stroke="#000" stroke-width="1.6"/>
<line x1="1157" y1="1427.3" x2="1157" y2="1432.3" stroke="#000" stroke-width="1.6"/>
<text class="t" x="1157" y="1456" text-anchor="middle">−5.3</text>
<line x1="1324.1" y1="1427.3" x2="1324.1" y2="1432.3" stroke="#000" stroke-width="1.6"/>
<text class="t" x="1324.1" y="1456" text-anchor="middle">−5.1</text>
<line x1="1491.1" y1="1427.3" x2="1491.1" y2="1432.3" stroke="#000" stroke-width="1.6"/>
<text class="t" x="1491.1" y="1456" text-anchor="middle">−4.9</text>
<line x1="1658.2" y1="1427.3" x2="1658.2" y2="1432.3" stroke="#000" stroke-width="1.6"/>
<text class="t" x="1658.2" y="1456" text-anchor="middle">−4.7</text>
<line x1="1825.2" y1="1427.3" x2="1825.2" y2="1432.3" stroke="#000" stroke-width="1.6"/>
<text class="t" x="1825.2" y="1456" text-anchor="middle">−4.5</text>
<line x1="1992.3" y1="1427.3" x2="1992.3" y2="1432.3" stroke="#000" stroke-width="1.6"/>
<text class="t" x="1992.3" y="1456" text-anchor="middle">−4.3</text>
<rect x="1157" y="1178.4" width="835.3" height="247" fill="none" stroke="#000" stroke-width="3.8"/>
<circle class="mb" cx="1210.3" cy="1218" r="6.5"/>
<text class="lg" x="1260.7" y="1226.2">SH</text>
<rect class="mg" x="1382.6" y="1211.6" width="12.8" height="12.8"/>
<text class="lg" x="1439.8" y="1224.9">SH<tspan dy="4.2" font-size="19.8px">2</tspan></text>
<polygon class="mr" points="1577.7,1211.9 1589.5,1211.9 1583.6,1224.1"/>
<text class="lg" x="1633.9" y="1224.9">SH<tspan dy="4.2" font-size="19.8px">3</tspan></text>
<text class="xl" x="1574.3" y="1491" text-anchor="middle">Δ<tspan class="i">E</tspan><tspan dy="-9.7" dx="1.2" font-size="20.5px">0</tspan><tspan dy="9.7" dx="0.6">(</tspan><tspan class="i">S</tspan>)</text>
<g transform="translate(1076 1347) rotate(-90)">
<text class="yl" transform="scale(0.89 1)" x="0" y="0" font-size="53px" style="font-weight:normal" stroke="#000" stroke-width="1">Δ</text>
<text class="yl i" x="31.3" y="0" font-size="53px" stroke="#000" stroke-width="0.6">E</text>
<text class="yl i" x="64.2" y="-15.8" font-size="43px" stroke="#000" stroke-width="0.4">x</text>
<polygon points="19.3,-39.3 44.1,-46.9 68.9,-39.3 68.2,-37.6 44.1,-43 20,-37.6" fill="#000"/>
</g>
</g>
<text class="ttl" x="136.6" y="35.8" textLength="351.5" lengthAdjust="spacingAndGlyphs">(a) CoMoFeNiCu</text>
<text class="ttl" x="1150.8" y="35.8" textLength="344.5" lengthAdjust="spacingAndGlyphs">(b) AgAuCuPdPt</text>
</svg>
</body></html>
